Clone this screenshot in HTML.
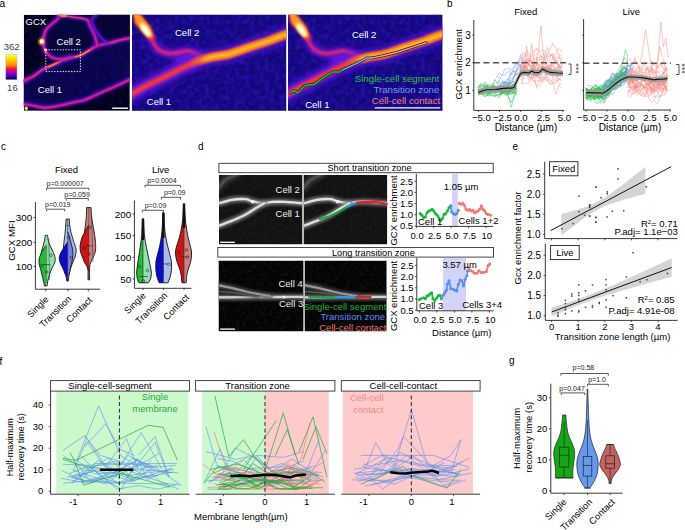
<!DOCTYPE html>
<html><head><meta charset="utf-8"><style>
html,body{margin:0;padding:0;background:#fff;}
svg{display:block;font-family:"Liberation Sans", sans-serif;}
</style></head><body>
<svg width="685" height="530" viewBox="0 0 685 530">
<defs>

<linearGradient id="cbar" x1="0" y1="0" x2="0" y2="1">
<stop offset="0" stop-color="#ffff30"/><stop offset="0.18" stop-color="#ffd800"/>
<stop offset="0.42" stop-color="#ff8a00"/><stop offset="0.56" stop-color="#e8183a"/>
<stop offset="0.70" stop-color="#b000b0"/><stop offset="0.83" stop-color="#4a00d8"/>
<stop offset="1" stop-color="#02002a"/></linearGradient>
<filter id="bl1" filterUnits="userSpaceOnUse" x="0" y="0" width="685" height="530"><feGaussianBlur stdDeviation="1.6"/></filter>
<filter id="bl2" filterUnits="userSpaceOnUse" x="0" y="0" width="685" height="530"><feGaussianBlur stdDeviation="0.8"/></filter>
<filter id="bl3" filterUnits="userSpaceOnUse" x="0" y="0" width="685" height="530"><feGaussianBlur stdDeviation="3"/></filter>
<filter id="bl4" filterUnits="userSpaceOnUse" x="0" y="0" width="685" height="530"><feGaussianBlur stdDeviation="0.45"/></filter>
<filter id="nzb" x="0" y="0" width="100%" height="100%" color-interpolation-filters="sRGB">
<feTurbulence type="fractalNoise" baseFrequency="0.2" numOctaves="2" seed="4"/>
<feColorMatrix type="matrix" values="0 0 0 0 0.2  0 0 0 0 0.07  0 0 0 0 0.72  1.8 0 0 0 -0.74"/>
</filter>
<filter id="nzg" x="0" y="0" width="100%" height="100%" color-interpolation-filters="sRGB">
<feTurbulence type="fractalNoise" baseFrequency="0.3" numOctaves="2" seed="9"/>
<feColorMatrix type="matrix" values="0 0 0 0 0.2  0 0 0 0 0.2  0 0 0 0 0.2  2.0 0 0 0 -0.9"/>
</filter>
<linearGradient id="fgr" gradientUnits="userSpaceOnUse" x1="188" y1="0" x2="208" y2="0"><stop offset="0" stop-color="#000"/><stop offset="1" stop-color="#fff"/></linearGradient>
<mask id="fadeR" maskUnits="userSpaceOnUse" x="0" y="0" width="685" height="530"><rect x="0" y="0" width="685" height="530" fill="url(#fgr)"/></mask>
<clipPath id="ca1"><rect x="23.8" y="14.8" width="106" height="96"/></clipPath>
<clipPath id="ca2"><rect x="132" y="14.8" width="154.2" height="96"/></clipPath>
<clipPath id="ca3"><rect x="288" y="14.8" width="154.4" height="96"/></clipPath>

<clipPath id="cd1"><rect x="219" y="175" width="83" height="69.4"/></clipPath>
<clipPath id="cd2"><rect x="304" y="175" width="83.3" height="69.4"/></clipPath>
<clipPath id="cd3"><rect x="218.5" y="260.6" width="85" height="70.8"/></clipPath>
<clipPath id="cd4"><rect x="305" y="260.6" width="81.7" height="70.8"/></clipPath>

</defs>
<text x="-0.50" y="7.00" font-size="10" text-anchor="start" fill="#000" >a</text>
<text x="447.00" y="7.00" font-size="10" text-anchor="start" fill="#000" >b</text>
<text x="1.00" y="150.30" font-size="10" text-anchor="start" fill="#000" >c</text>
<text x="198.00" y="150.30" font-size="10" text-anchor="start" fill="#000" >d</text>
<text x="512.50" y="150.30" font-size="10" text-anchor="start" fill="#000" >e</text>
<text x="-0.60" y="364.50" font-size="10" text-anchor="start" fill="#000" >f</text>
<text x="509.00" y="364.00" font-size="10" text-anchor="start" fill="#000" >g</text>
<path d="M478.3,90.6 L479.9,92.8 L481.6,91.7 L483.2,90.2 L484.9,88.4 L486.5,91.3 L488.2,92.9 L489.8,90.3 L491.5,89.3 L493.1,87.0 L494.8,86.8 L496.5,88.4 L498.1,89.5 L499.8,85.2 L501.4,87.8 L503.1,89.9 L504.7,91.5 L506.4,90.2 L508.0,89.4 L509.7,89.8 L511.3,89.5 L513.0,88.7 L514.6,87.6 L516.3,86.3" stroke="#2bb84a" stroke-width="0.55" fill="none" stroke-opacity="0.9" stroke-linejoin="round"/>
<path d="M478.2,93.1 L479.9,94.6 L481.6,92.9 L483.3,93.3 L485.0,91.8 L486.6,85.8 L488.3,88.4 L490.0,88.2 L491.7,91.6 L493.4,91.6 L495.0,89.9 L496.7,90.3 L498.4,89.7 L500.1,89.8 L501.8,91.7 L503.4,89.9 L505.1,91.3 L506.8,87.5 L508.5,89.5 L510.2,88.5 L511.8,89.1 L513.5,87.8 L515.2,89.6 L516.9,87.9" stroke="#2bb84a" stroke-width="0.55" fill="none" stroke-opacity="0.9" stroke-linejoin="round"/>
<path d="M477.6,88.0 L479.3,86.1 L481.0,85.6 L482.7,83.3 L484.4,85.5 L486.1,85.0 L487.8,84.8 L489.4,85.0 L491.1,85.2 L492.8,85.3 L494.5,86.6 L496.2,87.9 L497.9,87.5 L499.6,85.6 L501.3,83.1 L502.9,82.7 L504.6,82.3 L506.3,82.5 L508.0,82.7 L509.7,83.7 L511.4,83.1 L513.1,81.1 L514.7,83.6 L516.4,85.4" stroke="#2bb84a" stroke-width="0.55" fill="none" stroke-opacity="0.9" stroke-linejoin="round"/>
<path d="M477.9,90.8 L479.5,86.1 L481.2,84.8 L482.8,86.8 L484.5,86.8 L486.1,87.8 L487.8,90.0 L489.5,89.7 L491.1,88.7 L492.8,87.0 L494.4,86.7 L496.1,87.6 L497.7,85.9 L499.4,88.5 L501.0,87.2 L502.7,86.0 L504.4,87.6 L506.0,90.9 L507.7,91.1 L509.3,89.2 L511.0,87.7 L512.6,85.3 L514.3,88.2 L515.9,88.0" stroke="#2bb84a" stroke-width="0.55" fill="none" stroke-opacity="0.9" stroke-linejoin="round"/>
<path d="M478.8,86.3 L480.4,86.9 L482.1,90.3 L483.8,91.1 L485.4,90.5 L487.1,86.3 L488.8,87.3 L490.4,88.6 L492.1,86.8 L493.8,88.6 L495.4,86.2 L497.1,89.2 L498.8,90.3 L500.4,88.9 L502.1,86.9 L503.8,87.2 L505.4,87.9 L507.1,91.7 L508.8,91.7 L510.4,91.5 L512.1,91.3 L513.8,89.2 L515.4,89.7 L517.1,88.0" stroke="#2bb84a" stroke-width="0.55" fill="none" stroke-opacity="0.9" stroke-linejoin="round"/>
<path d="M478.3,89.7 L479.9,91.3 L481.6,91.7 L483.3,93.7 L485.0,89.7 L486.7,88.0 L488.3,89.7 L490.0,91.1 L491.7,93.0 L493.4,91.6 L495.1,90.7 L496.7,87.0 L498.4,88.3 L500.1,90.6 L501.8,94.5 L503.5,90.0 L505.2,89.8 L506.8,92.6 L508.5,91.0 L510.2,93.1 L511.9,85.6 L513.6,85.8 L515.2,86.8" stroke="#2bb84a" stroke-width="0.55" fill="none" stroke-opacity="0.9" stroke-linejoin="round"/>
<path d="M478.8,89.0 L480.4,92.0 L482.0,91.3 L483.7,87.4 L485.3,84.7 L487.0,88.1 L488.6,90.3 L490.3,87.3 L491.9,85.8 L493.6,88.1 L495.2,88.8 L496.8,89.0 L498.5,89.9 L500.1,89.5 L501.8,86.0 L503.4,85.2 L505.1,82.5 L506.7,84.6 L508.4,85.7 L510.0,87.7 L511.7,87.2 L513.3,88.9 L514.9,90.4 L516.6,87.1" stroke="#2bb84a" stroke-width="0.55" fill="none" stroke-opacity="0.9" stroke-linejoin="round"/>
<path d="M477.6,93.2 L479.2,92.8 L480.9,93.3 L482.6,94.8 L484.3,96.4 L486.0,96.8 L487.7,94.6 L489.4,93.1 L491.1,93.4 L492.7,90.3 L494.4,90.8 L496.1,90.4 L497.8,89.0 L499.5,91.7 L501.2,94.9 L502.9,92.0 L504.6,92.8 L506.3,89.9 L507.9,90.0 L509.6,88.9 L511.3,88.7 L513.0,93.3 L514.7,90.9 L516.4,92.0" stroke="#2bb84a" stroke-width="0.55" fill="none" stroke-opacity="0.9" stroke-linejoin="round"/>
<path d="M477.7,88.7 L479.4,92.0 L481.1,91.9 L482.7,94.7 L484.4,92.3 L486.1,89.9 L487.8,90.9 L489.4,89.7 L491.1,89.1 L492.8,87.4 L494.4,89.6 L496.1,90.7 L497.8,91.1 L499.5,87.0 L501.1,86.1 L502.8,87.6 L504.5,87.7 L506.1,87.9 L507.8,87.8 L509.5,88.4 L511.1,88.9 L512.8,90.6 L514.5,90.4 L516.2,86.5" stroke="#2bb84a" stroke-width="0.55" fill="none" stroke-opacity="0.9" stroke-linejoin="round"/>
<path d="M478.3,92.9 L480.0,94.2 L481.6,93.4 L483.3,92.9 L485.0,94.3 L486.7,95.0 L488.3,95.7 L490.0,96.1 L491.7,93.0 L493.4,96.8 L495.0,95.2 L496.7,94.9 L498.4,94.7 L500.1,93.4 L501.7,91.0 L503.4,91.5 L505.1,92.1 L506.8,93.1 L508.5,92.8 L510.1,90.8 L511.8,92.0 L513.5,93.8 L515.2,94.8" stroke="#2bb84a" stroke-width="0.55" fill="none" stroke-opacity="0.9" stroke-linejoin="round"/>
<path d="M478.2,92.1 L479.8,89.5 L481.5,91.8 L483.2,90.5 L484.9,89.7 L486.6,93.2 L488.2,94.9 L489.9,94.7 L491.6,91.5 L493.3,89.2 L495.0,92.2 L496.6,89.9 L498.3,91.1 L500.0,91.6 L501.7,92.1 L503.4,92.0 L505.0,94.3 L506.7,94.1 L508.4,94.4 L510.1,91.6 L511.7,87.4 L513.4,84.3 L515.1,87.8 L516.8,91.8" stroke="#2bb84a" stroke-width="0.55" fill="none" stroke-opacity="0.9" stroke-linejoin="round"/>
<path d="M478.0,92.7 L479.7,90.7 L481.3,90.4 L482.9,93.7 L484.5,93.6 L486.2,93.0 L487.8,92.2 L489.4,91.6 L491.0,92.0 L492.7,91.3 L494.3,92.2 L495.9,93.1 L497.5,89.5 L499.2,89.6 L500.8,89.5 L502.4,92.8 L504.0,92.0 L505.7,89.9 L507.3,92.4 L508.9,89.6 L510.5,90.6 L512.2,89.8 L513.8,90.2 L515.4,89.8 L517.0,87.9" stroke="#2bb84a" stroke-width="0.55" fill="none" stroke-opacity="0.9" stroke-linejoin="round"/>
<path d="M478.6,90.6 L480.2,93.7 L481.9,94.0 L483.5,92.0 L485.1,90.4 L486.8,94.6 L488.4,92.8 L490.0,89.6 L491.7,89.1 L493.3,91.2 L494.9,92.8 L496.6,93.1 L498.2,94.6 L499.9,93.8 L501.5,93.3 L503.1,92.9 L504.8,90.5 L506.4,91.6 L508.0,94.1 L509.7,91.2 L511.3,93.2 L512.9,93.1 L514.6,92.5 L516.2,92.5" stroke="#2bb84a" stroke-width="0.55" fill="none" stroke-opacity="0.9" stroke-linejoin="round"/>
<path d="M479.1,91.6 L480.8,89.4 L482.4,88.9 L484.1,88.5 L485.7,88.2 L487.4,92.7 L489.0,93.0 L490.7,91.5 L492.3,90.1 L494.0,88.0 L495.6,88.3 L497.3,89.6 L498.9,89.8 L500.6,90.2 L502.2,89.6 L503.9,88.6 L505.5,89.7 L507.2,91.0 L508.8,91.7 L510.5,88.8 L512.1,87.0 L513.8,86.5 L515.4,86.4 L517.1,86.4" stroke="#2bb84a" stroke-width="0.55" fill="none" stroke-opacity="0.9" stroke-linejoin="round"/>
<path d="M478.4,91.8 L480.0,90.2 L481.7,91.5 L483.3,91.4 L484.9,90.4 L486.6,88.3 L488.2,90.8 L489.9,92.2 L491.5,90.0 L493.1,92.0 L494.8,90.4 L496.4,91.3 L498.0,90.9 L499.7,93.5 L501.3,90.6 L502.9,91.1 L504.6,91.9 L506.2,87.4 L507.8,87.3 L509.5,82.6 L511.1,85.4 L512.8,88.0 L514.4,88.5 L516.0,86.2" stroke="#2bb84a" stroke-width="0.55" fill="none" stroke-opacity="0.9" stroke-linejoin="round"/>
<path d="M478.9,89.1 L480.6,90.2 L482.3,91.9 L484.0,89.2 L485.7,88.2 L487.3,88.6 L489.0,90.4 L490.7,93.1 L492.4,90.2 L494.1,89.7 L495.8,92.1 L497.5,90.5 L499.1,92.1 L500.8,90.4 L502.5,89.2 L504.2,88.2 L505.9,87.9 L507.6,87.8 L509.3,89.9 L510.9,89.6 L512.6,89.7 L514.3,89.2 L516.0,88.1" stroke="#2bb84a" stroke-width="0.55" fill="none" stroke-opacity="0.9" stroke-linejoin="round"/>
<path d="M478.9,95.2 L480.6,91.4 L482.3,91.7 L483.9,96.1 L485.6,94.8 L487.2,95.7 L488.9,93.5 L490.6,95.8 L492.2,95.4 L493.9,95.1 L495.6,94.9 L497.2,95.6 L498.9,98.0 L500.6,95.3 L502.2,93.0 L503.9,93.6 L505.6,95.5 L507.2,94.3 L508.9,93.1 L510.5,93.7 L512.2,93.6 L513.9,91.2 L515.5,94.2 L517.2,94.7" stroke="#2bb84a" stroke-width="0.55" fill="none" stroke-opacity="0.9" stroke-linejoin="round"/>
<path d="M478.6,87.9 L480.2,83.8 L481.8,85.0 L483.4,85.5 L485.1,81.8 L486.7,83.7 L488.3,87.4 L489.9,85.6 L491.6,86.9 L493.2,83.3 L494.8,86.2 L496.5,86.5 L498.1,88.3 L499.7,86.4 L501.3,87.2 L503.0,86.0 L504.6,85.9 L506.2,86.2 L507.8,83.7 L509.5,82.4 L511.1,83.2 L512.7,85.2 L514.3,86.4 L516.0,84.7" stroke="#2bb84a" stroke-width="0.55" fill="none" stroke-opacity="0.9" stroke-linejoin="round"/>
<path d="M478.6,93.7 L480.2,94.0 L481.9,92.8 L483.5,89.5 L485.1,90.1 L486.7,91.3 L488.3,93.7 L489.9,91.8 L491.6,91.2 L493.2,92.8 L494.8,93.4 L496.4,91.9 L498.0,89.4 L499.7,88.7 L501.3,89.0 L502.9,90.0 L504.5,89.4 L506.1,89.6 L507.7,86.0 L509.4,89.7 L511.0,90.3 L512.6,87.7 L514.2,89.0 L515.8,86.8" stroke="#2bb84a" stroke-width="0.55" fill="none" stroke-opacity="0.9" stroke-linejoin="round"/>
<path d="M478.9,92.0 L480.5,86.8 L482.2,86.7 L483.8,86.7 L485.5,86.1 L487.1,86.4 L488.8,85.7 L490.5,87.5 L492.1,88.3 L493.8,86.6 L495.4,88.0 L497.1,90.3 L498.7,89.5 L500.4,89.6 L502.0,87.7 L503.7,88.9 L505.3,90.1 L507.0,89.4 L508.7,85.9 L510.3,86.7 L512.0,86.8 L513.6,87.0 L515.3,86.6" stroke="#2bb84a" stroke-width="0.55" fill="none" stroke-opacity="0.9" stroke-linejoin="round"/>
<path d="M478.2,92.9 L479.9,94.0 L481.5,90.0 L483.2,92.2 L484.9,89.7 L486.6,90.1 L488.3,93.6 L490.0,92.7 L491.7,91.9 L493.4,92.8 L495.1,96.9 L496.7,95.6 L498.4,94.7 L500.1,95.7 L501.8,91.3 L503.5,92.5 L505.2,93.3 L506.9,93.5 L508.6,94.4 L510.2,94.8 L511.9,93.4 L513.6,92.4 L515.3,93.2 L517.0,92.9" stroke="#2bb84a" stroke-width="0.55" fill="none" stroke-opacity="0.9" stroke-linejoin="round"/>
<path d="M478.3,91.4 L479.9,91.7 L481.5,90.5 L483.2,92.3 L484.8,87.0 L486.4,88.5 L488.0,89.3 L489.7,90.7 L491.3,87.5 L492.9,86.2 L494.5,87.4 L496.2,90.7 L497.8,90.9 L499.4,89.0 L501.0,90.0 L502.7,91.5 L504.3,92.2 L505.9,91.9 L507.5,90.4 L509.2,90.6 L510.8,89.6 L512.4,84.5 L514.0,83.6 L515.7,87.7" stroke="#2bb84a" stroke-width="0.55" fill="none" stroke-opacity="0.9" stroke-linejoin="round"/>
<path d="M496.6,92.8 L498.2,92.0 L499.8,91.3 L501.5,89.7 L503.1,85.2 L504.7,82.6 L506.4,85.0 L508.0,84.4 L509.7,84.5 L511.3,80.6 L512.9,78.7 L514.6,75.5 L516.2,74.8 L517.9,78.0 L519.5,74.9 L521.1,72.8 L522.8,70.2" stroke="#6f9cf0" stroke-width="0.55" fill="none" stroke-opacity="0.9" stroke-linejoin="round"/>
<path d="M497.4,87.8 L499.1,85.5 L500.7,86.1 L502.4,88.0 L504.0,90.8 L505.7,88.4 L507.4,82.5 L509.0,80.4 L510.7,83.2 L512.3,82.0 L514.0,77.9 L515.7,71.8 L517.3,67.9 L519.0,66.5 L520.7,65.4 L522.3,67.0" stroke="#6f9cf0" stroke-width="0.55" fill="none" stroke-opacity="0.9" stroke-linejoin="round"/>
<path d="M497.3,91.6 L498.9,89.4 L500.6,84.9 L502.3,82.7 L504.0,81.5 L505.7,81.6 L507.4,84.2 L509.0,82.7 L510.7,79.8 L512.4,80.7 L514.1,76.1 L515.8,75.7 L517.4,73.6 L519.1,73.2 L520.8,74.5 L522.5,67.9" stroke="#6f9cf0" stroke-width="0.55" fill="none" stroke-opacity="0.9" stroke-linejoin="round"/>
<path d="M497.6,91.4 L499.3,90.6 L501.0,86.8 L502.7,81.4 L504.3,83.1 L506.0,82.1 L507.7,79.0 L509.4,79.8 L511.1,77.1 L512.7,78.0 L514.4,75.4 L516.1,73.4 L517.8,69.8 L519.4,68.7 L521.1,70.9 L522.8,68.2" stroke="#6f9cf0" stroke-width="0.55" fill="none" stroke-opacity="0.9" stroke-linejoin="round"/>
<path d="M496.4,77.8 L498.0,74.0 L499.6,73.0 L501.2,75.1 L502.8,74.3 L504.4,69.6 L506.0,69.5 L507.5,68.1 L509.1,67.8 L510.7,70.2 L512.3,69.0 L513.9,66.0 L515.5,63.7 L517.1,62.5 L518.7,65.5 L520.3,60.2 L521.9,56.9 L523.5,53.5" stroke="#6f9cf0" stroke-width="0.55" fill="none" stroke-opacity="0.9" stroke-linejoin="round"/>
<path d="M497.2,88.1 L498.9,91.5 L500.6,90.6 L502.2,90.6 L503.9,87.4 L505.6,82.8 L507.3,82.8 L508.9,84.5 L510.6,82.6 L512.3,81.6 L514.0,83.3 L515.7,78.9 L517.3,78.3 L519.0,74.9 L520.7,76.4 L522.4,71.9" stroke="#6f9cf0" stroke-width="0.55" fill="none" stroke-opacity="0.9" stroke-linejoin="round"/>
<path d="M497.5,75.8 L499.1,78.5 L500.8,77.3 L502.4,74.8 L504.1,75.5 L505.7,74.7 L507.3,72.0 L509.0,70.6 L510.6,75.6 L512.3,73.2 L513.9,69.2 L515.5,66.2 L517.2,62.0 L518.8,62.3 L520.5,55.1 L522.1,53.1 L523.7,52.4" stroke="#6f9cf0" stroke-width="0.55" fill="none" stroke-opacity="0.9" stroke-linejoin="round"/>
<path d="M497.4,82.4 L499.1,81.3 L500.7,85.2 L502.4,86.1 L504.0,82.9 L505.7,81.0 L507.3,78.9 L509.0,76.2 L510.7,74.9 L512.3,70.4 L514.0,71.5 L515.6,71.5 L517.3,69.6 L518.9,67.0 L520.6,64.5 L522.2,60.9" stroke="#6f9cf0" stroke-width="0.55" fill="none" stroke-opacity="0.9" stroke-linejoin="round"/>
<path d="M497.5,85.2 L499.1,80.0 L500.7,78.6 L502.2,80.0 L503.8,84.9 L505.4,84.6 L507.0,84.0 L508.6,81.6 L510.2,74.5 L511.8,72.3 L513.4,71.3 L514.9,72.9 L516.5,74.4 L518.1,73.0 L519.7,72.2 L521.3,63.7 L522.9,64.5" stroke="#6f9cf0" stroke-width="0.55" fill="none" stroke-opacity="0.9" stroke-linejoin="round"/>
<path d="M519.8,75.1 L521.5,75.8 L523.1,79.4 L524.8,77.4 L526.5,75.2 L528.2,76.0 L529.8,73.5 L531.5,71.2 L533.2,74.4 L534.9,80.4 L536.6,86.2 L538.2,84.2 L539.9,78.5 L541.6,74.6 L543.3,70.4 L545.0,65.6 L546.6,67.2 L548.3,65.4 L550.0,71.7 L551.7,70.1 L553.3,69.7 L555.0,70.9 L556.7,72.8 L558.4,76.4 L560.1,75.5 L561.7,71.4" stroke="#f4837a" stroke-width="0.5" fill="none" stroke-opacity="0.8" stroke-linejoin="round"/>
<path d="M521.2,74.8 L522.9,73.3 L524.6,73.8 L526.2,72.7 L527.9,74.5 L529.6,77.7 L531.2,77.7 L532.9,73.6 L534.6,68.8 L536.3,70.5 L537.9,68.6 L539.6,67.2 L541.3,67.2 L543.0,72.9 L544.6,71.9 L546.3,75.0 L548.0,71.0 L549.7,69.1 L551.3,68.0 L553.0,76.5 L554.7,73.9 L556.4,71.6 L558.0,75.6 L559.7,72.2 L561.4,72.1" stroke="#f4837a" stroke-width="0.5" fill="none" stroke-opacity="0.8" stroke-linejoin="round"/>
<path d="M520.7,62.4 L522.3,63.1 L524.0,63.6 L525.6,66.5 L527.3,68.8 L528.9,70.4 L530.5,72.7 L532.2,69.3 L533.8,70.0 L535.5,67.2 L537.1,70.9 L538.7,67.7 L540.4,68.0 L542.0,66.2 L543.7,67.0 L545.3,70.0 L546.9,66.1 L548.6,68.0 L550.2,68.6 L551.9,71.2 L553.5,70.1 L555.1,71.0 L556.8,69.7 L558.4,68.5 L560.1,70.6 L561.7,74.4" stroke="#f4837a" stroke-width="0.5" fill="none" stroke-opacity="0.8" stroke-linejoin="round"/>
<path d="M521.2,61.1 L522.8,61.1 L524.4,61.3 L526.1,61.1 L527.7,63.1 L529.3,63.2 L531.0,61.1 L532.6,63.7 L534.2,68.5 L535.9,68.5 L537.5,67.5 L539.1,72.8 L540.8,73.5 L542.4,70.4 L544.0,70.1 L545.7,69.1 L547.3,72.3 L548.9,68.5 L550.6,62.9 L552.2,64.2 L553.8,66.9 L555.5,70.2 L557.1,66.9 L558.7,66.5 L560.4,68.9 L562.0,64.8" stroke="#f4837a" stroke-width="0.5" fill="none" stroke-opacity="0.8" stroke-linejoin="round"/>
<path d="M520.6,54.7 L522.3,59.2 L524.0,56.4 L525.6,52.6 L527.3,50.8 L529.0,54.6 L530.6,57.6 L532.3,55.0 L534.0,52.9 L535.7,50.4 L537.3,48.6 L539.0,50.9 L540.7,53.8 L542.3,60.3 L544.0,57.7 L545.7,51.2 L547.4,54.1 L549.0,56.5 L550.7,55.1 L552.4,54.7 L554.0,59.6 L555.7,61.6 L557.4,64.3 L559.1,57.3 L560.7,59.7 L562.4,57.0" stroke="#f4837a" stroke-width="0.5" fill="none" stroke-opacity="0.8" stroke-linejoin="round"/>
<path d="M520.0,61.8 L521.6,63.6 L523.3,66.1 L524.9,66.9 L526.5,58.9 L528.2,65.2 L529.8,63.6 L531.5,67.7 L533.1,63.3 L534.8,59.9 L536.4,62.6 L538.0,57.0 L539.7,58.5 L541.3,56.1 L543.0,57.1 L544.6,60.4 L546.2,62.6 L547.9,63.6 L549.5,62.1 L551.2,62.5 L552.8,56.1 L554.4,58.6 L556.1,61.4 L557.7,64.3 L559.4,66.9 L561.0,70.9 L562.6,72.8" stroke="#f4837a" stroke-width="0.5" fill="none" stroke-opacity="0.8" stroke-linejoin="round"/>
<path d="M521.1,73.0 L522.8,72.0 L524.4,70.8 L526.1,73.8 L527.7,75.4 L529.4,78.1 L531.0,78.3 L532.7,80.5 L534.3,81.0 L536.0,80.9 L537.6,80.8 L539.3,81.0 L540.9,81.7 L542.6,77.0 L544.2,78.1 L545.9,81.0 L547.6,79.7 L549.2,82.5 L550.9,84.7 L552.5,83.0 L554.2,86.9 L555.8,94.6 L557.5,90.3 L559.1,84.7 L560.8,88.2" stroke="#f4837a" stroke-width="0.5" fill="none" stroke-opacity="0.8" stroke-linejoin="round"/>
<path d="M520.7,58.3 L522.4,58.6 L524.1,64.2 L525.7,60.1 L527.4,59.9 L529.1,58.4 L530.8,59.1 L532.5,65.0 L534.1,63.8 L535.8,66.5 L537.5,64.5 L539.2,65.6 L540.8,64.8 L542.5,63.9 L544.2,60.2 L545.9,57.3 L547.6,60.2 L549.2,59.6 L550.9,54.8 L552.6,53.7 L554.3,56.6 L555.9,57.0 L557.6,58.0 L559.3,55.0 L561.0,55.3 L562.6,54.6" stroke="#f4837a" stroke-width="0.5" fill="none" stroke-opacity="0.8" stroke-linejoin="round"/>
<path d="M520.9,65.2 L522.5,60.6 L524.2,58.6 L525.9,53.0 L527.6,59.3 L529.2,61.0 L530.9,55.5 L532.6,52.4 L534.2,50.3 L535.9,48.6 L537.6,49.8 L539.2,50.9 L540.9,51.6 L542.6,49.8 L544.2,51.3 L545.9,51.1 L547.6,47.5 L549.2,52.4 L550.9,55.1 L552.6,53.4 L554.2,54.5 L555.9,55.1 L557.6,48.8 L559.2,48.8 L560.9,51.3 L562.6,48.8" stroke="#f4837a" stroke-width="0.5" fill="none" stroke-opacity="0.8" stroke-linejoin="round"/>
<path d="M520.6,76.9 L522.2,69.2 L523.8,68.0 L525.4,69.7 L527.1,68.4 L528.7,71.2 L530.3,72.9 L531.9,72.1 L533.6,64.8 L535.2,72.6 L536.8,71.0 L538.4,66.9 L540.1,65.5 L541.7,60.8 L543.3,61.4 L544.9,62.8 L546.6,64.8 L548.2,68.5 L549.8,64.1 L551.4,68.9 L553.0,69.6 L554.7,71.4 L556.3,73.6 L557.9,79.6 L559.5,78.9 L561.2,76.9" stroke="#f4837a" stroke-width="0.5" fill="none" stroke-opacity="0.8" stroke-linejoin="round"/>
<path d="M521.0,64.5 L522.6,63.4 L524.3,67.2 L526.0,72.0 L527.7,74.4 L529.3,70.1 L531.0,66.9 L532.7,69.9 L534.4,69.4 L536.0,66.7 L537.7,63.2 L539.4,66.3 L541.1,67.5 L542.7,63.6 L544.4,57.5 L546.1,55.2 L547.8,61.3 L549.4,61.5 L551.1,63.8 L552.8,65.0 L554.5,67.7 L556.1,69.3 L557.8,69.3 L559.5,63.8 L561.2,62.7" stroke="#f4837a" stroke-width="0.5" fill="none" stroke-opacity="0.8" stroke-linejoin="round"/>
<path d="M521.0,72.6 L522.7,70.7 L524.4,65.8 L526.1,66.9 L527.7,68.7 L529.4,74.8 L531.1,73.7 L532.8,79.2 L534.4,73.9 L536.1,76.1 L537.8,75.9 L539.5,79.8 L541.1,80.4 L542.8,82.2 L544.5,77.4 L546.2,76.3 L547.8,79.6 L549.5,84.5 L551.2,82.9 L552.9,82.8 L554.6,84.6 L556.2,81.0 L557.9,80.4 L559.6,79.1 L561.3,80.1" stroke="#f4837a" stroke-width="0.5" fill="none" stroke-opacity="0.8" stroke-linejoin="round"/>
<path d="M520.5,68.8 L522.2,73.8 L523.8,72.3 L525.5,68.1 L527.2,67.4 L528.9,63.7 L530.5,65.4 L532.2,65.9 L533.9,70.2 L535.6,72.5 L537.2,77.0 L538.9,77.9 L540.6,75.2 L542.3,72.3 L543.9,68.0 L545.6,67.6 L547.3,70.7 L549.0,68.9 L550.6,69.2 L552.3,63.7 L554.0,58.7 L555.7,57.8 L557.3,63.2 L559.0,65.8 L560.7,65.7 L562.4,68.3" stroke="#f4837a" stroke-width="0.5" fill="none" stroke-opacity="0.8" stroke-linejoin="round"/>
<path d="M519.8,68.7 L521.5,71.2 L523.2,71.1 L524.8,66.7 L526.5,62.4 L528.1,60.8 L529.8,61.3 L531.5,60.8 L533.1,60.0 L534.8,57.9 L536.5,57.5 L538.1,64.3 L539.8,62.4 L541.4,62.5 L543.1,65.1 L544.8,64.3 L546.4,64.4 L548.1,65.4 L549.8,71.1 L551.4,70.3 L553.1,68.3 L554.7,68.6 L556.4,73.3 L558.1,71.1 L559.7,68.5 L561.4,68.0" stroke="#f4837a" stroke-width="0.5" fill="none" stroke-opacity="0.8" stroke-linejoin="round"/>
<path d="M520.4,84.0 L522.1,83.0 L523.7,73.0 L525.3,72.6 L527.0,74.0 L528.6,80.3 L530.2,80.3 L531.9,78.3 L533.5,81.0 L535.2,81.8 L536.8,88.5 L538.4,85.4 L540.1,86.4 L541.7,83.4 L543.3,79.0 L545.0,80.0 L546.6,77.4 L548.3,77.5 L549.9,78.9 L551.5,80.2 L553.2,83.0 L554.8,78.9 L556.5,76.8 L558.1,80.8 L559.7,78.4 L561.4,81.2" stroke="#f4837a" stroke-width="0.5" fill="none" stroke-opacity="0.8" stroke-linejoin="round"/>
<path d="M520.4,68.7 L522.1,67.1 L523.8,67.0 L525.4,65.0 L527.1,65.7 L528.8,65.7 L530.5,66.6 L532.2,64.9 L533.8,67.9 L535.5,66.1 L537.2,63.2 L538.9,65.6 L540.6,65.9 L542.2,69.1 L543.9,70.9 L545.6,70.8 L547.3,72.5 L549.0,75.4 L550.6,75.2 L552.3,74.4 L554.0,73.4 L555.7,71.4 L557.3,77.2 L559.0,72.4 L560.7,73.2 L562.4,75.7" stroke="#f4837a" stroke-width="0.5" fill="none" stroke-opacity="0.8" stroke-linejoin="round"/>
<path d="M521.3,79.0 L523.0,84.2 L524.7,83.1 L526.4,83.1 L528.0,84.0 L529.7,80.8 L531.4,75.6 L533.1,73.7 L534.7,77.5 L536.4,73.7 L538.1,76.2 L539.7,77.3 L541.4,79.8 L543.1,78.8 L544.8,77.6 L546.4,77.9 L548.1,79.2 L549.8,80.1 L551.5,81.5 L553.1,78.6 L554.8,80.6 L556.5,81.2 L558.2,81.8 L559.8,83.9 L561.5,84.1" stroke="#f4837a" stroke-width="0.5" fill="none" stroke-opacity="0.8" stroke-linejoin="round"/>
<path d="M520.0,65.3 L521.7,68.4 L523.3,66.8 L524.9,65.8 L526.6,68.0 L528.2,68.8 L529.9,66.2 L531.5,66.5 L533.2,66.1 L534.8,62.5 L536.5,63.1 L538.1,69.2 L539.8,71.2 L541.4,68.3 L543.1,68.7 L544.7,71.9 L546.4,77.1 L548.0,74.5 L549.6,68.9 L551.3,72.6 L552.9,78.2 L554.6,74.8 L556.2,75.2 L557.9,74.8 L559.5,74.5 L561.2,76.0" stroke="#f4837a" stroke-width="0.5" fill="none" stroke-opacity="0.8" stroke-linejoin="round"/>
<path d="M519.9,66.2 L521.5,66.7 L523.2,65.1 L524.9,68.3 L526.5,66.1 L528.2,64.1 L529.9,60.9 L531.5,62.1 L533.2,61.8 L534.9,64.5 L536.5,62.4 L538.2,61.1 L539.9,59.1 L541.5,61.8 L543.2,66.5 L544.9,66.8 L546.5,67.5 L548.2,69.6 L549.9,67.3 L551.5,64.5 L553.2,63.8 L554.9,61.2 L556.5,61.2 L558.2,65.3 L559.9,67.4 L561.5,68.3" stroke="#f4837a" stroke-width="0.5" fill="none" stroke-opacity="0.8" stroke-linejoin="round"/>
<path d="M519.8,70.6 L521.5,71.2 L523.1,67.0 L524.8,66.7 L526.5,64.7 L528.1,71.7 L529.8,76.7 L531.5,78.3 L533.1,74.1 L534.8,69.0 L536.5,71.4 L538.1,74.4 L539.8,76.9 L541.5,78.6 L543.1,75.7 L544.8,75.9 L546.5,69.6 L548.1,68.0 L549.8,70.8 L551.5,70.4 L553.1,71.2 L554.8,69.1 L556.5,67.0 L558.1,69.0 L559.8,67.0 L561.5,66.4" stroke="#f4837a" stroke-width="0.5" fill="none" stroke-opacity="0.8" stroke-linejoin="round"/>
<path d="M520.1,70.8 L521.7,66.5 L523.4,66.7 L525.0,68.6 L526.7,67.1 L528.3,71.5 L530.0,70.5 L531.6,73.9 L533.2,73.9 L534.9,77.9 L536.5,77.9 L538.2,73.2 L539.8,72.6 L541.5,75.2 L543.1,68.6 L544.8,70.2 L546.4,65.4 L548.1,67.3 L549.7,71.7 L551.3,65.5 L553.0,67.1 L554.6,65.0 L556.3,62.0 L557.9,67.0 L559.6,66.9 L561.2,68.7" stroke="#f4837a" stroke-width="0.5" fill="none" stroke-opacity="0.8" stroke-linejoin="round"/>
<path d="M521.0,59.5 L522.7,60.8 L524.3,59.4 L525.9,61.4 L527.6,61.7 L529.2,60.7 L530.8,60.5 L532.5,57.1 L534.1,55.3 L535.7,54.2 L537.4,53.6 L539.0,54.8 L540.6,59.6 L542.3,57.0 L543.9,52.9 L545.5,54.0 L547.2,56.3 L548.8,57.6 L550.4,54.9 L552.1,55.5 L553.7,59.6 L555.3,60.6 L557.0,63.1 L558.6,63.4 L560.2,65.7 L561.9,67.5" stroke="#f4837a" stroke-width="0.5" fill="none" stroke-opacity="0.8" stroke-linejoin="round"/>
<path d="M503.7,91.7 L507.9,95.8 L511.3,107.3 L513.8,98.5 L516.4,90.3" stroke="#2bb84a" stroke-width="0.55" fill="none" stroke-opacity="0.85" stroke-linejoin="round"/>
<path d="M507.1,93.0 L511.3,102.7 L514.7,94.4" stroke="#2bb84a" stroke-width="0.55" fill="none" stroke-opacity="0.85" stroke-linejoin="round"/>
<path d="M491.0,90.3 L495.2,79.3 L498.6,87.5" stroke="#2bb84a" stroke-width="0.55" fill="none" stroke-opacity="0.85" stroke-linejoin="round"/>
<path d="M534.1,68.3 L538.3,51.8 L540.9,25.7 L543.4,54.6 L546.8,65.5" stroke="#f4837a" stroke-width="0.55" fill="none" stroke-opacity="0.85" stroke-linejoin="round"/>
<path d="M524.0,71.0 L526.5,46.3 L529.1,65.5 L531.6,43.5 L534.1,62.8" stroke="#f4837a" stroke-width="0.55" fill="none" stroke-opacity="0.85" stroke-linejoin="round"/>
<path d="M546.0,57.3 L552.7,43.5 L557.8,51.8 L562.0,65.5" stroke="#f4837a" stroke-width="0.55" fill="none" stroke-opacity="0.85" stroke-linejoin="round"/>
<path d="M515.5,73.8 L518.1,61.4 L520.6,68.3" stroke="#6f9cf0" stroke-width="0.55" fill="none" stroke-opacity="0.85" stroke-linejoin="round"/>
<path d="M478.4,95.5 L482.6,93.8 L486.8,92.8 L491.0,92.8 L495.2,92.5 L499.5,91.9 L503.7,91.4 L507.9,91.1 L512.1,91.1 L513.8,90.5 L520.6,76.2 L524.8,75.4 L529.1,76.0 L531.6,74.0 L535.0,75.7 L539.2,75.4 L542.6,72.1 L546.0,74.0 L550.2,75.4 L554.4,75.7 L558.6,76.0 L562.9,76.2 L562.9,70.2 L558.6,70.0 L554.4,69.7 L550.2,69.4 L546.0,68.0 L542.6,66.1 L539.2,69.4 L535.0,69.7 L531.6,68.0 L529.1,70.0 L524.8,69.4 L520.6,70.2 L513.8,84.5 L512.1,85.1 L507.9,85.1 L503.7,85.4 L499.5,85.9 L495.2,86.5 L491.0,86.8 L486.8,86.8 L482.6,87.8 L478.4,89.5" stroke="none" stroke-width="0" fill="#9a9a9a" fill-opacity="0.9"/>
<path d="M478.4,92.5 L482.6,90.8 L486.8,89.8 L491.0,89.8 L495.2,89.5 L499.5,88.9 L503.7,88.4 L507.9,88.1 L512.1,88.1 L513.8,87.5 L520.6,73.2 L524.8,72.4 L529.1,73.0 L531.6,71.0 L535.0,72.7 L539.2,72.4 L542.6,69.1 L546.0,71.0 L550.2,72.4 L554.4,72.7 L558.6,73.0 L562.9,73.2" stroke="#111" stroke-width="1.1" fill="none" stroke-linejoin="round"/>
<line x1="473.80" y1="62.80" x2="566.00" y2="62.80" stroke="#555" stroke-width="1.5" stroke-dasharray="6,3.6"/>
<line x1="473.80" y1="20.00" x2="473.80" y2="110.40" stroke="#222" stroke-width="0.9" />
<line x1="473.80" y1="110.40" x2="564.00" y2="110.40" stroke="#222" stroke-width="0.9" />
<line x1="472.30" y1="90.30" x2="473.80" y2="90.30" stroke="#222" stroke-width="0.8" />
<line x1="472.30" y1="62.80" x2="473.80" y2="62.80" stroke="#222" stroke-width="0.8" />
<line x1="472.30" y1="35.20" x2="473.80" y2="35.20" stroke="#222" stroke-width="0.8" />
<line x1="478.35" y1="110.40" x2="478.35" y2="111.90" stroke="#222" stroke-width="0.8" />
<line x1="499.48" y1="110.40" x2="499.48" y2="111.90" stroke="#222" stroke-width="0.8" />
<line x1="520.60" y1="110.40" x2="520.60" y2="111.90" stroke="#222" stroke-width="0.8" />
<line x1="541.73" y1="110.40" x2="541.73" y2="111.90" stroke="#222" stroke-width="0.8" />
<line x1="562.85" y1="110.40" x2="562.85" y2="111.90" stroke="#222" stroke-width="0.8" />
<text x="525.80" y="15.00" font-size="9.5" text-anchor="middle" fill="#000" >Fixed</text>
<text x="481.40" y="121.00" font-size="9.6" text-anchor="middle" fill="#000" >−5.0</text>
<text x="502.50" y="121.00" font-size="9.6" text-anchor="middle" fill="#000" >−2.5</text>
<text x="521.00" y="121.00" font-size="9.6" text-anchor="middle" fill="#000" >0.0</text>
<text x="543.50" y="121.00" font-size="9.6" text-anchor="middle" fill="#000" >2.5</text>
<text x="564.50" y="121.00" font-size="9.6" text-anchor="middle" fill="#000" >5.0</text>
<text x="470.80" y="93.80" font-size="10" text-anchor="end" fill="#000" >1</text>
<text x="470.80" y="66.30" font-size="10" text-anchor="end" fill="#000" >2</text>
<text x="470.80" y="38.70" font-size="10" text-anchor="end" fill="#000" >3</text>
<path d="M568.5,64 H571 V74.5 H568.5" stroke="#222" stroke-width="0.8" fill="none" />
<text x="573.40" y="68.60" font-size="9" text-anchor="middle" fill="#444" transform="rotate(90 573.4 68.6)" >***</text>
<path d="M586.7,96.3 L588.4,98.1 L590.0,98.5 L591.7,98.6 L593.3,97.9 L594.9,96.5 L596.6,94.4 L598.2,94.8 L599.9,93.2 L601.5,93.6 L603.2,94.2 L604.8,94.0 L606.5,94.7 L608.1,95.8 L609.8,92.9 L611.4,90.8 L613.1,88.0 L614.7,85.7 L616.4,86.8 L618.0,85.9 L619.7,85.5 L621.3,80.6 L623.0,79.2 L624.6,77.3 L626.2,77.7 L627.9,78.0" stroke="#2bb84a" stroke-width="0.55" fill="none" stroke-opacity="0.85" stroke-linejoin="round"/>
<path d="M585.7,98.1 L587.3,99.2 L588.9,99.2 L590.5,98.9 L592.2,98.8 L593.8,97.1 L595.4,95.2 L597.0,95.1 L598.6,96.8 L600.2,95.9 L601.8,95.5 L603.5,93.7 L605.1,92.7 L606.7,95.2 L608.3,94.5 L609.9,92.8 L611.5,88.6 L613.2,87.6 L614.8,84.3 L616.4,83.0 L618.0,84.6 L619.6,82.5 L621.2,79.7 L622.8,77.8 L624.5,79.7 L626.1,76.6" stroke="#2bb84a" stroke-width="0.55" fill="none" stroke-opacity="0.85" stroke-linejoin="round"/>
<path d="M586.1,100.0 L587.7,95.1 L589.4,90.1 L591.1,89.9 L592.8,91.0 L594.4,88.8 L596.1,90.5 L597.8,94.1 L599.4,99.2 L601.1,95.6 L602.8,99.7 L604.4,101.8 L606.1,98.2 L607.8,94.0 L609.5,92.8 L611.1,87.7 L612.8,86.3 L614.5,84.2 L616.1,82.0 L617.8,82.0 L619.5,79.9 L621.1,73.9 L622.8,76.1 L624.5,74.7 L626.2,72.5 L627.8,72.7" stroke="#2bb84a" stroke-width="0.55" fill="none" stroke-opacity="0.85" stroke-linejoin="round"/>
<path d="M586.1,92.4 L587.7,91.5 L589.4,93.9 L591.1,96.4 L592.7,92.1 L594.4,91.4 L596.0,96.5 L597.7,96.4 L599.4,97.5 L601.0,97.6 L602.7,99.8 L604.3,97.2 L606.0,95.2 L607.7,92.9 L609.3,88.4 L611.0,86.7 L612.7,87.9 L614.3,89.1 L616.0,86.8 L617.6,81.6 L619.3,78.2 L621.0,78.7 L622.6,74.9 L624.3,73.5 L625.9,74.1 L627.6,71.8" stroke="#2bb84a" stroke-width="0.55" fill="none" stroke-opacity="0.85" stroke-linejoin="round"/>
<path d="M586.1,94.5 L587.7,97.7 L589.4,97.1 L591.0,97.2 L592.7,97.3 L594.3,99.8 L595.9,96.3 L597.6,94.2 L599.2,92.3 L600.8,93.4 L602.5,92.0 L604.1,91.9 L605.8,90.2 L607.4,91.2 L609.0,90.1 L610.7,90.0 L612.3,90.8 L613.9,89.5 L615.6,89.4 L617.2,88.8 L618.9,86.5 L620.5,84.9 L622.1,78.0 L623.8,74.0 L625.4,72.3 L627.0,71.3" stroke="#2bb84a" stroke-width="0.55" fill="none" stroke-opacity="0.85" stroke-linejoin="round"/>
<path d="M586.5,98.2 L588.1,98.1 L589.7,95.7 L591.4,97.5 L593.0,92.2 L594.6,94.9 L596.3,93.7 L597.9,97.9 L599.5,95.4 L601.2,98.2 L602.8,97.1 L604.4,95.3 L606.1,92.0 L607.7,89.9 L609.3,88.5 L611.0,88.2 L612.6,83.2 L614.2,84.4 L615.9,83.6 L617.5,83.6 L619.1,81.7 L620.8,82.2 L622.4,80.9 L624.0,77.7 L625.7,77.3 L627.3,74.4" stroke="#2bb84a" stroke-width="0.55" fill="none" stroke-opacity="0.85" stroke-linejoin="round"/>
<path d="M586.8,94.8 L588.4,96.5 L590.0,95.4 L591.7,94.3 L593.3,92.9 L594.9,92.4 L596.5,93.0 L598.1,97.5 L599.7,96.1 L601.4,97.2 L603.0,96.7 L604.6,93.4 L606.2,94.8 L607.8,91.0 L609.4,86.0 L611.1,86.1 L612.7,87.3 L614.3,84.1 L615.9,84.0 L617.5,81.6 L619.1,79.2 L620.8,82.7 L622.4,80.6 L624.0,82.4 L625.6,81.3 L627.2,77.5" stroke="#2bb84a" stroke-width="0.55" fill="none" stroke-opacity="0.85" stroke-linejoin="round"/>
<path d="M586.2,93.5 L587.8,93.0 L589.4,94.7 L591.0,96.2 L592.6,94.8 L594.2,96.5 L595.9,97.4 L597.5,94.9 L599.1,96.4 L600.7,97.5 L602.3,94.1 L603.9,93.4 L605.6,96.5 L607.2,94.9 L608.8,88.0 L610.4,81.5 L612.0,83.2 L613.6,81.7 L615.3,80.2 L616.9,79.5 L618.5,82.8 L620.1,78.6 L621.7,76.9 L623.4,76.4 L625.0,78.2 L626.6,76.8" stroke="#2bb84a" stroke-width="0.55" fill="none" stroke-opacity="0.85" stroke-linejoin="round"/>
<path d="M585.8,89.2 L587.5,88.6 L589.2,91.7 L590.9,92.5 L592.5,91.0 L594.2,92.0 L595.9,88.7 L597.6,90.6 L599.2,90.1 L600.9,89.2 L602.6,92.0 L604.3,87.7 L605.9,87.4 L607.6,87.5 L609.3,87.0 L611.0,88.1 L612.6,87.5 L614.3,80.9 L616.0,79.5 L617.7,78.4 L619.3,76.2 L621.0,73.6 L622.7,74.1 L624.3,72.7 L626.0,70.3" stroke="#2bb84a" stroke-width="0.55" fill="none" stroke-opacity="0.85" stroke-linejoin="round"/>
<path d="M586.8,93.7 L588.4,96.3 L590.1,95.3 L591.7,93.3 L593.3,93.8 L594.9,94.0 L596.6,95.7 L598.2,96.0 L599.8,95.9 L601.4,95.1 L603.1,92.1 L604.7,90.1 L606.3,87.5 L607.9,84.9 L609.6,86.0 L611.2,82.5 L612.8,82.4 L614.4,84.5 L616.1,83.7 L617.7,81.6 L619.3,82.7 L620.9,75.2 L622.6,74.7 L624.2,72.1 L625.8,74.0 L627.5,72.0" stroke="#2bb84a" stroke-width="0.55" fill="none" stroke-opacity="0.85" stroke-linejoin="round"/>
<path d="M586.8,89.0 L588.4,91.3 L590.0,89.3 L591.7,89.6 L593.3,91.0 L594.9,94.4 L596.6,92.5 L598.2,91.8 L599.8,85.8 L601.5,89.4 L603.1,85.9 L604.7,83.0 L606.4,82.4 L608.0,81.7 L609.6,80.3 L611.3,82.7 L612.9,77.9 L614.5,77.9 L616.2,78.1 L617.8,76.2 L619.4,79.9 L621.1,78.8 L622.7,77.2 L624.3,76.5 L625.9,71.2" stroke="#2bb84a" stroke-width="0.55" fill="none" stroke-opacity="0.85" stroke-linejoin="round"/>
<path d="M586.4,93.5 L588.0,93.1 L589.7,92.3 L591.3,93.1 L593.0,93.9 L594.7,93.4 L596.3,93.2 L598.0,91.8 L599.6,95.3 L601.3,96.6 L602.9,96.1 L604.6,92.4 L606.2,93.2 L607.9,88.1 L609.5,84.0 L611.2,85.3 L612.8,81.8 L614.5,85.5 L616.1,83.1 L617.8,84.2 L619.4,78.9 L621.1,75.6 L622.7,73.7 L624.4,74.1 L626.0,74.9" stroke="#2bb84a" stroke-width="0.55" fill="none" stroke-opacity="0.85" stroke-linejoin="round"/>
<path d="M586.5,94.0 L588.2,93.1 L589.8,98.1 L591.4,99.1 L593.1,98.5 L594.7,98.0 L596.4,99.9 L598.0,97.6 L599.7,98.5 L601.3,97.0 L602.9,99.4 L604.6,98.2 L606.2,93.2 L607.9,94.4 L609.5,91.2 L611.1,85.7 L612.8,83.2 L614.4,85.3 L616.1,78.9 L617.7,80.0 L619.4,77.2 L621.0,74.8 L622.6,75.4 L624.3,73.2 L625.9,78.1 L627.6,74.8" stroke="#2bb84a" stroke-width="0.55" fill="none" stroke-opacity="0.85" stroke-linejoin="round"/>
<path d="M585.6,97.4 L587.2,99.2 L588.9,97.5 L590.5,95.8 L592.2,96.8 L593.8,96.9 L595.4,102.5 L597.1,104.2 L598.7,101.3 L600.4,103.3 L602.0,99.9 L603.7,96.4 L605.3,97.6 L606.9,98.1 L608.6,95.9 L610.2,93.2 L611.9,89.8 L613.5,89.2 L615.2,87.8 L616.8,88.4 L618.5,85.6 L620.1,85.5 L621.7,81.3 L623.4,78.8 L625.0,81.4 L626.7,78.4" stroke="#2bb84a" stroke-width="0.55" fill="none" stroke-opacity="0.85" stroke-linejoin="round"/>
<path d="M585.8,93.8 L587.5,91.4 L589.1,93.2 L590.8,94.9 L592.5,93.5 L594.1,97.6 L595.8,97.6 L597.5,98.2 L599.1,98.1 L600.8,101.0 L602.5,103.0 L604.1,103.0 L605.8,96.0 L607.4,94.8 L609.1,91.5 L610.8,90.5 L612.4,89.5 L614.1,85.3 L615.8,89.3 L617.4,87.0 L619.1,86.1 L620.8,85.3 L622.4,85.6 L624.1,85.0 L625.8,83.4 L627.4,77.3" stroke="#2bb84a" stroke-width="0.55" fill="none" stroke-opacity="0.85" stroke-linejoin="round"/>
<path d="M585.7,91.1 L587.3,91.3 L589.0,91.8 L590.6,91.1 L592.2,93.3 L593.8,92.6 L595.4,89.3 L597.1,91.9 L598.7,93.9 L600.3,96.4 L601.9,94.8 L603.5,92.0 L605.2,91.4 L606.8,90.3 L608.4,86.1 L610.0,85.2 L611.6,82.8 L613.3,82.9 L614.9,79.1 L616.5,77.0 L618.1,77.3 L619.7,77.7 L621.4,71.2 L623.0,73.9 L624.6,74.7 L626.2,77.6" stroke="#2bb84a" stroke-width="0.55" fill="none" stroke-opacity="0.85" stroke-linejoin="round"/>
<path d="M586.4,89.5 L588.0,91.2 L589.7,92.9 L591.3,92.1 L593.0,90.6 L594.6,90.5 L596.2,91.2 L597.9,89.2 L599.5,88.9 L601.2,90.0 L602.8,88.7 L604.5,87.1 L606.1,84.3 L607.7,82.2 L609.4,80.6 L611.0,81.6 L612.7,77.9 L614.3,75.7 L616.0,76.9 L617.6,73.4 L619.3,73.1 L620.9,74.4 L622.5,72.8 L624.2,73.6 L625.8,68.8 L627.5,70.1" stroke="#2bb84a" stroke-width="0.55" fill="none" stroke-opacity="0.85" stroke-linejoin="round"/>
<path d="M585.6,97.1 L587.3,100.2 L588.9,99.0 L590.6,101.7 L592.2,98.4 L593.9,99.7 L595.6,98.7 L597.2,98.1 L598.9,100.5 L600.5,98.3 L602.2,94.2 L603.8,96.1 L605.5,95.6 L607.1,92.9 L608.8,89.0 L610.4,90.2 L612.1,88.3 L613.7,86.2 L615.4,83.0 L617.0,84.1 L618.7,77.8 L620.3,74.3 L622.0,78.2 L623.7,78.9 L625.3,76.4 L627.0,76.3" stroke="#2bb84a" stroke-width="0.55" fill="none" stroke-opacity="0.85" stroke-linejoin="round"/>
<path d="M586.2,90.3 L587.8,91.3 L589.4,90.4 L591.1,88.5 L592.7,87.2 L594.3,88.5 L595.9,85.4 L597.6,88.3 L599.2,87.5 L600.8,85.3 L602.4,87.1 L604.1,85.8 L605.7,86.8 L607.3,87.0 L608.9,85.1 L610.6,82.8 L612.2,81.1 L613.8,78.9 L615.4,77.6 L617.1,77.1 L618.7,77.3 L620.3,75.8 L621.9,74.0 L623.6,72.5 L625.2,73.1 L626.8,68.3" stroke="#2bb84a" stroke-width="0.55" fill="none" stroke-opacity="0.85" stroke-linejoin="round"/>
<path d="M585.7,96.1 L587.4,96.6 L589.0,95.2 L590.7,96.6 L592.3,96.2 L593.9,97.1 L595.6,95.5 L597.2,94.9 L598.9,94.0 L600.5,94.0 L602.2,94.2 L603.8,93.3 L605.5,91.0 L607.1,92.5 L608.8,93.2 L610.4,90.6 L612.1,88.3 L613.7,87.1 L615.4,82.5 L617.0,81.1 L618.7,78.1 L620.3,78.0 L622.0,80.2 L623.6,80.9 L625.3,76.1 L626.9,74.6" stroke="#2bb84a" stroke-width="0.55" fill="none" stroke-opacity="0.85" stroke-linejoin="round"/>
<path d="M585.2,87.4 L586.8,89.8 L588.5,92.4 L590.1,95.4 L591.7,91.8 L593.3,94.8 L595.0,94.4 L596.6,93.2 L598.2,91.5 L599.8,95.2 L601.5,94.3 L603.1,94.6 L604.7,89.2 L606.3,88.5 L608.0,88.4 L609.6,83.2 L611.2,82.5 L612.9,80.3 L614.5,79.3 L616.1,79.0 L617.7,76.6 L619.4,77.3 L621.0,78.5 L622.6,77.2 L624.2,73.4 L625.9,72.5 L627.5,68.6" stroke="#2bb84a" stroke-width="0.55" fill="none" stroke-opacity="0.85" stroke-linejoin="round"/>
<path d="M585.5,88.1 L587.2,89.1 L588.8,89.4 L590.5,89.5 L592.1,87.4 L593.8,85.2 L595.4,84.7 L597.1,86.1 L598.7,87.6 L600.4,87.8 L602.0,89.5 L603.7,88.7 L605.3,87.8 L607.0,86.1 L608.6,89.0 L610.3,85.6 L611.9,81.7 L613.6,82.1 L615.2,76.4 L616.9,75.4 L618.5,75.6 L620.2,71.4 L621.8,72.7 L623.5,66.0 L625.1,67.9 L626.8,65.3" stroke="#2bb84a" stroke-width="0.55" fill="none" stroke-opacity="0.85" stroke-linejoin="round"/>
<path d="M585.2,95.8 L586.8,94.9 L588.5,92.9 L590.1,97.8 L591.8,95.4 L593.4,97.2 L595.1,97.3 L596.7,96.4 L598.4,96.9 L600.0,94.8 L601.6,97.8 L603.3,95.2 L604.9,95.3 L606.6,93.5 L608.2,91.3 L609.9,91.9 L611.5,88.3 L613.2,82.2 L614.8,83.3 L616.4,83.8 L618.1,79.0 L619.7,75.2 L621.4,79.4 L623.0,78.2 L624.7,77.7 L626.3,75.0" stroke="#2bb84a" stroke-width="0.55" fill="none" stroke-opacity="0.85" stroke-linejoin="round"/>
<path d="M586.1,98.1 L587.7,97.6 L589.4,96.5 L591.0,93.8 L592.6,94.6 L594.3,95.5 L595.9,98.2 L597.5,97.6 L599.2,95.2 L600.8,95.4 L602.4,94.0 L604.0,95.4 L605.7,93.0 L607.3,93.0 L608.9,93.2 L610.6,92.7 L612.2,88.3 L613.8,86.2 L615.5,85.9 L617.1,85.3 L618.7,82.3 L620.3,82.3 L622.0,78.7 L623.6,77.6 L625.2,78.0 L626.9,76.9" stroke="#2bb84a" stroke-width="0.55" fill="none" stroke-opacity="0.85" stroke-linejoin="round"/>
<path d="M586.1,91.7 L587.8,92.6 L589.4,93.0 L591.0,91.3 L592.7,93.5 L594.3,97.1 L595.9,91.2 L597.6,90.6 L599.2,90.2 L600.8,88.0 L602.5,86.8 L604.1,84.3 L605.7,83.0 L607.4,82.0 L609.0,81.4 L610.6,81.6 L612.3,81.1 L613.9,86.9 L615.5,79.8 L617.2,78.3 L618.8,78.5 L620.4,73.9 L622.1,74.2 L623.7,71.7 L625.3,72.0 L627.0,72.1" stroke="#2bb84a" stroke-width="0.55" fill="none" stroke-opacity="0.85" stroke-linejoin="round"/>
<path d="M586.4,89.7 L588.1,91.3 L589.7,90.4 L591.3,88.7 L593.0,87.9 L594.6,88.5 L596.3,88.6 L597.9,87.0 L599.5,88.7 L601.2,90.7 L602.8,91.9 L604.4,84.5 L606.1,87.5 L607.7,86.8 L609.4,89.4 L611.0,86.9 L612.6,85.1 L614.3,83.3 L615.9,79.9 L617.5,76.0 L619.2,75.5 L620.8,76.5 L622.4,76.0 L624.1,74.1 L625.7,73.9 L627.4,71.9" stroke="#2bb84a" stroke-width="0.55" fill="none" stroke-opacity="0.85" stroke-linejoin="round"/>
<path d="M585.6,94.5 L587.2,91.7 L588.8,94.1 L590.4,96.7 L592.0,91.0 L593.7,89.7 L595.3,89.8 L596.9,88.5 L598.5,92.0 L600.1,94.4 L601.8,90.6 L603.4,90.6 L605.0,92.8 L606.6,90.7 L608.2,85.6 L609.9,87.0 L611.5,88.4 L613.1,90.0 L614.7,86.2 L616.3,83.3 L618.0,82.0 L619.6,80.5 L621.2,78.5 L622.8,77.4 L624.4,76.0 L626.1,71.6 L627.7,70.3" stroke="#2bb84a" stroke-width="0.55" fill="none" stroke-opacity="0.85" stroke-linejoin="round"/>
<path d="M585.8,96.1 L587.4,93.2 L589.1,96.2 L590.7,94.0 L592.4,95.0 L594.1,94.5 L595.7,95.6 L597.4,96.7 L599.0,97.6 L600.7,96.3 L602.3,93.3 L604.0,94.5 L605.6,93.5 L607.3,93.0 L608.9,91.9 L610.6,87.7 L612.3,86.8 L613.9,86.6 L615.6,82.7 L617.2,80.5 L618.9,78.6 L620.5,77.2 L622.2,77.3 L623.8,74.0 L625.5,74.2 L627.1,72.1" stroke="#2bb84a" stroke-width="0.55" fill="none" stroke-opacity="0.85" stroke-linejoin="round"/>
<path d="M585.6,93.9 L587.3,93.0 L588.9,92.4 L590.5,92.2 L592.2,96.1 L593.8,93.2 L595.4,94.1 L597.1,94.7 L598.7,90.7 L600.3,91.8 L602.0,90.2 L603.6,93.7 L605.2,90.1 L606.9,88.3 L608.5,86.5 L610.1,87.2 L611.8,84.5 L613.4,83.4 L615.0,79.2 L616.7,79.7 L618.3,81.5 L619.9,76.9 L621.6,77.6 L623.2,75.9 L624.8,72.3 L626.4,67.9" stroke="#2bb84a" stroke-width="0.55" fill="none" stroke-opacity="0.85" stroke-linejoin="round"/>
<path d="M585.3,90.0 L586.9,89.7 L588.6,92.0 L590.2,91.1 L591.8,88.8 L593.4,89.4 L595.1,90.3 L596.7,89.1 L598.3,91.5 L599.9,91.7 L601.6,87.0 L603.2,86.7 L604.8,85.3 L606.4,85.6 L608.1,86.4 L609.7,87.1 L611.3,84.7 L612.9,80.2 L614.6,79.6 L616.2,76.9 L617.8,76.9 L619.4,75.5 L621.1,73.6 L622.7,67.0 L624.3,67.8 L625.9,69.7" stroke="#2bb84a" stroke-width="0.55" fill="none" stroke-opacity="0.85" stroke-linejoin="round"/>
<path d="M586.6,84.2 L588.3,86.2 L589.9,85.3 L591.6,86.3 L593.3,87.6 L594.9,85.8 L596.6,85.0 L598.3,89.3 L599.9,86.6 L601.6,84.8 L603.3,84.5 L604.9,82.8 L606.6,81.3 L608.2,79.7 L609.9,79.5 L611.6,76.1 L613.2,73.0 L614.9,74.6 L616.6,73.3 L618.2,73.7 L619.9,72.6 L621.6,68.5 L623.2,67.3 L624.9,65.7 L626.6,65.2" stroke="#2bb84a" stroke-width="0.55" fill="none" stroke-opacity="0.85" stroke-linejoin="round"/>
<path d="M585.2,90.9 L586.9,90.0 L588.6,91.3 L590.3,92.9 L591.9,95.7 L593.6,92.7 L595.3,90.2 L596.9,87.4 L598.6,89.7 L600.3,89.9 L601.9,95.5 L603.6,93.1 L605.3,93.4 L606.9,93.0 L608.6,92.3 L610.3,91.3 L611.9,89.5 L613.6,85.7 L615.3,85.3 L616.9,83.8 L618.6,81.9 L620.3,76.0 L622.0,74.3 L623.6,75.3 L625.3,72.7 L627.0,68.8" stroke="#2bb84a" stroke-width="0.55" fill="none" stroke-opacity="0.85" stroke-linejoin="round"/>
<path d="M585.4,97.2 L587.1,96.7 L588.8,94.7 L590.4,92.5 L592.1,94.6 L593.7,97.8 L595.4,97.8 L597.1,96.9 L598.7,97.6 L600.4,96.3 L602.1,98.2 L603.7,95.3 L605.4,92.1 L607.1,87.3 L608.7,87.8 L610.4,85.4 L612.1,86.6 L613.7,86.7 L615.4,86.4 L617.1,84.3 L618.7,84.7 L620.4,85.3 L622.0,77.5 L623.7,77.0 L625.4,75.5 L627.0,73.7" stroke="#2bb84a" stroke-width="0.55" fill="none" stroke-opacity="0.85" stroke-linejoin="round"/>
<path d="M585.6,87.8 L587.3,91.0 L588.9,89.8 L590.6,91.7 L592.2,93.6 L593.9,90.9 L595.5,90.2 L597.2,88.9 L598.8,88.2 L600.5,92.8 L602.1,90.7 L603.8,86.1 L605.4,85.6 L607.1,83.3 L608.7,80.4 L610.4,77.4 L612.0,83.1 L613.7,81.9 L615.3,80.2 L617.0,78.8 L618.6,74.9 L620.3,76.4 L621.9,78.9 L623.6,74.7 L625.2,72.6 L626.9,68.3" stroke="#2bb84a" stroke-width="0.55" fill="none" stroke-opacity="0.85" stroke-linejoin="round"/>
<path d="M585.5,94.6 L587.2,96.3 L588.8,91.3 L590.5,92.3 L592.2,90.6 L593.8,90.6 L595.5,90.0 L597.2,89.1 L598.8,88.4 L600.5,88.6 L602.2,90.0 L603.8,88.8 L605.5,92.1 L607.1,91.6 L608.8,86.3 L610.5,84.1 L612.1,86.0 L613.8,86.3 L615.5,85.7 L617.1,83.3 L618.8,78.8 L620.5,77.3 L622.1,74.3 L623.8,75.7 L625.5,73.8 L627.1,71.5" stroke="#2bb84a" stroke-width="0.55" fill="none" stroke-opacity="0.85" stroke-linejoin="round"/>
<path d="M585.2,90.2 L586.8,90.7 L588.5,94.1 L590.1,95.2 L591.8,96.2 L593.4,92.3 L595.1,91.4 L596.7,92.2 L598.4,93.9 L600.0,94.9 L601.7,91.6 L603.3,92.3 L605.0,92.4 L606.6,92.2 L608.2,88.7 L609.9,90.8 L611.5,89.0 L613.2,85.2 L614.8,81.9 L616.5,79.8 L618.1,79.6 L619.8,76.8 L621.4,73.0 L623.1,74.8 L624.7,75.3 L626.3,74.2" stroke="#2bb84a" stroke-width="0.55" fill="none" stroke-opacity="0.85" stroke-linejoin="round"/>
<path d="M586.2,94.5 L587.9,95.9 L589.6,94.6 L591.3,94.9 L592.9,92.8 L594.6,95.2 L596.3,96.4 L598.0,94.9 L599.6,94.0 L601.3,94.5 L603.0,93.0 L604.7,92.4 L606.3,91.1 L608.0,91.4 L609.7,88.7 L611.4,84.8 L613.0,83.8 L614.7,82.5 L616.4,79.2 L618.1,79.2 L619.8,79.0 L621.4,77.0 L623.1,72.2 L624.8,72.6 L626.5,71.6" stroke="#2bb84a" stroke-width="0.55" fill="none" stroke-opacity="0.85" stroke-linejoin="round"/>
<path d="M585.7,97.9 L587.3,95.4 L589.0,93.2 L590.6,91.2 L592.3,91.9 L593.9,91.9 L595.6,93.8 L597.2,97.1 L598.9,95.5 L600.6,94.6 L602.2,93.6 L603.9,90.3 L605.5,85.2 L607.2,85.4 L608.8,82.6 L610.5,83.2 L612.1,82.7 L613.8,84.3 L615.5,82.3 L617.1,82.2 L618.8,80.0 L620.4,81.1 L622.1,76.5 L623.7,78.0 L625.4,74.7 L627.0,76.8" stroke="#2bb84a" stroke-width="0.55" fill="none" stroke-opacity="0.85" stroke-linejoin="round"/>
<path d="M585.4,93.2 L587.1,92.7 L588.7,92.5 L590.3,91.9 L591.9,89.4 L593.5,91.3 L595.1,93.2 L596.8,93.6 L598.4,91.0 L600.0,92.6 L601.6,95.5 L603.2,94.3 L604.8,89.3 L606.5,84.9 L608.1,86.0 L609.7,86.1 L611.3,82.9 L612.9,79.9 L614.5,79.4 L616.2,78.5 L617.8,75.9 L619.4,78.3 L621.0,73.5 L622.6,74.7 L624.2,76.5 L625.9,71.0 L627.5,69.4" stroke="#2bb84a" stroke-width="0.55" fill="none" stroke-opacity="0.85" stroke-linejoin="round"/>
<path d="M585.9,89.2 L587.6,89.2 L589.3,89.7 L590.9,89.9 L592.6,92.2 L594.2,87.5 L595.9,89.5 L597.5,92.1 L599.2,90.7 L600.8,90.9 L602.5,92.0 L604.2,84.0 L605.8,83.7 L607.5,87.1 L609.1,86.1 L610.8,84.7 L612.4,82.7 L614.1,79.6 L615.7,77.4 L617.4,72.9 L619.0,73.9 L620.7,73.7 L622.4,70.3 L624.0,67.5 L625.7,68.0 L627.3,68.2" stroke="#2bb84a" stroke-width="0.55" fill="none" stroke-opacity="0.85" stroke-linejoin="round"/>
<path d="M602.2,95.5 L603.9,94.7 L605.6,93.7 L607.2,93.0 L608.9,94.4 L610.5,91.6 L612.2,88.7 L613.9,86.4 L615.5,87.1 L617.2,86.3 L618.9,82.7 L620.5,79.9 L622.2,81.4 L623.8,83.0 L625.5,80.6 L627.2,81.7 L628.8,75.6 L630.5,74.9 L632.1,72.3" stroke="#6f9cf0" stroke-width="0.55" fill="none" stroke-opacity="0.9" stroke-linejoin="round"/>
<path d="M603.3,82.0 L604.9,81.8 L606.5,80.4 L608.1,80.5 L609.7,79.1 L611.3,76.9 L612.9,75.5 L614.6,74.1 L616.2,76.6 L617.8,74.9 L619.4,75.7 L621.0,72.9 L622.6,72.5 L624.3,73.8 L625.9,67.9 L627.5,66.9 L629.1,66.0 L630.7,64.3 L632.3,63.0" stroke="#6f9cf0" stroke-width="0.55" fill="none" stroke-opacity="0.9" stroke-linejoin="round"/>
<path d="M603.6,92.1 L605.2,94.0 L606.8,91.1 L608.4,88.3 L610.0,88.0 L611.6,87.7 L613.2,88.4 L614.8,84.7 L616.4,84.9 L618.0,83.1 L619.6,84.2 L621.2,82.7 L622.8,83.9 L624.4,82.7 L626.0,78.5 L627.7,78.7 L629.3,78.4 L630.9,77.2 L632.5,75.4" stroke="#6f9cf0" stroke-width="0.55" fill="none" stroke-opacity="0.9" stroke-linejoin="round"/>
<path d="M602.6,92.9 L604.2,91.5 L605.8,90.0 L607.4,88.3 L609.0,91.0 L610.7,85.2 L612.3,88.0 L613.9,83.4 L615.5,84.1 L617.1,86.7 L618.7,86.8 L620.3,87.6 L621.9,83.5 L623.6,81.2 L625.2,73.5 L626.8,72.6 L628.4,73.2 L630.0,69.3 L631.6,63.0" stroke="#6f9cf0" stroke-width="0.55" fill="none" stroke-opacity="0.9" stroke-linejoin="round"/>
<path d="M602.8,95.0 L604.4,89.5 L606.0,86.3 L607.6,83.6 L609.2,83.3 L610.8,80.4 L612.4,83.7 L614.0,79.7 L615.6,82.0 L617.2,82.2 L618.8,79.4 L620.4,79.9 L622.0,77.3 L623.6,75.0 L625.2,71.5 L626.8,70.9 L628.4,69.6 L630.0,69.1 L631.6,67.9" stroke="#6f9cf0" stroke-width="0.55" fill="none" stroke-opacity="0.9" stroke-linejoin="round"/>
<path d="M602.3,95.3 L603.9,99.8 L605.6,96.4 L607.2,97.5 L608.9,96.5 L610.5,92.3 L612.1,94.8 L613.8,92.7 L615.4,89.2 L617.1,86.7 L618.7,85.5 L620.4,86.0 L622.0,79.5 L623.7,80.9 L625.3,80.3 L627.0,76.6 L628.6,74.7 L630.3,71.8 L631.9,68.3" stroke="#6f9cf0" stroke-width="0.55" fill="none" stroke-opacity="0.9" stroke-linejoin="round"/>
<path d="M603.4,87.6 L605.0,87.8 L606.7,85.9 L608.3,86.0 L610.0,78.2 L611.7,73.0 L613.3,73.8 L615.0,77.1 L616.7,81.3 L618.3,82.0 L620.0,76.2 L621.6,76.5 L623.3,74.7 L625.0,73.3 L626.6,71.9 L628.3,70.4 L630.0,68.7 L631.6,63.3" stroke="#6f9cf0" stroke-width="0.55" fill="none" stroke-opacity="0.9" stroke-linejoin="round"/>
<path d="M602.0,86.9 L603.6,88.1 L605.3,84.6 L606.9,86.2 L608.5,82.8 L610.1,81.9 L611.8,80.3 L613.4,80.6 L615.0,74.3 L616.6,73.4 L618.3,75.1 L619.9,70.4 L621.5,72.3 L623.1,70.3 L624.8,68.1 L626.4,67.9 L628.0,66.0 L629.6,66.5 L631.3,64.6 L632.9,65.4" stroke="#6f9cf0" stroke-width="0.55" fill="none" stroke-opacity="0.9" stroke-linejoin="round"/>
<path d="M602.5,85.6 L604.1,86.4 L605.7,80.3 L607.3,80.4 L608.9,80.1 L610.5,79.8 L612.1,76.8 L613.7,77.4 L615.3,74.9 L616.9,74.6 L618.5,76.9 L620.1,75.0 L621.7,69.4 L623.3,70.8 L624.9,67.8 L626.4,69.4 L628.0,65.4 L629.6,66.8 L631.2,66.5" stroke="#6f9cf0" stroke-width="0.55" fill="none" stroke-opacity="0.9" stroke-linejoin="round"/>
<path d="M602.4,94.6 L604.0,95.0 L605.6,92.8 L607.2,91.4 L608.8,89.7 L610.4,89.4 L612.0,89.1 L613.6,87.5 L615.2,88.1 L616.8,86.3 L618.4,79.2 L620.0,79.9 L621.6,83.2 L623.1,81.4 L624.7,80.7 L626.3,80.8 L627.9,78.4 L629.5,77.0 L631.1,73.2 L632.7,68.9" stroke="#6f9cf0" stroke-width="0.55" fill="none" stroke-opacity="0.9" stroke-linejoin="round"/>
<path d="M603.0,87.1 L604.6,84.5 L606.3,84.4 L607.9,79.1 L609.6,82.2 L611.2,80.7 L612.9,78.9 L614.5,79.3 L616.2,77.6 L617.8,79.2 L619.5,78.9 L621.1,76.0 L622.8,75.6 L624.4,72.3 L626.1,69.4 L627.8,65.1 L629.4,63.3 L631.1,63.7 L632.7,64.0" stroke="#6f9cf0" stroke-width="0.55" fill="none" stroke-opacity="0.9" stroke-linejoin="round"/>
<path d="M602.5,92.7 L604.1,93.0 L605.7,91.1 L607.3,89.8 L608.9,87.2 L610.5,87.2 L612.1,86.4 L613.7,84.8 L615.3,83.7 L616.9,83.8 L618.5,81.6 L620.1,79.9 L621.7,78.3 L623.3,75.8 L624.9,76.5 L626.5,74.3 L628.1,71.1 L629.7,69.6 L631.3,68.6 L632.9,68.6" stroke="#6f9cf0" stroke-width="0.55" fill="none" stroke-opacity="0.9" stroke-linejoin="round"/>
<path d="M627.7,78.2 L629.4,76.3 L631.0,77.1 L632.6,77.2 L634.2,77.7 L635.8,81.0 L637.5,86.9 L639.1,84.1 L640.7,80.4 L642.3,79.1 L643.9,80.0 L645.6,78.6 L647.2,76.6 L648.8,74.4 L650.4,74.7 L652.0,73.4 L653.7,79.9 L655.3,77.7 L656.9,76.4 L658.5,80.4 L660.1,80.9 L661.8,79.7 L663.4,76.9 L665.0,75.7 L666.6,73.8 L668.2,75.4" stroke="#f4837a" stroke-width="0.5" fill="none" stroke-opacity="0.8" stroke-linejoin="round"/>
<path d="M628.6,75.3 L630.3,75.5 L631.9,75.1 L633.6,71.8 L635.3,78.9 L636.9,78.6 L638.6,75.7 L640.3,76.0 L641.9,71.8 L643.6,75.6 L645.3,75.9 L646.9,77.2 L648.6,77.9 L650.3,80.5 L651.9,79.7 L653.6,81.3 L655.3,82.7 L656.9,79.7 L658.6,78.8 L660.3,81.6 L661.9,80.4 L663.6,78.0 L665.3,75.2 L666.9,75.1" stroke="#f4837a" stroke-width="0.5" fill="none" stroke-opacity="0.8" stroke-linejoin="round"/>
<path d="M628.3,80.4 L630.0,86.8 L631.7,80.9 L633.4,78.6 L635.0,80.3 L636.7,80.9 L638.4,79.1 L640.0,74.7 L641.7,79.6 L643.4,76.8 L645.1,76.4 L646.7,78.6 L648.4,77.6 L650.1,80.5 L651.7,84.5 L653.4,88.6 L655.1,81.3 L656.7,82.4 L658.4,83.1 L660.1,83.0 L661.8,83.7 L663.4,85.9 L665.1,82.9 L666.8,81.8" stroke="#f4837a" stroke-width="0.5" fill="none" stroke-opacity="0.8" stroke-linejoin="round"/>
<path d="M627.8,83.0 L629.5,85.2 L631.1,86.7 L632.8,90.6 L634.5,86.2 L636.2,85.6 L637.9,89.3 L639.5,89.2 L641.2,89.1 L642.9,88.6 L644.6,86.0 L646.2,83.6 L647.9,83.5 L649.6,87.3 L651.3,90.0 L652.9,92.1 L654.6,93.3 L656.3,91.2 L658.0,92.3 L659.6,92.1 L661.3,89.5 L663.0,90.8 L664.7,85.2 L666.3,91.5 L668.0,89.3" stroke="#f4837a" stroke-width="0.5" fill="none" stroke-opacity="0.8" stroke-linejoin="round"/>
<path d="M628.2,76.3 L629.9,75.6 L631.5,78.1 L633.2,77.1 L634.8,78.6 L636.5,81.1 L638.1,76.6 L639.8,76.2 L641.4,78.1 L643.1,76.2 L644.8,74.1 L646.4,69.8 L648.1,70.0 L649.7,69.2 L651.4,73.1 L653.0,68.4 L654.7,71.3 L656.4,71.9 L658.0,72.1 L659.7,70.5 L661.3,71.4 L663.0,72.5 L664.6,72.9 L666.3,69.2" stroke="#f4837a" stroke-width="0.5" fill="none" stroke-opacity="0.8" stroke-linejoin="round"/>
<path d="M628.6,79.0 L630.2,82.5 L631.9,76.9 L633.6,82.4 L635.3,85.6 L637.0,86.9 L638.6,87.1 L640.3,90.6 L642.0,91.8 L643.7,87.5 L645.4,90.7 L647.0,86.1 L648.7,84.1 L650.4,85.7 L652.1,92.3 L653.8,92.1 L655.4,90.2 L657.1,90.3 L658.8,89.6 L660.5,87.8 L662.1,87.1 L663.8,81.3 L665.5,79.8 L667.2,76.9" stroke="#f4837a" stroke-width="0.5" fill="none" stroke-opacity="0.8" stroke-linejoin="round"/>
<path d="M627.9,85.2 L629.5,81.1 L631.2,79.2 L632.9,83.2 L634.6,78.7 L636.2,76.6 L637.9,76.3 L639.6,77.9 L641.3,74.2 L642.9,81.1 L644.6,81.4 L646.3,76.7 L647.9,72.4 L649.6,71.6 L651.3,67.7 L653.0,70.4 L654.6,73.9 L656.3,68.6 L658.0,66.4 L659.7,67.9 L661.3,66.7 L663.0,67.3 L664.7,68.9 L666.3,68.7" stroke="#f4837a" stroke-width="0.5" fill="none" stroke-opacity="0.8" stroke-linejoin="round"/>
<path d="M628.1,92.5 L629.7,91.4 L631.4,94.2 L633.1,93.9 L634.8,90.6 L636.4,90.5 L638.1,89.9 L639.8,87.6 L641.5,83.0 L643.1,85.4 L644.8,87.4 L646.5,85.0 L648.1,83.9 L649.8,87.7 L651.5,89.9 L653.2,90.8 L654.8,90.2 L656.5,89.6 L658.2,86.9 L659.9,82.5 L661.5,80.5 L663.2,83.5 L664.9,85.8 L666.6,88.6" stroke="#f4837a" stroke-width="0.5" fill="none" stroke-opacity="0.8" stroke-linejoin="round"/>
<path d="M628.5,60.3 L630.1,58.2 L631.8,63.4 L633.4,62.0 L635.1,57.5 L636.7,64.0 L638.4,65.8 L640.0,68.7 L641.7,67.1 L643.3,66.0 L645.0,62.1 L646.6,62.1 L648.3,63.3 L650.0,63.9 L651.6,61.1 L653.3,64.5 L654.9,65.4 L656.6,67.1 L658.2,67.8 L659.9,64.1 L661.5,65.9 L663.2,62.9 L664.8,65.4 L666.5,68.3 L668.1,71.6" stroke="#f4837a" stroke-width="0.5" fill="none" stroke-opacity="0.8" stroke-linejoin="round"/>
<path d="M627.6,89.3 L629.2,91.6 L630.9,88.1 L632.6,86.6 L634.2,89.1 L635.9,87.2 L637.5,84.5 L639.2,82.5 L640.9,83.0 L642.5,81.3 L644.2,80.3 L645.8,81.9 L647.5,88.1 L649.1,91.1 L650.8,87.0 L652.5,89.5 L654.1,89.8 L655.8,90.4 L657.4,92.1 L659.1,87.2 L660.8,89.3 L662.4,85.5 L664.1,86.2 L665.7,87.9 L667.4,88.2" stroke="#f4837a" stroke-width="0.5" fill="none" stroke-opacity="0.8" stroke-linejoin="round"/>
<path d="M627.2,85.7 L628.8,88.0 L630.5,86.0 L632.1,88.2 L633.8,89.4 L635.4,91.1 L637.0,86.4 L638.7,86.1 L640.3,87.2 L642.0,84.0 L643.6,85.7 L645.2,89.2 L646.9,88.3 L648.5,86.7 L650.2,84.2 L651.8,89.9 L653.4,91.4 L655.1,87.5 L656.7,86.1 L658.4,86.8 L660.0,91.7 L661.6,91.1 L663.3,92.5 L664.9,94.4 L666.6,92.5" stroke="#f4837a" stroke-width="0.5" fill="none" stroke-opacity="0.8" stroke-linejoin="round"/>
<path d="M627.5,83.0 L629.2,79.6 L630.8,77.1 L632.5,81.1 L634.1,85.0 L635.7,87.4 L637.4,90.6 L639.0,91.4 L640.6,89.4 L642.3,88.2 L643.9,86.3 L645.6,82.1 L647.2,83.5 L648.8,86.2 L650.5,88.7 L652.1,90.9 L653.8,88.4 L655.4,83.9 L657.0,83.1 L658.7,84.6 L660.3,84.2 L662.0,81.5 L663.6,83.4 L665.2,81.9 L666.9,82.4" stroke="#f4837a" stroke-width="0.5" fill="none" stroke-opacity="0.8" stroke-linejoin="round"/>
<path d="M627.2,92.1 L628.8,95.8 L630.5,97.7 L632.2,93.5 L633.8,93.1 L635.5,92.7 L637.1,91.5 L638.8,91.8 L640.5,91.3 L642.1,94.0 L643.8,90.6 L645.5,93.8 L647.1,91.7 L648.8,98.9 L650.4,100.4 L652.1,102.5 L653.8,99.5 L655.4,102.2 L657.1,104.3 L658.8,100.7 L660.4,95.6 L662.1,93.2 L663.7,87.7 L665.4,86.8 L667.1,91.4" stroke="#f4837a" stroke-width="0.5" fill="none" stroke-opacity="0.8" stroke-linejoin="round"/>
<path d="M628.2,75.6 L629.9,70.8 L631.5,68.2 L633.1,68.1 L634.7,67.3 L636.3,70.2 L637.9,67.0 L639.6,70.0 L641.2,69.3 L642.8,71.9 L644.4,73.2 L646.0,71.1 L647.6,67.1 L649.3,72.1 L650.9,71.0 L652.5,64.0 L654.1,64.4 L655.7,64.7 L657.4,63.3 L659.0,64.2 L660.6,63.9 L662.2,65.1 L663.8,69.9 L665.4,69.2 L667.1,70.2" stroke="#f4837a" stroke-width="0.5" fill="none" stroke-opacity="0.8" stroke-linejoin="round"/>
<path d="M627.7,87.6 L629.3,82.4 L630.9,83.8 L632.6,80.6 L634.2,84.4 L635.8,87.7 L637.4,87.0 L639.0,85.1 L640.6,85.3 L642.3,80.4 L643.9,82.3 L645.5,79.9 L647.1,81.9 L648.7,84.2 L650.4,81.9 L652.0,83.8 L653.6,88.9 L655.2,87.1 L656.8,83.8 L658.4,82.7 L660.1,84.6 L661.7,87.6 L663.3,89.3 L664.9,87.0 L666.5,81.5 L668.1,84.9" stroke="#f4837a" stroke-width="0.5" fill="none" stroke-opacity="0.8" stroke-linejoin="round"/>
<path d="M627.2,79.8 L628.8,78.3 L630.4,79.5 L632.1,81.5 L633.7,86.6 L635.4,84.3 L637.0,82.6 L638.6,81.4 L640.3,83.7 L641.9,80.8 L643.5,79.5 L645.2,80.9 L646.8,84.7 L648.4,83.4 L650.1,80.7 L651.7,86.5 L653.4,84.6 L655.0,85.3 L656.6,85.3 L658.3,84.2 L659.9,81.4 L661.5,81.3 L663.2,85.1 L664.8,83.4 L666.4,82.2" stroke="#f4837a" stroke-width="0.5" fill="none" stroke-opacity="0.8" stroke-linejoin="round"/>
<path d="M628.8,83.7 L630.4,84.3 L632.0,84.8 L633.6,86.8 L635.3,88.8 L636.9,90.6 L638.5,93.0 L640.1,93.7 L641.8,95.1 L643.4,95.2 L645.0,95.1 L646.6,91.3 L648.2,94.8 L649.9,96.6 L651.5,92.6 L653.1,89.2 L654.7,87.6 L656.4,87.9 L658.0,81.9 L659.6,83.3 L661.2,84.5 L662.8,82.8 L664.5,87.1 L666.1,88.8 L667.7,90.2" stroke="#f4837a" stroke-width="0.5" fill="none" stroke-opacity="0.8" stroke-linejoin="round"/>
<path d="M627.3,84.2 L628.9,85.2 L630.5,88.0 L632.2,87.9 L633.8,86.4 L635.4,89.5 L637.0,86.5 L638.7,90.1 L640.3,91.0 L641.9,90.0 L643.5,86.9 L645.1,86.8 L646.8,90.1 L648.4,92.9 L650.0,91.2 L651.6,89.5 L653.3,87.8 L654.9,91.6 L656.5,89.4 L658.1,86.9 L659.8,89.3 L661.4,91.1 L663.0,88.4 L664.6,90.5 L666.3,88.0 L667.9,83.6" stroke="#f4837a" stroke-width="0.5" fill="none" stroke-opacity="0.8" stroke-linejoin="round"/>
<path d="M627.4,77.9 L629.0,77.4 L630.7,79.3 L632.3,79.8 L634.0,78.2 L635.6,75.0 L637.2,74.3 L638.9,71.7 L640.5,71.3 L642.2,73.0 L643.8,72.6 L645.4,71.7 L647.1,78.0 L648.7,78.3 L650.4,83.6 L652.0,81.1 L653.6,77.9 L655.3,77.3 L656.9,75.9 L658.5,76.2 L660.2,75.7 L661.8,78.0 L663.5,71.8 L665.1,71.0 L666.7,69.6" stroke="#f4837a" stroke-width="0.5" fill="none" stroke-opacity="0.8" stroke-linejoin="round"/>
<path d="M627.4,80.6 L629.1,77.1 L630.8,79.8 L632.4,78.7 L634.1,77.9 L635.8,82.1 L637.4,78.9 L639.1,78.1 L640.8,80.0 L642.4,77.7 L644.1,81.0 L645.8,77.8 L647.5,77.8 L649.1,79.1 L650.8,76.2 L652.5,77.0 L654.1,79.2 L655.8,78.8 L657.5,78.9 L659.1,83.6 L660.8,84.2 L662.5,84.2 L664.2,79.5 L665.8,77.9 L667.5,80.9" stroke="#f4837a" stroke-width="0.5" fill="none" stroke-opacity="0.8" stroke-linejoin="round"/>
<path d="M627.3,73.0 L629.0,73.5 L630.6,77.4 L632.2,81.1 L633.8,81.6 L635.4,73.7 L637.0,73.4 L638.7,75.2 L640.3,73.0 L641.9,68.6 L643.5,69.9 L645.1,70.1 L646.8,67.0 L648.4,68.1 L650.0,70.0 L651.6,72.4 L653.2,70.8 L654.8,72.9 L656.5,73.2 L658.1,71.6 L659.7,74.8 L661.3,78.5 L662.9,77.1 L664.6,77.5 L666.2,78.5 L667.8,79.6" stroke="#f4837a" stroke-width="0.5" fill="none" stroke-opacity="0.8" stroke-linejoin="round"/>
<path d="M627.4,76.7 L629.1,77.6 L630.7,80.8 L632.3,80.5 L633.9,77.1 L635.6,70.9 L637.2,72.0 L638.8,73.4 L640.4,76.4 L642.1,74.2 L643.7,79.4 L645.3,81.2 L646.9,83.9 L648.5,84.7 L650.2,82.7 L651.8,82.6 L653.4,84.6 L655.0,83.5 L656.7,80.0 L658.3,80.7 L659.9,85.5 L661.5,84.7 L663.2,80.2 L664.8,80.8 L666.4,79.5" stroke="#f4837a" stroke-width="0.5" fill="none" stroke-opacity="0.8" stroke-linejoin="round"/>
<path d="M627.4,76.0 L629.0,81.7 L630.6,80.3 L632.2,81.6 L633.9,80.7 L635.5,80.7 L637.1,82.0 L638.7,82.3 L640.4,83.8 L642.0,87.2 L643.6,86.7 L645.2,90.0 L646.9,90.8 L648.5,86.3 L650.1,82.6 L651.7,82.9 L653.3,81.8 L655.0,81.0 L656.6,81.7 L658.2,85.3 L659.8,87.2 L661.5,82.5 L663.1,84.9 L664.7,86.8 L666.3,85.1" stroke="#f4837a" stroke-width="0.5" fill="none" stroke-opacity="0.8" stroke-linejoin="round"/>
<path d="M627.8,85.4 L629.4,79.3 L631.1,77.9 L632.7,82.3 L634.4,84.8 L636.1,93.9 L637.7,95.2 L639.4,93.2 L641.0,94.7 L642.7,96.8 L644.4,96.6 L646.0,94.0 L647.7,88.5 L649.3,88.3 L651.0,88.6 L652.7,89.4 L654.3,92.1 L656.0,89.2 L657.6,87.3 L659.3,89.0 L661.0,85.1 L662.6,83.4 L664.3,82.2 L665.9,85.9 L667.6,86.8" stroke="#f4837a" stroke-width="0.5" fill="none" stroke-opacity="0.8" stroke-linejoin="round"/>
<path d="M627.7,74.5 L629.3,74.7 L630.9,79.4 L632.5,83.1 L634.2,84.0 L635.8,83.4 L637.4,84.3 L639.0,83.7 L640.6,82.1 L642.2,79.2 L643.8,80.3 L645.5,81.5 L647.1,84.0 L648.7,82.1 L650.3,86.6 L651.9,93.1 L653.5,85.7 L655.2,80.8 L656.8,81.7 L658.4,85.5 L660.0,79.8 L661.6,77.2 L663.2,79.2 L664.9,82.5 L666.5,79.9" stroke="#f4837a" stroke-width="0.5" fill="none" stroke-opacity="0.8" stroke-linejoin="round"/>
<path d="M627.7,91.9 L629.3,91.3 L630.9,87.7 L632.6,90.0 L634.2,93.0 L635.9,91.6 L637.5,90.5 L639.1,94.1 L640.8,95.7 L642.4,93.5 L644.1,93.2 L645.7,96.6 L647.3,96.4 L649.0,94.1 L650.6,93.2 L652.3,92.3 L653.9,93.1 L655.5,97.7 L657.2,97.0 L658.8,96.2 L660.5,96.4 L662.1,93.9 L663.7,90.5 L665.4,88.7 L667.0,86.2" stroke="#f4837a" stroke-width="0.5" fill="none" stroke-opacity="0.8" stroke-linejoin="round"/>
<path d="M628.5,76.0 L630.2,78.2 L631.8,73.6 L633.5,70.0 L635.2,70.4 L636.8,72.3 L638.5,70.0 L640.2,70.6 L641.8,69.5 L643.5,67.6 L645.1,69.6 L646.8,69.7 L648.5,66.9 L650.1,66.1 L651.8,69.9 L653.5,75.1 L655.1,77.5 L656.8,74.7 L658.4,76.7 L660.1,77.7 L661.8,77.7 L663.4,73.4 L665.1,68.1 L666.7,69.3" stroke="#f4837a" stroke-width="0.5" fill="none" stroke-opacity="0.8" stroke-linejoin="round"/>
<path d="M627.5,82.7 L629.1,83.0 L630.8,77.6 L632.4,80.8 L634.0,76.2 L635.6,81.2 L637.3,86.9 L638.9,87.1 L640.5,86.7 L642.1,85.9 L643.7,85.0 L645.4,84.6 L647.0,84.2 L648.6,84.5 L650.2,81.7 L651.9,83.5 L653.5,85.5 L655.1,89.3 L656.7,86.4 L658.3,83.2 L660.0,81.3 L661.6,81.9 L663.2,82.6 L664.8,82.9 L666.4,86.8" stroke="#f4837a" stroke-width="0.5" fill="none" stroke-opacity="0.8" stroke-linejoin="round"/>
<path d="M627.4,78.2 L629.1,70.0 L630.7,69.2 L632.4,75.6 L634.1,74.2 L635.7,71.9 L637.4,73.3 L639.1,72.6 L640.7,76.5 L642.4,75.6 L644.1,75.9 L645.7,74.0 L647.4,72.2 L649.1,72.4 L650.7,80.8 L652.4,79.0 L654.1,78.6 L655.7,79.8 L657.4,79.0 L659.1,76.4 L660.7,75.9 L662.4,75.9 L664.1,71.9 L665.7,75.0 L667.4,76.0" stroke="#f4837a" stroke-width="0.5" fill="none" stroke-opacity="0.8" stroke-linejoin="round"/>
<path d="M627.3,67.4 L629.0,73.0 L630.6,72.3 L632.2,68.2 L633.8,71.7 L635.4,71.7 L637.0,76.5 L638.6,79.4 L640.3,77.2 L641.9,77.6 L643.5,80.3 L645.1,76.8 L646.7,78.8 L648.3,77.6 L649.9,78.8 L651.6,82.2 L653.2,81.7 L654.8,82.3 L656.4,78.7 L658.0,81.5 L659.6,81.2 L661.2,81.3 L662.9,77.9 L664.5,80.0 L666.1,78.8 L667.7,76.4" stroke="#f4837a" stroke-width="0.5" fill="none" stroke-opacity="0.8" stroke-linejoin="round"/>
<path d="M628.3,87.5 L630.0,87.1 L631.6,86.8 L633.3,86.5 L634.9,88.5 L636.6,84.8 L638.3,84.1 L639.9,84.9 L641.6,83.2 L643.2,86.3 L644.9,87.8 L646.6,86.0 L648.2,88.4 L649.9,91.2 L651.5,93.7 L653.2,96.9 L654.9,96.7 L656.5,95.7 L658.2,92.9 L659.9,97.0 L661.5,94.1 L663.2,96.1 L664.8,94.4 L666.5,89.4" stroke="#f4837a" stroke-width="0.5" fill="none" stroke-opacity="0.8" stroke-linejoin="round"/>
<path d="M628.8,83.9 L630.4,82.6 L632.0,76.9 L633.6,81.5 L635.3,87.1 L636.9,85.4 L638.5,78.4 L640.1,77.6 L641.7,74.0 L643.4,79.9 L645.0,78.1 L646.6,80.3 L648.2,81.8 L649.9,81.0 L651.5,82.6 L653.1,82.6 L654.7,86.0 L656.4,85.1 L658.0,89.6 L659.6,84.4 L661.2,79.6 L662.8,79.8 L664.5,84.8 L666.1,80.6 L667.7,81.5" stroke="#f4837a" stroke-width="0.5" fill="none" stroke-opacity="0.8" stroke-linejoin="round"/>
<path d="M628.7,91.6 L630.4,90.9 L632.1,91.4 L633.8,89.9 L635.4,86.2 L637.1,86.3 L638.8,85.5 L640.5,85.4 L642.1,84.1 L643.8,85.2 L645.5,88.0 L647.2,84.3 L648.8,79.9 L650.5,80.4 L652.2,82.9 L653.9,83.8 L655.5,82.8 L657.2,82.6 L658.9,85.4 L660.6,88.7 L662.2,89.0 L663.9,88.0 L665.6,88.5 L667.3,90.5" stroke="#f4837a" stroke-width="0.5" fill="none" stroke-opacity="0.8" stroke-linejoin="round"/>
<path d="M628.1,69.4 L629.8,75.2 L631.5,75.2 L633.1,70.9 L634.8,73.3 L636.5,77.1 L638.1,81.4 L639.8,76.6 L641.5,81.3 L643.1,78.9 L644.8,81.9 L646.5,79.4 L648.2,77.7 L649.8,74.9 L651.5,78.2 L653.2,78.1 L654.8,82.2 L656.5,80.6 L658.2,77.3 L659.8,78.7 L661.5,75.4 L663.2,73.8 L664.9,71.1 L666.5,67.5 L668.2,69.2" stroke="#f4837a" stroke-width="0.5" fill="none" stroke-opacity="0.8" stroke-linejoin="round"/>
<path d="M654.9,77.0 L658.2,55.0 L660.8,22.0 L663.3,46.7 L665.8,38.5 L668.3,57.7" stroke="#f4837a" stroke-width="0.55" fill="none" stroke-opacity="0.85" stroke-linejoin="round"/>
<path d="M638.1,74.2 L642.3,52.2 L645.6,30.2 L649.0,52.2 L653.2,74.2" stroke="#f4837a" stroke-width="0.55" fill="none" stroke-opacity="0.85" stroke-linejoin="round"/>
<path d="M655.7,79.7 L659.9,46.7 L664.1,63.2 L667.5,77.0" stroke="#f4837a" stroke-width="0.55" fill="none" stroke-opacity="0.85" stroke-linejoin="round"/>
<path d="M630.5,77.0 L634.7,60.5 L638.9,68.7 L644.8,63.2 L649.8,74.2" stroke="#f4837a" stroke-width="0.55" fill="none" stroke-opacity="0.85" stroke-linejoin="round"/>
<path d="M619.6,74.2 L623.0,60.5 L625.5,49.5 L627.2,55.0 L628.0,66.0" stroke="#2bb84a" stroke-width="0.55" fill="none" stroke-opacity="0.85" stroke-linejoin="round"/>
<path d="M615.4,77.0 L620.4,66.0 L624.6,57.7 L628.0,63.2" stroke="#2bb84a" stroke-width="0.55" fill="none" stroke-opacity="0.85" stroke-linejoin="round"/>
<path d="M586.0,95.1 L590.2,95.1 L594.4,95.4 L598.6,95.4 L602.8,95.7 L607.0,93.2 L611.2,89.9 L615.4,86.3 L619.6,83.3 L623.8,81.1 L628.0,79.5 L632.2,79.5 L636.4,79.7 L640.6,80.0 L644.8,80.6 L649.0,81.4 L653.2,82.2 L657.4,81.9 L661.6,81.7 L665.8,81.4 L667.5,80.8 L667.5,75.8 L665.8,76.4 L661.6,76.7 L657.4,76.9 L653.2,77.2 L649.0,76.4 L644.8,75.6 L640.6,75.0 L636.4,74.7 L632.2,74.5 L628.0,74.5 L623.8,76.1 L619.6,78.3 L615.4,81.3 L611.2,84.9 L607.0,88.2 L602.8,90.7 L598.6,90.4 L594.4,90.4 L590.2,90.1 L586.0,90.1" stroke="none" stroke-width="0" fill="#9a9a9a" fill-opacity="0.9"/>
<path d="M586.0,92.6 L590.2,92.6 L594.4,92.9 L598.6,92.9 L602.8,93.2 L607.0,90.7 L611.2,87.4 L615.4,83.8 L619.6,80.8 L623.8,78.6 L628.0,77.0 L632.2,77.0 L636.4,77.2 L640.6,77.5 L644.8,78.1 L649.0,78.9 L653.2,79.7 L657.4,79.4 L661.6,79.2 L665.8,78.9 L667.5,78.3" stroke="#111" stroke-width="1.1" fill="none" stroke-linejoin="round"/>
<line x1="583.60" y1="63.20" x2="671.00" y2="63.20" stroke="#555" stroke-width="1.5" stroke-dasharray="6,3.6"/>
<line x1="583.60" y1="19.00" x2="583.60" y2="110.00" stroke="#222" stroke-width="0.9" />
<line x1="583.60" y1="110.00" x2="671.00" y2="110.00" stroke="#222" stroke-width="0.9" />
<line x1="582.10" y1="90.30" x2="583.60" y2="90.30" stroke="#222" stroke-width="0.8" />
<line x1="582.10" y1="62.80" x2="583.60" y2="62.80" stroke="#222" stroke-width="0.8" />
<line x1="582.10" y1="35.20" x2="583.60" y2="35.20" stroke="#222" stroke-width="0.8" />
<line x1="586.00" y1="110.00" x2="586.00" y2="111.50" stroke="#222" stroke-width="0.8" />
<line x1="607.00" y1="110.00" x2="607.00" y2="111.50" stroke="#222" stroke-width="0.8" />
<line x1="628.00" y1="110.00" x2="628.00" y2="111.50" stroke="#222" stroke-width="0.8" />
<line x1="649.00" y1="110.00" x2="649.00" y2="111.50" stroke="#222" stroke-width="0.8" />
<line x1="670.00" y1="110.00" x2="670.00" y2="111.50" stroke="#222" stroke-width="0.8" />
<text x="631.30" y="15.00" font-size="9.5" text-anchor="middle" fill="#000" >Live</text>
<text x="586.60" y="121.00" font-size="9.6" text-anchor="middle" fill="#000" >−5.0</text>
<text x="607.50" y="121.00" font-size="9.6" text-anchor="middle" fill="#000" >−2.5</text>
<text x="628.00" y="121.00" font-size="9.6" text-anchor="middle" fill="#000" >0.0</text>
<text x="649.80" y="121.00" font-size="9.6" text-anchor="middle" fill="#000" >2.5</text>
<text x="670.50" y="121.00" font-size="9.6" text-anchor="middle" fill="#000" >5.0</text>
<path d="M676,64.5 H679 V74.5 H676" stroke="#222" stroke-width="0.8" fill="none" />
<text x="679.40" y="68.60" font-size="9" text-anchor="middle" fill="#444" transform="rotate(90 679.4 68.6)" >***</text>
<text x="526.00" y="131.00" font-size="10" text-anchor="middle" fill="#000" >Distance (µm)</text>
<text x="630.00" y="131.00" font-size="10" text-anchor="middle" fill="#000" >Distance (µm)</text>
<text x="461.90" y="64.30" font-size="9.5" text-anchor="middle" fill="#000" transform="rotate(-90 461.9 64.3)" >GCX enrichment</text>
<rect x="5.80" y="54.60" width="11.20" height="25.20" fill="url(#cbar)" stroke="#bbb" stroke-width="0.5" />
<text x="11.60" y="49.80" font-size="9.5" text-anchor="middle" fill="#3a3a3a" >362</text>
<text x="12.40" y="90.80" font-size="9.5" text-anchor="middle" fill="#3a3a3a" >16</text>
<g clip-path="url(#ca1)">
<rect x="23.80" y="14.80" width="106.00" height="96.00" fill="#02011a" stroke="none" stroke-width="0.8" />
<path d="M23.0,80.0 L32.8,76.5 L43.5,69.0 L54.3,64.7 L65.1,59.3 L80.1,55.5 L97.1,45.9 L110.7,42.8 L119.8,40.1 L131.0,38.0 L131.0,79.0 L115.2,86.3 L99.3,93.3 L84.0,100.2 L75.8,101.8 L65.1,104.5 L54.3,106.7 L43.5,107.7 L32.8,105.6 L23.0,104.0" stroke="none" stroke-width="0" fill="#08054a" />
<rect x="23.80" y="14.80" width="106.00" height="96.00" fill="#000" stroke="none" stroke-width="0.8" filter="url(#nzb)" opacity="0.35"/>
<path d="M60.9,15.6 L56.4,20.1 L51.0,24.7 L46.4,29.2 L44.2,34.6 L43.3,39.1 L43.7,46.4 L45.5,50.9 L49.1,55.4 L53.7,58.2 L62.7,59.1 L71.8,57.2 L84.0,51.8 L97.1,45.9 L95.8,39.1 L93.5,32.8 L89.9,25.6 L88.1,20.6 L74.5,17.4" stroke="none" stroke-width="0" fill="#07053e" />
<path d="M97.1,14.0 L91.7,20.1 L95.3,30.1 L99.9,36.4 L104.4,41.0 L108.0,43.2 L119.8,40.1 L131.0,38.0 L131.0,14.0" stroke="none" stroke-width="0" fill="#060438" />
<path d="M22.0,81.5 C23.8,80.7 29.2,78.6 32.8,76.5 C36.4,74.4 39.9,71.0 43.5,69.0 C47.1,67.0 50.7,66.3 54.3,64.7 C57.9,63.1 60.8,60.8 65.1,59.3 C69.4,57.8 74.8,57.7 80.1,55.5 C85.4,53.3 92.0,48.0 97.1,45.9 C102.2,43.8 106.9,43.8 110.7,42.8 C114.5,41.8 116.2,40.9 119.8,40.1 C123.3,39.3 130.0,38.2 132.0,37.8" fill="none" stroke="#4a0cd8" stroke-width="4.6" stroke-linecap="round" stroke-linejoin="round" stroke-opacity="0.9" filter="url(#bl1)"/>
<path d="M22.0,81.5 C23.8,80.7 29.2,78.6 32.8,76.5 C36.4,74.4 39.9,71.0 43.5,69.0 C47.1,67.0 50.7,66.3 54.3,64.7 C57.9,63.1 60.8,60.8 65.1,59.3 C69.4,57.8 74.8,57.7 80.1,55.5 C85.4,53.3 92.0,48.0 97.1,45.9 C102.2,43.8 106.9,43.8 110.7,42.8 C114.5,41.8 116.2,40.9 119.8,40.1 C123.3,39.3 130.0,38.2 132.0,37.8" fill="none" stroke="#c01ab0" stroke-width="2.4" stroke-linecap="round" stroke-linejoin="round" stroke-opacity="1.0" filter="url(#bl2)"/>
<path d="M22.0,81.5 C23.8,80.7 29.2,78.6 32.8,76.5 C36.4,74.4 39.9,71.0 43.5,69.0 C47.1,67.0 50.7,66.3 54.3,64.7 C57.9,63.1 60.8,60.8 65.1,59.3 C69.4,57.8 74.8,57.7 80.1,55.5 C85.4,53.3 92.0,48.0 97.1,45.9 C102.2,43.8 106.9,43.8 110.7,42.8 C114.5,41.8 116.2,40.9 119.8,40.1 C123.3,39.3 130.0,38.2 132.0,37.8" fill="none" stroke="#f83040" stroke-width="1.4" stroke-linecap="round" stroke-linejoin="round" stroke-opacity="0.95" filter="url(#bl4)"/>
<path d="M48.0,67.0 C50.0,66.1 56.3,63.0 60.0,61.5 C63.7,60.0 66.7,59.0 70.0,58.0 C73.3,57.0 76.8,56.8 80.1,55.5 C83.4,54.2 88.3,50.9 90.0,50.0" fill="none" stroke="#ff8a10" stroke-width="1.6" stroke-linecap="round" stroke-linejoin="round" stroke-opacity="0.95" filter="url(#bl4)"/>
<path d="M23.0,81.0 C23.8,80.7 27.2,79.3 28.0,79.0" fill="none" stroke="#c01a90" stroke-width="3" stroke-linecap="round" stroke-linejoin="round" stroke-opacity="0.9" filter="url(#bl2)"/>
<path d="M22.0,104.0 C23.8,104.3 29.2,105.0 32.8,105.6 C36.4,106.2 39.9,107.5 43.5,107.7 C47.1,107.9 50.7,107.2 54.3,106.7 C57.9,106.2 61.5,105.3 65.1,104.5 C68.7,103.7 72.6,102.5 75.8,101.8 C79.0,101.1 80.1,101.6 84.0,100.2 C87.9,98.8 94.1,95.6 99.3,93.3 C104.5,91.0 109.8,88.8 115.2,86.3 C120.7,83.8 129.2,79.7 132.0,78.4" fill="none" stroke="#4a0cd8" stroke-width="4.8" stroke-linecap="round" stroke-linejoin="round" stroke-opacity="0.85" filter="url(#bl1)"/>
<path d="M22.0,104.0 C23.8,104.3 29.2,105.0 32.8,105.6 C36.4,106.2 39.9,107.5 43.5,107.7 C47.1,107.9 50.7,107.2 54.3,106.7 C57.9,106.2 61.5,105.3 65.1,104.5 C68.7,103.7 72.6,102.5 75.8,101.8 C79.0,101.1 80.1,101.6 84.0,100.2 C87.9,98.8 94.1,95.6 99.3,93.3 C104.5,91.0 109.8,88.8 115.2,86.3 C120.7,83.8 129.2,79.7 132.0,78.4" fill="none" stroke="#c018b8" stroke-width="2.4" stroke-linecap="round" stroke-linejoin="round" stroke-opacity="1.0" filter="url(#bl2)"/>
<path d="M22.0,104.0 C23.8,104.3 29.2,105.0 32.8,105.6 C36.4,106.2 39.9,107.5 43.5,107.7 C47.1,107.9 50.7,107.2 54.3,106.7 C57.9,106.2 61.5,105.3 65.1,104.5 C68.7,103.7 72.6,102.5 75.8,101.8 C79.0,101.1 80.1,101.6 84.0,100.2 C87.9,98.8 94.1,95.6 99.3,93.3 C104.5,91.0 109.8,88.8 115.2,86.3 C120.7,83.8 129.2,79.7 132.0,78.4" fill="none" stroke="#f02858" stroke-width="1.3" stroke-linecap="round" stroke-linejoin="round" stroke-opacity="0.9" filter="url(#bl4)"/>
<path d="M60.9,15.2 C60.1,16.0 58.0,18.5 56.4,20.1 C54.8,21.7 52.7,23.2 51.0,24.7 C49.3,26.2 47.5,27.5 46.4,29.2 C45.3,30.9 44.7,33.0 44.2,34.6 C43.7,36.2 43.4,37.1 43.3,39.1 C43.2,41.1 43.3,44.4 43.7,46.4 C44.1,48.4 44.6,49.4 45.5,50.9 C46.4,52.4 47.7,54.2 49.1,55.4 C50.5,56.6 51.4,57.6 53.7,58.2 C56.0,58.8 59.7,59.3 62.7,59.1 C65.7,58.9 70.3,57.5 71.8,57.2" fill="none" stroke="#4a0cd8" stroke-width="4.8" stroke-linecap="round" stroke-linejoin="round" stroke-opacity="0.85" filter="url(#bl1)"/>
<path d="M60.9,15.2 C60.1,16.0 58.0,18.5 56.4,20.1 C54.8,21.7 52.7,23.2 51.0,24.7 C49.3,26.2 47.5,27.5 46.4,29.2 C45.3,30.9 44.7,33.0 44.2,34.6 C43.7,36.2 43.4,37.1 43.3,39.1 C43.2,41.1 43.3,44.4 43.7,46.4 C44.1,48.4 44.6,49.4 45.5,50.9 C46.4,52.4 47.7,54.2 49.1,55.4 C50.5,56.6 51.4,57.6 53.7,58.2 C56.0,58.8 59.7,59.3 62.7,59.1 C65.7,58.9 70.3,57.5 71.8,57.2" fill="none" stroke="#c018b8" stroke-width="2.4" stroke-linecap="round" stroke-linejoin="round" stroke-opacity="1.0" filter="url(#bl2)"/>
<path d="M60.9,15.2 C60.1,16.0 58.0,18.5 56.4,20.1 C54.8,21.7 52.7,23.2 51.0,24.7 C49.3,26.2 47.5,27.5 46.4,29.2 C45.3,30.9 44.7,33.0 44.2,34.6 C43.7,36.2 43.4,37.1 43.3,39.1 C43.2,41.1 43.3,44.4 43.7,46.4 C44.1,48.4 44.6,49.4 45.5,50.9 C46.4,52.4 47.7,54.2 49.1,55.4 C50.5,56.6 51.4,57.6 53.7,58.2 C56.0,58.8 59.7,59.3 62.7,59.1 C65.7,58.9 70.3,57.5 71.8,57.2" fill="none" stroke="#f02858" stroke-width="1.3" stroke-linecap="round" stroke-linejoin="round" stroke-opacity="0.9" filter="url(#bl4)"/>
<path d="M88.1,20.6 C88.4,21.4 89.0,23.6 89.9,25.6 C90.8,27.6 92.5,30.5 93.5,32.8 C94.5,35.0 95.2,36.9 95.8,39.1 C96.4,41.3 96.9,44.8 97.1,45.9" fill="none" stroke="#4a0cd8" stroke-width="4.8" stroke-linecap="round" stroke-linejoin="round" stroke-opacity="0.85" filter="url(#bl1)"/>
<path d="M88.1,20.6 C88.4,21.4 89.0,23.6 89.9,25.6 C90.8,27.6 92.5,30.5 93.5,32.8 C94.5,35.0 95.2,36.9 95.8,39.1 C96.4,41.3 96.9,44.8 97.1,45.9" fill="none" stroke="#c018b8" stroke-width="2.4" stroke-linecap="round" stroke-linejoin="round" stroke-opacity="1.0" filter="url(#bl2)"/>
<path d="M88.1,20.6 C88.4,21.4 89.0,23.6 89.9,25.6 C90.8,27.6 92.5,30.5 93.5,32.8 C94.5,35.0 95.2,36.9 95.8,39.1 C96.4,41.3 96.9,44.8 97.1,45.9" fill="none" stroke="#f02858" stroke-width="1.3" stroke-linecap="round" stroke-linejoin="round" stroke-opacity="0.9" filter="url(#bl4)"/>
<path d="M97.1,14.5 C96.2,15.4 92.0,17.5 91.7,20.1 C91.4,22.7 93.9,27.4 95.3,30.1 C96.7,32.8 98.4,34.6 99.9,36.4 C101.4,38.2 103.1,39.9 104.4,41.0 C105.8,42.1 107.4,42.8 108.0,43.2" fill="none" stroke="#4a0cd0" stroke-width="3.2" stroke-linecap="round" stroke-linejoin="round" stroke-opacity="0.8" filter="url(#bl1)"/>
<path d="M97.1,14.5 C96.2,15.4 92.0,17.5 91.7,20.1 C91.4,22.7 93.9,27.4 95.3,30.1 C96.7,32.8 98.4,34.6 99.9,36.4 C101.4,38.2 103.1,39.9 104.4,41.0 C105.8,42.1 107.4,42.8 108.0,43.2" fill="none" stroke="#8a14d0" stroke-width="1.6" stroke-linecap="round" stroke-linejoin="round" stroke-opacity="0.95" filter="url(#bl2)"/>
<path d="M58.0,15.5 C59.5,15.6 64.5,15.8 67.2,16.1 C70.0,16.4 71.7,16.9 74.5,17.4 C77.3,17.8 81.7,18.3 84.0,18.8 C86.3,19.3 87.4,20.3 88.1,20.6" fill="none" stroke="#5010e0" stroke-width="3.6" stroke-linecap="round" stroke-linejoin="round" stroke-opacity="0.9" filter="url(#bl1)"/>
<path d="M58.0,15.5 C59.5,15.6 64.5,15.8 67.2,16.1 C70.0,16.4 71.7,16.9 74.5,17.4 C77.3,17.8 81.7,18.3 84.0,18.8 C86.3,19.3 87.4,20.3 88.1,20.6" fill="none" stroke="#c01aa0" stroke-width="1.8" stroke-linecap="round" stroke-linejoin="round" stroke-opacity="1.0" filter="url(#bl2)"/>
<path d="M58.0,15.5 C59.5,15.6 64.5,15.8 67.2,16.1 C70.0,16.4 71.7,16.9 74.5,17.4 C77.3,17.8 81.7,18.3 84.0,18.8 C86.3,19.3 87.4,20.3 88.1,20.6" fill="none" stroke="#ff6a30" stroke-width="0.9" stroke-linecap="round" stroke-linejoin="round" stroke-opacity="0.9" filter="url(#bl4)"/>
<ellipse cx="41.6" cy="41.6" rx="3.2" ry="3.4" fill="#ff9020" filter="url(#bl2)"/>
<ellipse cx="41.8" cy="41.4" rx="2.1" ry="2.2" fill="#ffffe0" filter="url(#bl4)"/>
<ellipse cx="45.5" cy="50" rx="1.5" ry="1.7" fill="#ffd040" filter="url(#bl4)"/>
<ellipse cx="26.3" cy="108.3" rx="1.6" ry="1.9" fill="#ffd040" filter="url(#bl4)"/>
<ellipse cx="63.5" cy="15.8" rx="3.5" ry="1.4" fill="#ff8a20" filter="url(#bl4)"/>
</g>
<rect x="45.80" y="49.80" width="34.60" height="21.80" fill="none" stroke="#ffffff" stroke-width="0.9" stroke-dasharray="1.4,1.4"/>
<line x1="112.20" y1="108.20" x2="128.00" y2="108.20" stroke="#fff" stroke-width="1.4" />
<text x="25.60" y="24.90" font-size="9.5" text-anchor="start" fill="#fff" >GCX</text>
<text x="56.60" y="45.30" font-size="9.5" text-anchor="start" fill="#fff" >Cell 2</text>
<text x="37.80" y="93.30" font-size="9.5" text-anchor="start" fill="#fff" >Cell 1</text>
<g clip-path="url(#ca2)"><g transform="translate(0,0)">
<rect x="131.00" y="14.00" width="157.00" height="98.00" fill="#12087e" stroke="none" stroke-width="0.8" />
<rect x="131.00" y="14.00" width="157.00" height="98.00" fill="#000" stroke="none" stroke-width="0.8" filter="url(#nzb)"/>
<ellipse cx="188" cy="60" rx="15" ry="8" fill="#6a18d8" filter="url(#bl3)" opacity="0.95"/>
<path d="M150.0,36.0 C150.7,37.3 152.5,41.7 154.0,44.0 C155.5,46.3 156.7,48.4 159.0,50.0 C161.3,51.6 164.8,53.1 168.0,53.5 C171.2,53.9 174.7,52.9 178.0,52.5 C181.3,52.1 184.8,50.8 188.0,51.0 C191.2,51.2 194.2,52.8 197.0,54.0 C199.8,55.2 203.7,57.3 205.0,58.0" fill="none" stroke="#6a14e0" stroke-width="8" stroke-linecap="round" stroke-linejoin="round" stroke-opacity="0.85" filter="url(#bl3)"/>
<path d="M150.0,36.0 C150.7,37.3 152.5,41.7 154.0,44.0 C155.5,46.3 156.7,48.4 159.0,50.0 C161.3,51.6 164.8,53.1 168.0,53.5 C171.2,53.9 174.7,52.9 178.0,52.5 C181.3,52.1 184.8,50.8 188.0,51.0 C191.2,51.2 194.2,52.8 197.0,54.0 C199.8,55.2 203.7,57.3 205.0,58.0" fill="none" stroke="#b01cb8" stroke-width="4" stroke-linecap="round" stroke-linejoin="round" stroke-opacity="0.95" filter="url(#bl1)"/>
<path d="M150.0,36.0 C150.7,37.3 152.5,41.7 154.0,44.0 C155.5,46.3 156.7,48.4 159.0,50.0 C161.3,51.6 164.8,53.1 168.0,53.5 C171.2,53.9 174.7,52.9 178.0,52.5 C181.3,52.1 184.8,50.8 188.0,51.0 C191.2,51.2 194.2,52.8 197.0,54.0 C199.8,55.2 203.7,57.3 205.0,58.0" fill="none" stroke="#e82a48" stroke-width="2.0" stroke-linecap="round" stroke-linejoin="round" stroke-opacity="1.0" filter="url(#bl2)"/>
<ellipse cx="201" cy="58.5" rx="5" ry="3" fill="#ff6a20" filter="url(#bl1)"/>
<path d="M130.0,95.0 C132.3,93.7 139.3,89.6 144.0,87.1 C148.7,84.6 153.3,82.4 158.0,80.1 C162.7,77.8 167.3,75.4 172.0,73.1 C176.7,70.8 181.3,68.2 186.0,66.1 C190.7,63.9 195.3,61.8 200.0,60.2 C204.7,58.6 209.3,57.7 214.0,56.7 C218.7,55.7 223.3,55.6 228.0,54.4 C232.7,53.2 237.3,51.3 242.0,49.7 C246.7,48.1 251.3,46.5 256.0,45.0 C260.7,43.5 264.7,42.3 270.0,40.4 C275.3,38.5 285.0,34.7 288.0,33.6" fill="none" stroke="#5a14e0" stroke-width="15" stroke-linecap="round" stroke-linejoin="round" stroke-opacity="0.85" filter="url(#bl3)"/>
<path d="M130.0,95.0 C132.3,93.7 139.3,89.6 144.0,87.1 C148.7,84.6 153.3,82.4 158.0,80.1 C162.7,77.8 167.3,75.4 172.0,73.1 C176.7,70.8 181.3,68.2 186.0,66.1 C190.7,63.9 195.3,61.8 200.0,60.2 C204.7,58.6 209.3,57.7 214.0,56.7 C218.7,55.7 223.3,55.6 228.0,54.4 C232.7,53.2 237.3,51.3 242.0,49.7 C246.7,48.1 251.3,46.5 256.0,45.0 C260.7,43.5 264.7,42.3 270.0,40.4 C275.3,38.5 285.0,34.7 288.0,33.6" fill="none" stroke="#a818c8" stroke-width="8" stroke-linecap="round" stroke-linejoin="round" stroke-opacity="0.95" filter="url(#bl1)"/>
<path d="M130.0,95.0 C132.3,93.7 139.3,89.6 144.0,87.1 C148.7,84.6 153.3,82.4 158.0,80.1 C162.7,77.8 167.3,75.4 172.0,73.1 C176.7,70.8 181.3,68.2 186.0,66.1 C190.7,63.9 195.3,61.8 200.0,60.2 C204.7,58.6 209.3,57.7 214.0,56.7 C218.7,55.7 223.3,55.6 228.0,54.4 C232.7,53.2 237.3,51.3 242.0,49.7 C246.7,48.1 251.3,46.5 256.0,45.0 C260.7,43.5 264.7,42.3 270.0,40.4 C275.3,38.5 285.0,34.7 288.0,33.6" fill="none" stroke="#e83040" stroke-width="4.2" stroke-linecap="round" stroke-linejoin="round" stroke-opacity="1.0" filter="url(#bl2)"/>
<g mask="url(#fadeR)">
<path d="M182.0,67.5 C183.3,66.8 187.0,64.7 190.0,63.5 C193.0,62.3 196.0,61.3 200.0,60.2 C204.0,59.1 209.3,57.7 214.0,56.7 C218.7,55.7 223.3,55.6 228.0,54.4 C232.7,53.2 237.3,51.3 242.0,49.7 C246.7,48.1 251.3,46.5 256.0,45.0 C260.7,43.5 264.7,42.3 270.0,40.4 C275.3,38.5 285.0,34.7 288.0,33.6" fill="none" stroke="#ff6a18" stroke-width="8.4" stroke-linecap="round" stroke-linejoin="round" stroke-opacity="1.0" filter="url(#bl2)"/>
<path d="M182.0,67.5 C183.3,66.8 187.0,64.7 190.0,63.5 C193.0,62.3 196.0,61.3 200.0,60.2 C204.0,59.1 209.3,57.7 214.0,56.7 C218.7,55.7 223.3,55.6 228.0,54.4 C232.7,53.2 237.3,51.3 242.0,49.7 C246.7,48.1 251.3,46.5 256.0,45.0 C260.7,43.5 264.7,42.3 270.0,40.4 C275.3,38.5 285.0,34.7 288.0,33.6" fill="none" stroke="#ffb020" stroke-width="4.8" stroke-linecap="round" stroke-linejoin="round" stroke-opacity="0.9" filter="url(#bl2)"/>
<path d="M182.0,67.5 C183.3,66.8 187.0,64.7 190.0,63.5 C193.0,62.3 196.0,61.3 200.0,60.2 C204.0,59.1 209.3,57.7 214.0,56.7 C218.7,55.7 223.3,55.6 228.0,54.4 C232.7,53.2 237.3,51.3 242.0,49.7 C246.7,48.1 251.3,46.5 256.0,45.0 C260.7,43.5 264.7,42.3 270.0,40.4 C275.3,38.5 285.0,34.7 288.0,33.6" fill="none" stroke="#ffd860" stroke-width="1.3" stroke-linecap="round" stroke-linejoin="round" stroke-opacity="0.45" filter="url(#bl4)"/>
</g>
<path d="M130.0,95.0 C132.3,93.7 139.3,89.6 144.0,87.1 C148.7,84.6 153.3,82.4 158.0,80.1 C162.7,77.8 167.3,75.4 172.0,73.1 C176.7,70.8 181.3,68.2 186.0,66.1 C190.7,63.9 197.7,61.2 200.0,60.2" fill="none" stroke="#f04a28" stroke-width="1.8" stroke-linecap="round" stroke-linejoin="round" stroke-opacity="0.9" filter="url(#bl2)"/>
<path d="M132,12 L138,12 L151,27 L155,39 L150,40 L135,24 Z" fill="#ff3a30" filter="url(#bl1)"/>
<path d="M133,11 L137,11 L149,26 L153,36 L148,37 L136,23 Z" fill="#ff9a20" filter="url(#bl2)"/>
<ellipse cx="145.5" cy="30" rx="3.2" ry="8.6" transform="rotate(-36 145.5 30)" fill="#ffe860" filter="url(#bl2)"/>
<ellipse cx="145.5" cy="30" rx="2.2" ry="6.8" transform="rotate(-36 145.5 30)" fill="#ffffff" filter="url(#bl2)"/>
</g></g>
<g clip-path="url(#ca3)"><g transform="translate(156,0)">
<rect x="131.00" y="14.00" width="157.00" height="98.00" fill="#12087e" stroke="none" stroke-width="0.8" />
<rect x="131.00" y="14.00" width="157.00" height="98.00" fill="#000" stroke="none" stroke-width="0.8" filter="url(#nzb)"/>
<ellipse cx="188" cy="60" rx="15" ry="8" fill="#6a18d8" filter="url(#bl3)" opacity="0.95"/>
<path d="M150.0,36.0 C150.7,37.3 152.5,41.7 154.0,44.0 C155.5,46.3 156.7,48.4 159.0,50.0 C161.3,51.6 164.8,53.1 168.0,53.5 C171.2,53.9 174.7,52.9 178.0,52.5 C181.3,52.1 184.8,50.8 188.0,51.0 C191.2,51.2 194.2,52.8 197.0,54.0 C199.8,55.2 203.7,57.3 205.0,58.0" fill="none" stroke="#6a14e0" stroke-width="8" stroke-linecap="round" stroke-linejoin="round" stroke-opacity="0.85" filter="url(#bl3)"/>
<path d="M150.0,36.0 C150.7,37.3 152.5,41.7 154.0,44.0 C155.5,46.3 156.7,48.4 159.0,50.0 C161.3,51.6 164.8,53.1 168.0,53.5 C171.2,53.9 174.7,52.9 178.0,52.5 C181.3,52.1 184.8,50.8 188.0,51.0 C191.2,51.2 194.2,52.8 197.0,54.0 C199.8,55.2 203.7,57.3 205.0,58.0" fill="none" stroke="#b01cb8" stroke-width="4" stroke-linecap="round" stroke-linejoin="round" stroke-opacity="0.95" filter="url(#bl1)"/>
<path d="M150.0,36.0 C150.7,37.3 152.5,41.7 154.0,44.0 C155.5,46.3 156.7,48.4 159.0,50.0 C161.3,51.6 164.8,53.1 168.0,53.5 C171.2,53.9 174.7,52.9 178.0,52.5 C181.3,52.1 184.8,50.8 188.0,51.0 C191.2,51.2 194.2,52.8 197.0,54.0 C199.8,55.2 203.7,57.3 205.0,58.0" fill="none" stroke="#e82a48" stroke-width="2.0" stroke-linecap="round" stroke-linejoin="round" stroke-opacity="1.0" filter="url(#bl2)"/>
<ellipse cx="201" cy="58.5" rx="5" ry="3" fill="#ff6a20" filter="url(#bl1)"/>
<path d="M130.0,95.0 C132.3,93.7 139.3,89.6 144.0,87.1 C148.7,84.6 153.3,82.4 158.0,80.1 C162.7,77.8 167.3,75.4 172.0,73.1 C176.7,70.8 181.3,68.2 186.0,66.1 C190.7,63.9 195.3,61.8 200.0,60.2 C204.7,58.6 209.3,57.7 214.0,56.7 C218.7,55.7 223.3,55.6 228.0,54.4 C232.7,53.2 237.3,51.3 242.0,49.7 C246.7,48.1 251.3,46.5 256.0,45.0 C260.7,43.5 264.7,42.3 270.0,40.4 C275.3,38.5 285.0,34.7 288.0,33.6" fill="none" stroke="#5a14e0" stroke-width="15" stroke-linecap="round" stroke-linejoin="round" stroke-opacity="0.85" filter="url(#bl3)"/>
<path d="M130.0,95.0 C132.3,93.7 139.3,89.6 144.0,87.1 C148.7,84.6 153.3,82.4 158.0,80.1 C162.7,77.8 167.3,75.4 172.0,73.1 C176.7,70.8 181.3,68.2 186.0,66.1 C190.7,63.9 195.3,61.8 200.0,60.2 C204.7,58.6 209.3,57.7 214.0,56.7 C218.7,55.7 223.3,55.6 228.0,54.4 C232.7,53.2 237.3,51.3 242.0,49.7 C246.7,48.1 251.3,46.5 256.0,45.0 C260.7,43.5 264.7,42.3 270.0,40.4 C275.3,38.5 285.0,34.7 288.0,33.6" fill="none" stroke="#a818c8" stroke-width="8" stroke-linecap="round" stroke-linejoin="round" stroke-opacity="0.95" filter="url(#bl1)"/>
<path d="M130.0,95.0 C132.3,93.7 139.3,89.6 144.0,87.1 C148.7,84.6 153.3,82.4 158.0,80.1 C162.7,77.8 167.3,75.4 172.0,73.1 C176.7,70.8 181.3,68.2 186.0,66.1 C190.7,63.9 195.3,61.8 200.0,60.2 C204.7,58.6 209.3,57.7 214.0,56.7 C218.7,55.7 223.3,55.6 228.0,54.4 C232.7,53.2 237.3,51.3 242.0,49.7 C246.7,48.1 251.3,46.5 256.0,45.0 C260.7,43.5 264.7,42.3 270.0,40.4 C275.3,38.5 285.0,34.7 288.0,33.6" fill="none" stroke="#e83040" stroke-width="4.2" stroke-linecap="round" stroke-linejoin="round" stroke-opacity="1.0" filter="url(#bl2)"/>
<g mask="url(#fadeR)">
<path d="M182.0,67.5 C183.3,66.8 187.0,64.7 190.0,63.5 C193.0,62.3 196.0,61.3 200.0,60.2 C204.0,59.1 209.3,57.7 214.0,56.7 C218.7,55.7 223.3,55.6 228.0,54.4 C232.7,53.2 237.3,51.3 242.0,49.7 C246.7,48.1 251.3,46.5 256.0,45.0 C260.7,43.5 264.7,42.3 270.0,40.4 C275.3,38.5 285.0,34.7 288.0,33.6" fill="none" stroke="#ff6a18" stroke-width="8.4" stroke-linecap="round" stroke-linejoin="round" stroke-opacity="1.0" filter="url(#bl2)"/>
<path d="M182.0,67.5 C183.3,66.8 187.0,64.7 190.0,63.5 C193.0,62.3 196.0,61.3 200.0,60.2 C204.0,59.1 209.3,57.7 214.0,56.7 C218.7,55.7 223.3,55.6 228.0,54.4 C232.7,53.2 237.3,51.3 242.0,49.7 C246.7,48.1 251.3,46.5 256.0,45.0 C260.7,43.5 264.7,42.3 270.0,40.4 C275.3,38.5 285.0,34.7 288.0,33.6" fill="none" stroke="#ffb020" stroke-width="4.8" stroke-linecap="round" stroke-linejoin="round" stroke-opacity="0.9" filter="url(#bl2)"/>
<path d="M182.0,67.5 C183.3,66.8 187.0,64.7 190.0,63.5 C193.0,62.3 196.0,61.3 200.0,60.2 C204.0,59.1 209.3,57.7 214.0,56.7 C218.7,55.7 223.3,55.6 228.0,54.4 C232.7,53.2 237.3,51.3 242.0,49.7 C246.7,48.1 251.3,46.5 256.0,45.0 C260.7,43.5 264.7,42.3 270.0,40.4 C275.3,38.5 285.0,34.7 288.0,33.6" fill="none" stroke="#ffd860" stroke-width="1.3" stroke-linecap="round" stroke-linejoin="round" stroke-opacity="0.45" filter="url(#bl4)"/>
</g>
<path d="M130.0,95.0 C132.3,93.7 139.3,89.6 144.0,87.1 C148.7,84.6 153.3,82.4 158.0,80.1 C162.7,77.8 167.3,75.4 172.0,73.1 C176.7,70.8 181.3,68.2 186.0,66.1 C190.7,63.9 197.7,61.2 200.0,60.2" fill="none" stroke="#f04a28" stroke-width="1.8" stroke-linecap="round" stroke-linejoin="round" stroke-opacity="0.9" filter="url(#bl2)"/>
<path d="M132,12 L138,12 L151,27 L155,39 L150,40 L135,24 Z" fill="#ff3a30" filter="url(#bl1)"/>
<path d="M133,11 L137,11 L149,26 L153,36 L148,37 L136,23 Z" fill="#ff9a20" filter="url(#bl2)"/>
<ellipse cx="145.5" cy="30" rx="3.2" ry="8.6" transform="rotate(-36 145.5 30)" fill="#ffe860" filter="url(#bl2)"/>
<ellipse cx="145.5" cy="30" rx="2.2" ry="6.8" transform="rotate(-36 145.5 30)" fill="#ffffff" filter="url(#bl2)"/>
</g></g>
<text x="175.00" y="36.20" font-size="9.5" text-anchor="start" fill="#fff" >Cell 2</text>
<text x="146.80" y="105.30" font-size="9.5" text-anchor="start" fill="#fff" >Cell 1</text>
<text x="352.00" y="37.60" font-size="9.5" text-anchor="start" fill="#fff" >Cell 2</text>
<text x="305.20" y="107.60" font-size="9.5" text-anchor="start" fill="#fff" >Cell 1</text>
<path d="M290.7,92.9 L294.2,90.6 L297.7,92.9 L304.7,85.9 L309.4,84.7 L314.0,84.7 L323.4,77.7 L332.7,71.9 L339.7,71.9 L343.2,69.6" stroke="#222" stroke-width="2.9" fill="none" stroke-linejoin="round" stroke-linecap="round"/>
<path d="M343.2,69.6 L353.7,64.9 L363.1,60.2 L366.6,57.9 L372.4,57.9" stroke="#222" stroke-width="2.9" fill="none" stroke-linejoin="round" stroke-linecap="round"/>
<path d="M372.4,57.9 L384.1,55.5 L398.1,52.0 L412.1,47.4 L426.2,42.7" stroke="#222" stroke-width="2.9" fill="none" stroke-linejoin="round" stroke-linecap="round"/>
<path d="M290.7,92.9 L294.2,90.6 L297.7,92.9 L304.7,85.9 L309.4,84.7 L314.0,84.7 L323.4,77.7 L332.7,71.9 L339.7,71.9 L343.2,69.6" stroke="#22c03a" stroke-width="1.45" fill="none" stroke-linejoin="round" stroke-linecap="round"/>
<path d="M343.2,69.6 L353.7,64.9 L363.1,60.2 L366.6,57.9 L372.4,57.9" stroke="#80b0f8" stroke-width="1.45" fill="none" stroke-linejoin="round" stroke-linecap="round"/>
<path d="M372.4,57.9 L384.1,55.5 L398.1,52.0 L412.1,47.4 L426.2,42.7" stroke="#f89890" stroke-width="1.45" fill="none" stroke-linejoin="round" stroke-linecap="round"/>
<text x="439.30" y="81.80" font-size="9.7" text-anchor="end" fill="#2bc040" >Single-cell segment</text>
<text x="439.30" y="93.00" font-size="9.7" text-anchor="end" fill="#6f9cf0" >Transition zone</text>
<text x="440.20" y="104.20" font-size="9.7" text-anchor="end" fill="#f2857a" >Cell-cell contact</text>
<line x1="374.80" y1="107.80" x2="440.20" y2="107.80" stroke="#fff" stroke-width="1.2" />
<line x1="35.40" y1="202.00" x2="35.40" y2="289.20" stroke="#222" stroke-width="0.9" />
<line x1="35.40" y1="289.20" x2="100.00" y2="289.20" stroke="#222" stroke-width="0.9" />
<line x1="33.60" y1="217.50" x2="35.40" y2="217.50" stroke="#222" stroke-width="0.8" />
<text x="32.30" y="221.00" font-size="9.9" text-anchor="end" fill="#000" >300</text>
<line x1="33.60" y1="242.40" x2="35.40" y2="242.40" stroke="#222" stroke-width="0.8" />
<text x="32.30" y="245.90" font-size="9.9" text-anchor="end" fill="#000" >200</text>
<line x1="33.60" y1="266.60" x2="35.40" y2="266.60" stroke="#222" stroke-width="0.8" />
<text x="32.30" y="270.10" font-size="9.9" text-anchor="end" fill="#000" >100</text>
<line x1="45.80" y1="289.20" x2="45.80" y2="291.40" stroke="#222" stroke-width="0.8" />
<line x1="67.90" y1="289.20" x2="67.90" y2="291.40" stroke="#222" stroke-width="0.8" />
<line x1="88.30" y1="289.20" x2="88.30" y2="291.40" stroke="#222" stroke-width="0.8" />
<text x="14.80" y="240.60" font-size="9.7" text-anchor="middle" fill="#000" transform="rotate(-90 14.8 240.6)" >GCX MFI</text>
<text x="66.50" y="172.50" font-size="9.5" text-anchor="middle" fill="#000" >Fixed</text>
<text x="46.50" y="185.60" font-size="7" text-anchor="start" fill="#222" >p=0.000007</text>
<path d="M46.6,190.4 V188.2 H88.8 V190.4" stroke="#222" stroke-width="0.75" fill="none" />
<text x="64.30" y="196.60" font-size="7" text-anchor="start" fill="#222" >p=0.059</text>
<path d="M66.3,200.7 V198.5 H88.3 V200.7" stroke="#222" stroke-width="0.75" fill="none" />
<text x="45.00" y="206.50" font-size="7" text-anchor="start" fill="#222" >p=0.019</text>
<path d="M46.6,211.4 V209.2 H64.7 V211.4" stroke="#222" stroke-width="0.75" fill="none" />
<path d="M45.2,235.3 C45.1,236.1 44.9,238.4 44.6,240.0 C44.3,241.6 43.9,243.3 43.4,245.0 C42.9,246.7 42.3,248.3 41.9,250.0 C41.5,251.7 41.1,253.3 40.9,255.0 C40.6,256.7 40.4,258.3 40.4,260.0 C40.4,261.7 40.6,263.3 40.9,265.0 C41.1,266.7 41.6,268.3 41.9,270.0 C42.2,271.7 42.6,273.3 42.9,275.0 C43.2,276.7 43.5,278.2 43.9,280.0 C44.3,281.8 45.0,284.8 45.2,285.8 L47.2,285.8 C47.3,285.2 47.4,283.3 47.6,282.0 C47.8,280.7 48.2,279.5 48.6,278.0 C49.0,276.5 49.4,274.7 50.0,273.0 C50.6,271.3 51.3,269.5 52.0,268.0 C52.7,266.5 53.6,265.4 54.2,264.0 C54.7,262.6 55.3,261.0 55.3,259.5 C55.3,258.0 54.9,256.6 54.4,255.0 C53.9,253.4 53.0,251.7 52.2,250.0 C51.4,248.3 50.5,246.7 49.8,245.0 C49.1,243.3 48.6,241.6 48.2,240.0 C47.8,238.4 47.7,236.1 47.6,235.3 Z" fill="#92e0b0" stroke="#111" stroke-width="0.85" stroke-linejoin="round"/>
<path d="M46.0,246.0 L45.7,246.0 C45.2,246.7 43.9,248.5 43.0,250.0 C42.1,251.5 41.2,253.4 40.5,255.0 C39.8,256.6 39.2,257.8 39.0,259.5 C38.8,261.2 39.1,263.2 39.4,265.0 C39.7,266.8 40.4,268.3 40.8,270.0 C41.2,271.7 41.6,273.3 42.0,275.0 C42.4,276.7 42.8,278.2 43.2,280.0 C43.6,281.8 44.2,284.8 44.4,285.8 L46.0,285.8 Z" fill="#1fbf2f" fill-opacity="1.0" stroke="none"/>
<path d="M46.0,246.0 L45.7,246.0 C45.2,246.7 43.9,248.5 43.0,250.0 C42.1,251.5 41.2,253.4 40.5,255.0 C39.8,256.6 39.2,257.8 39.0,259.5 C38.8,261.2 39.1,263.2 39.4,265.0 C39.7,266.8 40.4,268.3 40.8,270.0 C41.2,271.7 41.6,273.3 42.0,275.0 C42.4,276.7 42.8,278.2 43.2,280.0 C43.6,281.8 44.2,284.8 44.4,285.8 L46.0,285.8" fill="none" stroke="#111" stroke-width="0.85" stroke-linejoin="round"/>
<line x1="46.60" y1="245.00" x2="46.60" y2="283.00" stroke="#222" stroke-width="0.5" />
<line x1="48.80" y1="238.00" x2="49.50" y2="280.00" stroke="#222" stroke-width="0.45" />
<line x1="42.50" y1="264.60" x2="50.50" y2="264.60" stroke="#222" stroke-width="0.6" />
<circle cx="41.8" cy="265.5" r="1.3" fill="none" stroke="#222" stroke-width="0.55"/>
<circle cx="50.8" cy="255.3" r="1.3" fill="none" stroke="#222" stroke-width="0.55"/>
<circle cx="46.8" cy="272.0" r="1.3" fill="none" stroke="#222" stroke-width="0.55"/>
<path d="M66.1,219.0 C66.0,220.0 65.9,222.8 65.7,225.0 C65.5,227.2 65.5,229.5 65.2,232.0 C65.0,234.5 64.5,237.0 64.2,240.0 C63.9,243.0 63.4,246.7 63.2,250.0 C63.0,253.3 63.0,257.0 63.2,260.0 C63.5,263.0 64.2,265.5 64.7,268.0 C65.2,270.5 66.2,273.7 66.5,274.8 L68.9,274.8 C69.2,273.7 70.0,270.1 70.7,268.0 C71.4,265.9 72.1,264.0 72.9,262.0 C73.7,260.0 74.8,258.0 75.3,256.0 C75.8,254.0 76.3,251.8 76.2,250.0 C76.1,248.2 75.4,246.7 74.9,245.0 C74.4,243.3 74.0,242.2 73.3,240.0 C72.6,237.8 71.5,234.5 70.9,232.0 C70.3,229.5 70.0,227.2 69.7,225.0 C69.4,222.8 69.4,220.0 69.3,219.0 Z" fill="#a8bcee" stroke="#111" stroke-width="0.85" stroke-linejoin="round"/>
<path d="M67.7,232.0 L68.0,232.0 C68.4,233.3 69.5,237.3 70.2,240.0 C70.9,242.7 71.8,245.5 72.3,248.0 C72.8,250.5 73.0,252.7 72.9,255.0 C72.8,257.3 72.3,259.8 71.9,262.0 C71.5,264.2 71.0,265.7 70.5,268.0 C70.0,270.3 69.3,273.8 68.9,276.0 C68.5,278.2 68.4,280.2 68.3,281.0 L67.7,281.0 Z" fill="#7a80dc" fill-opacity="1.0" stroke="none"/>
<path d="M67.7,232.0 L68.0,232.0 C68.4,233.3 69.5,237.3 70.2,240.0 C70.9,242.7 71.8,245.5 72.3,248.0 C72.8,250.5 73.0,252.7 72.9,255.0 C72.8,257.3 72.3,259.8 71.9,262.0 C71.5,264.2 71.0,265.7 70.5,268.0 C70.0,270.3 69.3,273.8 68.9,276.0 C68.5,278.2 68.4,280.2 68.3,281.0 L67.7,281.0" fill="none" stroke="#111" stroke-width="0.85" stroke-linejoin="round"/>
<path d="M67.7,242.5 L67.2,242.5 C66.6,243.4 64.8,246.2 63.7,248.0 C62.6,249.8 61.5,251.4 60.7,253.0 C60.0,254.6 59.3,256.1 59.2,257.8 C59.1,259.5 59.6,261.3 60.2,263.0 C60.8,264.7 62.0,266.3 62.7,268.0 C63.5,269.7 64.1,271.5 64.7,273.0 C65.3,274.5 65.9,275.7 66.2,277.0 C66.5,278.3 66.6,280.3 66.7,281.0 L67.7,281.0 Z" fill="#0a0ad0" fill-opacity="1.0" stroke="none"/>
<path d="M67.7,242.5 L67.2,242.5 C66.6,243.4 64.8,246.2 63.7,248.0 C62.6,249.8 61.5,251.4 60.7,253.0 C60.0,254.6 59.3,256.1 59.2,257.8 C59.1,259.5 59.6,261.3 60.2,263.0 C60.8,264.7 62.0,266.3 62.7,268.0 C63.5,269.7 64.1,271.5 64.7,273.0 C65.3,274.5 65.9,275.7 66.2,277.0 C66.5,278.3 66.6,280.3 66.7,281.0 L67.7,281.0" fill="none" stroke="#111" stroke-width="0.85" stroke-linejoin="round"/>
<line x1="67.70" y1="220.00" x2="67.70" y2="281.50" stroke="#222" stroke-width="0.5" />
<line x1="66.20" y1="225.50" x2="69.40" y2="225.50" stroke="#222" stroke-width="0.5" />
<circle cx="64.5" cy="260.0" r="1.3" fill="none" stroke="#222" stroke-width="0.55"/>
<circle cx="71.5" cy="257.5" r="1.3" fill="none" stroke="#222" stroke-width="0.55"/>
<circle cx="68.8" cy="237.5" r="1.3" fill="none" stroke="#222" stroke-width="0.55"/>
<path d="M86.5,207.6 C86.5,208.8 86.5,212.6 86.4,215.0 C86.3,217.4 86.1,219.5 85.8,222.0 C85.5,224.5 85.1,227.0 84.8,230.0 C84.5,233.0 84.0,236.7 83.8,240.0 C83.6,243.3 83.5,247.0 83.8,250.0 C84.0,253.0 84.7,255.6 85.3,258.0 C85.9,260.4 86.8,262.6 87.3,264.6 C87.8,266.6 87.9,267.5 88.0,270.0 C88.1,272.5 88.0,278.2 88.0,279.8 L89.6,279.8 C89.6,278.2 89.5,272.5 89.6,270.0 C89.7,267.5 89.6,266.3 90.0,264.6 C90.4,262.9 91.2,261.4 91.8,260.0 C92.4,258.6 93.2,257.7 93.8,256.0 C94.4,254.3 95.3,252.7 95.6,250.0 C95.8,247.3 95.6,243.3 95.3,240.0 C95.0,236.7 94.3,233.0 93.8,230.0 C93.3,227.0 92.8,224.5 92.4,222.0 C92.0,219.5 91.6,217.4 91.4,215.0 C91.2,212.6 91.1,208.8 91.1,207.6 Z" fill="#cf8080" stroke="#111" stroke-width="0.85" stroke-linejoin="round"/>
<path d="M88.8,225.5 L88.3,225.5 C87.7,226.6 85.9,229.9 84.8,232.0 C83.7,234.1 82.6,235.7 81.8,238.0 C81.0,240.3 80.3,243.6 80.1,245.9 C79.9,248.2 80.1,250.0 80.6,252.0 C81.0,254.0 82.1,256.2 82.8,258.0 C83.5,259.8 84.1,261.7 84.8,263.0 C85.5,264.3 86.3,264.8 86.8,266.0 C87.3,267.2 87.8,269.3 88.0,270.0 L88.8,270.0 Z" fill="#cc1414" fill-opacity="1.0" stroke="none"/>
<path d="M88.8,225.5 L88.3,225.5 C87.7,226.6 85.9,229.9 84.8,232.0 C83.7,234.1 82.6,235.7 81.8,238.0 C81.0,240.3 80.3,243.6 80.1,245.9 C79.9,248.2 80.1,250.0 80.6,252.0 C81.0,254.0 82.1,256.2 82.8,258.0 C83.5,259.8 84.1,261.7 84.8,263.0 C85.5,264.3 86.3,264.8 86.8,266.0 C87.3,267.2 87.8,269.3 88.0,270.0 L88.8,270.0" fill="none" stroke="#111" stroke-width="0.85" stroke-linejoin="round"/>
<line x1="88.80" y1="208.00" x2="88.80" y2="279.80" stroke="#222" stroke-width="0.5" />
<line x1="91.50" y1="215.00" x2="93.00" y2="262.00" stroke="#222" stroke-width="0.45" />
<line x1="85.00" y1="245.80" x2="92.50" y2="245.80" stroke="#222" stroke-width="0.6" />
<circle cx="84.4" cy="248.5" r="1.3" fill="none" stroke="#222" stroke-width="0.55"/>
<circle cx="89.8" cy="227.5" r="1.3" fill="none" stroke="#222" stroke-width="0.55"/>
<circle cx="89.2" cy="254.0" r="1.3" fill="none" stroke="#222" stroke-width="0.55"/>
<line x1="134.40" y1="200.50" x2="134.40" y2="288.30" stroke="#222" stroke-width="0.9" />
<line x1="134.40" y1="288.30" x2="191.50" y2="288.30" stroke="#222" stroke-width="0.9" />
<line x1="132.60" y1="214.00" x2="134.40" y2="214.00" stroke="#222" stroke-width="0.8" />
<text x="131.30" y="217.50" font-size="9.9" text-anchor="end" fill="#000" >200</text>
<line x1="132.60" y1="235.60" x2="134.40" y2="235.60" stroke="#222" stroke-width="0.8" />
<text x="131.30" y="239.10" font-size="9.9" text-anchor="end" fill="#000" >150</text>
<line x1="132.60" y1="257.30" x2="134.40" y2="257.30" stroke="#222" stroke-width="0.8" />
<text x="131.30" y="260.80" font-size="9.9" text-anchor="end" fill="#000" >100</text>
<line x1="132.60" y1="279.00" x2="134.40" y2="279.00" stroke="#222" stroke-width="0.8" />
<text x="131.30" y="282.50" font-size="9.9" text-anchor="end" fill="#000" >50</text>
<line x1="143.00" y1="288.30" x2="143.00" y2="290.00" stroke="#222" stroke-width="0.8" />
<line x1="163.40" y1="288.30" x2="163.40" y2="290.00" stroke="#222" stroke-width="0.8" />
<line x1="184.00" y1="288.30" x2="184.00" y2="290.00" stroke="#222" stroke-width="0.8" />
<text x="160.70" y="173.00" font-size="9.5" text-anchor="middle" fill="#000" >Live</text>
<text x="147.20" y="183.30" font-size="7" text-anchor="start" fill="#222" >p=0.0004</text>
<path d="M145.0,187.5 V185.3 H180.5 V187.5" stroke="#222" stroke-width="0.75" fill="none" />
<text x="163.90" y="195.00" font-size="7" text-anchor="start" fill="#222" >p=0.09</text>
<path d="M161.4,199.5 V197.3 H180.5 V199.5" stroke="#222" stroke-width="0.75" fill="none" />
<text x="144.70" y="208.00" font-size="7" text-anchor="start" fill="#222" >p=0.09</text>
<path d="M142.3,212.5 V210.3 H163.4 V212.5" stroke="#222" stroke-width="0.75" fill="none" />
<path d="M143.0,219.0 L143.5,219.0 C143.6,220.8 143.8,226.8 144.0,230.0 C144.2,233.2 144.5,235.5 144.8,238.0 C145.1,240.5 145.5,242.2 146.0,245.0 C146.5,247.8 147.3,251.7 148.0,255.0 C148.7,258.3 149.4,262.2 150.0,265.0 C150.6,267.8 151.1,270.0 151.3,272.0 C151.5,274.0 151.3,275.5 151.0,277.0 C150.7,278.5 150.0,280.0 149.5,281.0 C149.0,282.0 148.4,282.5 148.2,282.8 L143.0,282.8 Z" fill="#92e0b0" fill-opacity="1.0" stroke="none"/>
<path d="M143.0,219.0 L143.5,219.0 C143.6,220.8 143.8,226.8 144.0,230.0 C144.2,233.2 144.5,235.5 144.8,238.0 C145.1,240.5 145.5,242.2 146.0,245.0 C146.5,247.8 147.3,251.7 148.0,255.0 C148.7,258.3 149.4,262.2 150.0,265.0 C150.6,267.8 151.1,270.0 151.3,272.0 C151.5,274.0 151.3,275.5 151.0,277.0 C150.7,278.5 150.0,280.0 149.5,281.0 C149.0,282.0 148.4,282.5 148.2,282.8 L143.0,282.8" fill="none" stroke="#111" stroke-width="0.9" stroke-linejoin="round"/>
<path d="M143.0,219.0 L142.5,219.0 C142.4,220.8 142.2,226.8 142.0,230.0 C141.8,233.2 141.8,235.5 141.5,238.0 C141.2,240.5 140.9,242.2 140.5,245.0 C140.1,247.8 139.5,251.7 139.0,255.0 C138.5,258.3 137.9,262.2 137.5,265.0 C137.1,267.8 136.8,270.0 136.7,272.0 C136.6,274.0 136.8,275.5 137.0,277.0 C137.2,278.5 137.7,280.0 138.0,281.0 C138.3,282.0 138.8,282.5 139.0,282.8 L143.0,282.8 Z" fill="#1fbf2f" fill-opacity="1.0" stroke="none"/>
<path d="M143.0,219.0 L142.5,219.0 C142.4,220.8 142.2,226.8 142.0,230.0 C141.8,233.2 141.8,235.5 141.5,238.0 C141.2,240.5 140.9,242.2 140.5,245.0 C140.1,247.8 139.5,251.7 139.0,255.0 C138.5,258.3 137.9,262.2 137.5,265.0 C137.1,267.8 136.8,270.0 136.7,272.0 C136.6,274.0 136.8,275.5 137.0,277.0 C137.2,278.5 137.7,280.0 138.0,281.0 C138.3,282.0 138.8,282.5 139.0,282.8 L143.0,282.8" fill="none" stroke="#111" stroke-width="0.9" stroke-linejoin="round"/>
<line x1="143.00" y1="218.50" x2="143.00" y2="240.00" stroke="#111" stroke-width="2.4" />
<line x1="143.00" y1="240.00" x2="143.00" y2="282.80" stroke="#222" stroke-width="0.6" />
<line x1="139.50" y1="276.50" x2="148.00" y2="276.50" stroke="#222" stroke-width="0.6" />
<circle cx="139.5" cy="266.6" r="1.3" fill="none" stroke="#222" stroke-width="0.55"/>
<circle cx="147.5" cy="270.5" r="1.3" fill="none" stroke="#222" stroke-width="0.55"/>
<circle cx="143.5" cy="281.0" r="1.3" fill="none" stroke="#222" stroke-width="0.55"/>
<path d="M163.4,213.0 L163.9,213.0 C164.0,215.0 164.2,221.3 164.4,225.0 C164.7,228.7 164.9,231.7 165.4,235.0 C165.9,238.3 166.7,241.7 167.4,245.0 C168.2,248.3 169.2,252.2 169.9,255.0 C170.6,257.8 171.2,259.5 171.4,262.0 C171.7,264.5 171.6,267.7 171.4,270.0 C171.2,272.3 170.8,274.2 170.4,276.0 C170.0,277.8 169.3,279.4 168.9,280.5 C168.5,281.6 168.1,282.4 167.9,282.8 L163.4,282.8 Z" fill="#a8bcee" fill-opacity="1.0" stroke="none"/>
<path d="M163.4,213.0 L163.9,213.0 C164.0,215.0 164.2,221.3 164.4,225.0 C164.7,228.7 164.9,231.7 165.4,235.0 C165.9,238.3 166.7,241.7 167.4,245.0 C168.2,248.3 169.2,252.2 169.9,255.0 C170.6,257.8 171.2,259.5 171.4,262.0 C171.7,264.5 171.6,267.7 171.4,270.0 C171.2,272.3 170.8,274.2 170.4,276.0 C170.0,277.8 169.3,279.4 168.9,280.5 C168.5,281.6 168.1,282.4 167.9,282.8 L163.4,282.8" fill="none" stroke="#111" stroke-width="0.9" stroke-linejoin="round"/>
<path d="M163.4,213.0 L162.9,213.0 C162.8,215.0 162.6,221.3 162.4,225.0 C162.2,228.7 162.0,231.7 161.6,235.0 C161.2,238.3 160.6,241.7 159.9,245.0 C159.2,248.3 158.1,252.2 157.4,255.0 C156.7,257.8 156.2,259.5 155.9,262.0 C155.7,264.5 155.8,267.7 155.9,270.0 C156.1,272.3 156.4,274.2 156.8,276.0 C157.2,277.8 157.8,279.4 158.2,280.5 C158.6,281.6 159.0,282.4 159.2,282.8 L163.4,282.8 Z" fill="#0a0ad0" fill-opacity="1.0" stroke="none"/>
<path d="M163.4,213.0 L162.9,213.0 C162.8,215.0 162.6,221.3 162.4,225.0 C162.2,228.7 162.0,231.7 161.6,235.0 C161.2,238.3 160.6,241.7 159.9,245.0 C159.2,248.3 158.1,252.2 157.4,255.0 C156.7,257.8 156.2,259.5 155.9,262.0 C155.7,264.5 155.8,267.7 155.9,270.0 C156.1,272.3 156.4,274.2 156.8,276.0 C157.2,277.8 157.8,279.4 158.2,280.5 C158.6,281.6 159.0,282.4 159.2,282.8 L163.4,282.8" fill="none" stroke="#111" stroke-width="0.9" stroke-linejoin="round"/>
<line x1="163.40" y1="212.50" x2="163.40" y2="238.00" stroke="#111" stroke-width="2.4" />
<line x1="163.40" y1="238.00" x2="163.40" y2="282.80" stroke="#222" stroke-width="0.6" />
<line x1="160.00" y1="264.00" x2="168.00" y2="264.00" stroke="#222" stroke-width="0.6" />
<circle cx="158.5" cy="261.5" r="1.3" fill="none" stroke="#222" stroke-width="0.55"/>
<circle cx="168.8" cy="264.3" r="1.3" fill="none" stroke="#222" stroke-width="0.55"/>
<circle cx="162.5" cy="272.0" r="1.3" fill="none" stroke="#222" stroke-width="0.55"/>
<path d="M184.0,204.0 L184.5,204.0 C184.6,205.8 184.8,211.5 185.0,215.0 C185.2,218.5 185.6,221.7 186.0,225.0 C186.4,228.3 186.9,231.7 187.6,235.0 C188.3,238.3 189.3,242.2 190.0,245.0 C190.7,247.8 191.3,249.5 191.5,252.0 C191.7,254.5 191.4,257.5 191.0,260.0 C190.6,262.5 189.7,264.7 189.0,267.0 C188.3,269.3 187.4,271.8 187.0,274.0 C186.6,276.2 186.5,278.5 186.4,280.0 C186.3,281.5 186.2,282.3 186.2,282.8 L184.0,282.8 Z" fill="#cf8080" fill-opacity="1.0" stroke="none"/>
<path d="M184.0,204.0 L184.5,204.0 C184.6,205.8 184.8,211.5 185.0,215.0 C185.2,218.5 185.6,221.7 186.0,225.0 C186.4,228.3 186.9,231.7 187.6,235.0 C188.3,238.3 189.3,242.2 190.0,245.0 C190.7,247.8 191.3,249.5 191.5,252.0 C191.7,254.5 191.4,257.5 191.0,260.0 C190.6,262.5 189.7,264.7 189.0,267.0 C188.3,269.3 187.4,271.8 187.0,274.0 C186.6,276.2 186.5,278.5 186.4,280.0 C186.3,281.5 186.2,282.3 186.2,282.8 L184.0,282.8" fill="none" stroke="#111" stroke-width="0.9" stroke-linejoin="round"/>
<path d="M184.0,204.0 L183.5,204.0 C183.4,205.8 183.2,211.5 183.0,215.0 C182.8,218.5 182.5,221.7 182.0,225.0 C181.5,228.3 180.8,231.7 180.0,235.0 C179.2,238.3 177.8,242.2 177.0,245.0 C176.2,247.8 175.6,249.5 175.5,252.0 C175.4,254.5 175.9,257.5 176.5,260.0 C177.1,262.5 178.2,264.7 179.0,267.0 C179.8,269.3 180.6,271.8 181.0,274.0 C181.4,276.2 181.5,278.5 181.6,280.0 C181.7,281.5 181.8,282.3 181.8,282.8 L184.0,282.8 Z" fill="#cc1414" fill-opacity="1.0" stroke="none"/>
<path d="M184.0,204.0 L183.5,204.0 C183.4,205.8 183.2,211.5 183.0,215.0 C182.8,218.5 182.5,221.7 182.0,225.0 C181.5,228.3 180.8,231.7 180.0,235.0 C179.2,238.3 177.8,242.2 177.0,245.0 C176.2,247.8 175.6,249.5 175.5,252.0 C175.4,254.5 175.9,257.5 176.5,260.0 C177.1,262.5 178.2,264.7 179.0,267.0 C179.8,269.3 180.6,271.8 181.0,274.0 C181.4,276.2 181.5,278.5 181.6,280.0 C181.7,281.5 181.8,282.3 181.8,282.8 L184.0,282.8" fill="none" stroke="#111" stroke-width="0.9" stroke-linejoin="round"/>
<line x1="184.00" y1="203.50" x2="184.00" y2="228.00" stroke="#111" stroke-width="2.4" />
<line x1="184.00" y1="228.00" x2="184.00" y2="283.00" stroke="#222" stroke-width="0.6" />
<line x1="180.50" y1="256.80" x2="188.00" y2="256.80" stroke="#222" stroke-width="0.6" />
<circle cx="179.0" cy="252.5" r="1.3" fill="none" stroke="#222" stroke-width="0.55"/>
<circle cx="186.5" cy="250.0" r="1.3" fill="none" stroke="#222" stroke-width="0.55"/>
<circle cx="187.5" cy="257.0" r="1.3" fill="none" stroke="#222" stroke-width="0.55"/>
<text x="49.20" y="299.90" font-size="9.3" text-anchor="end" fill="#000" transform="rotate(-45 49.199999999999996 299.90000000000003)" >Single</text>
<text x="71.90" y="299.50" font-size="9.3" text-anchor="end" fill="#000" transform="rotate(-45 71.9 299.5)" >Transition</text>
<text x="92.70" y="300.70" font-size="9.3" text-anchor="end" fill="#000" transform="rotate(-45 92.69999999999999 300.7)" >Contact</text>
<text x="146.40" y="296.20" font-size="9.3" text-anchor="end" fill="#000" transform="rotate(-45 146.4 296.2)" >Single</text>
<text x="168.00" y="296.00" font-size="9.3" text-anchor="end" fill="#000" transform="rotate(-45 168.0 296.0)" >Transition</text>
<text x="189.60" y="298.00" font-size="9.3" text-anchor="end" fill="#000" transform="rotate(-45 189.6 298.0)" >Contact</text>
<rect x="218.90" y="163.30" width="274.30" height="9.40" fill="#fff" stroke="#333" stroke-width="0.9" />
<text x="327.40" y="171.30" font-size="9.2" text-anchor="start" fill="#000" >Short transition zone</text>
<rect x="217.80" y="247.50" width="275.70" height="9.60" fill="#fff" stroke="#333" stroke-width="0.9" />
<text x="332.00" y="255.60" font-size="9.2" text-anchor="start" fill="#000" >Long transition zone</text>
<rect x="302.00" y="175.00" width="2.00" height="69.40" fill="#b8b8b8" stroke="none" stroke-width="0.8" />
<rect x="303.50" y="260.60" width="1.50" height="70.80" fill="#b8b8b8" stroke="none" stroke-width="0.8" />
<g clip-path="url(#cd1)">
<rect x="219.00" y="175.00" width="83.00" height="69.40" fill="#121212" stroke="none" stroke-width="0.8" />
<rect x="219.00" y="175.00" width="83.00" height="69.40" fill="#000" stroke="none" stroke-width="0.8" filter="url(#nzg)" opacity="0.4"/>
<g transform="translate(0,0)">
<path d="M218.0,188.0 C218.7,187.2 220.6,184.9 222.0,183.5 C223.4,182.1 224.1,180.8 226.2,179.4 C228.2,178.1 232.3,176.5 234.3,175.4 C236.3,174.3 237.4,173.4 238.0,173.0" fill="none" stroke="#333" stroke-width="8.32" stroke-linecap="round" stroke-linejoin="round" stroke-opacity="0.9" filter="url(#bl1)"/>
<path d="M218.0,188.0 C218.7,187.2 220.6,184.9 222.0,183.5 C223.4,182.1 224.1,180.8 226.2,179.4 C228.2,178.1 232.3,176.5 234.3,175.4 C236.3,174.3 237.4,173.4 238.0,173.0" fill="none" stroke="#505050" stroke-width="3.2" stroke-linecap="round" stroke-linejoin="round" stroke-opacity="0.9" filter="url(#bl4)"/>
<path d="M218.0,203.4 C218.7,203.2 219.7,203.1 222.0,202.5 C224.3,201.9 227.7,200.4 231.6,199.8 C235.5,199.2 241.8,198.9 245.2,199.1 C248.6,199.3 249.1,200.5 252.0,201.2 C254.9,201.9 259.4,203.1 262.8,203.2 C266.2,203.3 268.5,202.1 272.3,201.9 C276.1,201.7 280.8,201.7 285.9,201.9 C291.0,202.2 300.1,203.2 303.0,203.4" fill="none" stroke="#7a7a7a" stroke-width="5.9799999999999995" stroke-linecap="round" stroke-linejoin="round" stroke-opacity="0.95" filter="url(#bl1)"/>
<path d="M218.0,203.4 C218.7,203.2 219.7,203.1 222.0,202.5 C224.3,201.9 227.7,200.4 231.6,199.8 C235.5,199.2 241.8,198.9 245.2,199.1 C248.6,199.3 249.1,200.5 252.0,201.2 C254.9,201.9 259.4,203.1 262.8,203.2 C266.2,203.3 268.5,202.1 272.3,201.9 C276.1,201.7 280.8,201.7 285.9,201.9 C291.0,202.2 300.1,203.2 303.0,203.4" fill="none" stroke="#e8e8e8" stroke-width="2.3" stroke-linecap="round" stroke-linejoin="round" stroke-opacity="0.95" filter="url(#bl4)"/>
<path d="M218.0,226.0 C220.3,225.2 227.1,222.8 231.6,220.9 C236.1,219.0 241.1,217.0 245.2,214.8 C249.3,212.7 252.8,209.9 256.0,208.0 C259.2,206.1 262.8,204.0 264.2,203.2" fill="none" stroke="#7a7a7a" stroke-width="5.9799999999999995" stroke-linecap="round" stroke-linejoin="round" stroke-opacity="0.95" filter="url(#bl1)"/>
<path d="M218.0,226.0 C220.3,225.2 227.1,222.8 231.6,220.9 C236.1,219.0 241.1,217.0 245.2,214.8 C249.3,212.7 252.8,209.9 256.0,208.0 C259.2,206.1 262.8,204.0 264.2,203.2" fill="none" stroke="#e4e4e4" stroke-width="2.3" stroke-linecap="round" stroke-linejoin="round" stroke-opacity="0.95" filter="url(#bl4)"/>
</g></g>
<g clip-path="url(#cd2)">
<rect x="304.00" y="175.00" width="83.30" height="69.40" fill="#121212" stroke="none" stroke-width="0.8" />
<rect x="304.00" y="175.00" width="83.30" height="69.40" fill="#000" stroke="none" stroke-width="0.8" filter="url(#nzg)" opacity="0.4"/>
<g transform="translate(85.1,0)">
<path d="M218.0,188.0 C218.7,187.2 220.6,184.9 222.0,183.5 C223.4,182.1 224.1,180.8 226.2,179.4 C228.2,178.1 232.3,176.5 234.3,175.4 C236.3,174.3 237.4,173.4 238.0,173.0" fill="none" stroke="#333" stroke-width="8.32" stroke-linecap="round" stroke-linejoin="round" stroke-opacity="0.9" filter="url(#bl1)"/>
<path d="M218.0,188.0 C218.7,187.2 220.6,184.9 222.0,183.5 C223.4,182.1 224.1,180.8 226.2,179.4 C228.2,178.1 232.3,176.5 234.3,175.4 C236.3,174.3 237.4,173.4 238.0,173.0" fill="none" stroke="#505050" stroke-width="3.2" stroke-linecap="round" stroke-linejoin="round" stroke-opacity="0.9" filter="url(#bl4)"/>
<path d="M218.0,203.4 C218.7,203.2 219.7,203.1 222.0,202.5 C224.3,201.9 227.7,200.4 231.6,199.8 C235.5,199.2 241.8,198.9 245.2,199.1 C248.6,199.3 249.1,200.5 252.0,201.2 C254.9,201.9 259.4,203.1 262.8,203.2 C266.2,203.3 268.5,202.1 272.3,201.9 C276.1,201.7 280.8,201.7 285.9,201.9 C291.0,202.2 300.1,203.2 303.0,203.4" fill="none" stroke="#7a7a7a" stroke-width="5.9799999999999995" stroke-linecap="round" stroke-linejoin="round" stroke-opacity="0.95" filter="url(#bl1)"/>
<path d="M218.0,203.4 C218.7,203.2 219.7,203.1 222.0,202.5 C224.3,201.9 227.7,200.4 231.6,199.8 C235.5,199.2 241.8,198.9 245.2,199.1 C248.6,199.3 249.1,200.5 252.0,201.2 C254.9,201.9 259.4,203.1 262.8,203.2 C266.2,203.3 268.5,202.1 272.3,201.9 C276.1,201.7 280.8,201.7 285.9,201.9 C291.0,202.2 300.1,203.2 303.0,203.4" fill="none" stroke="#e8e8e8" stroke-width="2.3" stroke-linecap="round" stroke-linejoin="round" stroke-opacity="0.95" filter="url(#bl4)"/>
<path d="M218.0,226.0 C220.3,225.2 227.1,222.8 231.6,220.9 C236.1,219.0 241.1,217.0 245.2,214.8 C249.3,212.7 252.8,209.9 256.0,208.0 C259.2,206.1 262.8,204.0 264.2,203.2" fill="none" stroke="#7a7a7a" stroke-width="5.9799999999999995" stroke-linecap="round" stroke-linejoin="round" stroke-opacity="0.95" filter="url(#bl1)"/>
<path d="M218.0,226.0 C220.3,225.2 227.1,222.8 231.6,220.9 C236.1,219.0 241.1,217.0 245.2,214.8 C249.3,212.7 252.8,209.9 256.0,208.0 C259.2,206.1 262.8,204.0 264.2,203.2" fill="none" stroke="#e4e4e4" stroke-width="2.3" stroke-linecap="round" stroke-linejoin="round" stroke-opacity="0.95" filter="url(#bl4)"/>
</g></g>
<circle cx="252.5" cy="201.8" r="1.7" fill="#f4f4f4" filter="url(#bl4)"/>
<circle cx="337.6" cy="201.8" r="1.7" fill="#f4f4f4" filter="url(#bl4)"/>
<g clip-path="url(#cd3)">
<rect x="218.50" y="260.60" width="85.00" height="70.80" fill="#040404" stroke="none" stroke-width="0.8" />
<rect x="218.50" y="260.60" width="85.00" height="70.80" fill="#000" stroke="none" stroke-width="0.8" filter="url(#nzg)" opacity="0.4"/>
<g transform="translate(0,0)">
<path d="M218.0,297.3 C221.7,297.3 233.0,297.2 240.0,297.2 C247.0,297.2 253.3,297.1 260.0,297.1 C266.7,297.1 272.7,297.0 280.0,297.0 C287.3,297.0 300.0,296.9 304.0,296.9" fill="none" stroke="#6a6a6a" stroke-width="5.9799999999999995" stroke-linecap="round" stroke-linejoin="round" stroke-opacity="0.95" filter="url(#bl1)"/>
<path d="M218.0,297.3 C221.7,297.3 233.0,297.2 240.0,297.2 C247.0,297.2 253.3,297.1 260.0,297.1 C266.7,297.1 272.7,297.0 280.0,297.0 C287.3,297.0 300.0,296.9 304.0,296.9" fill="none" stroke="#d8d8d8" stroke-width="2.3" stroke-linecap="round" stroke-linejoin="round" stroke-opacity="0.95" filter="url(#bl4)"/>
<path d="M218.0,291.5 C220.3,291.7 227.3,292.0 232.0,292.5 C236.7,293.0 241.7,293.8 246.0,294.5 C250.3,295.2 256.0,296.2 258.0,296.5" fill="none" stroke="#2a2a2a" stroke-width="3.3800000000000003" stroke-linecap="round" stroke-linejoin="round" stroke-opacity="0.8" filter="url(#bl1)"/>
<path d="M218.0,291.5 C220.3,291.7 227.3,292.0 232.0,292.5 C236.7,293.0 241.7,293.8 246.0,294.5 C250.3,295.2 256.0,296.2 258.0,296.5" fill="none" stroke="#6a6a6a" stroke-width="1.3" stroke-linecap="round" stroke-linejoin="round" stroke-opacity="0.8" filter="url(#bl4)"/>
<path d="M218.0,285.2 C220.4,285.7 227.5,287.0 232.3,288.1 C237.1,289.2 241.9,290.6 246.7,291.7 C251.5,292.8 257.1,293.8 261.0,294.5 C264.9,295.2 268.5,295.8 270.0,296.0" fill="none" stroke="#4a4a4a" stroke-width="5.720000000000001" stroke-linecap="round" stroke-linejoin="round" stroke-opacity="0.9" filter="url(#bl1)"/>
<path d="M218.0,285.2 C220.4,285.7 227.5,287.0 232.3,288.1 C237.1,289.2 241.9,290.6 246.7,291.7 C251.5,292.8 257.1,293.8 261.0,294.5 C264.9,295.2 268.5,295.8 270.0,296.0" fill="none" stroke="#a0a0a0" stroke-width="2.2" stroke-linecap="round" stroke-linejoin="round" stroke-opacity="0.9" filter="url(#bl4)"/>
</g></g>
<g clip-path="url(#cd4)">
<rect x="305.00" y="260.60" width="81.70" height="70.80" fill="#040404" stroke="none" stroke-width="0.8" />
<rect x="305.00" y="260.60" width="81.70" height="70.80" fill="#000" stroke="none" stroke-width="0.8" filter="url(#nzg)" opacity="0.4"/>
<g transform="translate(86.5,0)">
<path d="M218.0,297.3 C221.7,297.3 233.0,297.2 240.0,297.2 C247.0,297.2 253.3,297.1 260.0,297.1 C266.7,297.1 272.7,297.0 280.0,297.0 C287.3,297.0 300.0,296.9 304.0,296.9" fill="none" stroke="#6a6a6a" stroke-width="5.9799999999999995" stroke-linecap="round" stroke-linejoin="round" stroke-opacity="0.95" filter="url(#bl1)"/>
<path d="M218.0,297.3 C221.7,297.3 233.0,297.2 240.0,297.2 C247.0,297.2 253.3,297.1 260.0,297.1 C266.7,297.1 272.7,297.0 280.0,297.0 C287.3,297.0 300.0,296.9 304.0,296.9" fill="none" stroke="#d8d8d8" stroke-width="2.3" stroke-linecap="round" stroke-linejoin="round" stroke-opacity="0.95" filter="url(#bl4)"/>
<path d="M218.0,291.5 C220.3,291.7 227.3,292.0 232.0,292.5 C236.7,293.0 241.7,293.8 246.0,294.5 C250.3,295.2 256.0,296.2 258.0,296.5" fill="none" stroke="#2a2a2a" stroke-width="3.3800000000000003" stroke-linecap="round" stroke-linejoin="round" stroke-opacity="0.8" filter="url(#bl1)"/>
<path d="M218.0,291.5 C220.3,291.7 227.3,292.0 232.0,292.5 C236.7,293.0 241.7,293.8 246.0,294.5 C250.3,295.2 256.0,296.2 258.0,296.5" fill="none" stroke="#6a6a6a" stroke-width="1.3" stroke-linecap="round" stroke-linejoin="round" stroke-opacity="0.8" filter="url(#bl4)"/>
<path d="M218.0,285.2 C220.4,285.7 227.5,287.0 232.3,288.1 C237.1,289.2 241.9,290.6 246.7,291.7 C251.5,292.8 257.1,293.8 261.0,294.5 C264.9,295.2 268.5,295.8 270.0,296.0" fill="none" stroke="#4a4a4a" stroke-width="5.720000000000001" stroke-linecap="round" stroke-linejoin="round" stroke-opacity="0.9" filter="url(#bl1)"/>
<path d="M218.0,285.2 C220.4,285.7 227.5,287.0 232.3,288.1 C237.1,289.2 241.9,290.6 246.7,291.7 C251.5,292.8 257.1,293.8 261.0,294.5 C264.9,295.2 268.5,295.8 270.0,296.0" fill="none" stroke="#a0a0a0" stroke-width="2.2" stroke-linecap="round" stroke-linejoin="round" stroke-opacity="0.9" filter="url(#bl4)"/>
</g></g>
<circle cx="283.8" cy="297.1" r="1.4" fill="#fff" filter="url(#bl4)"/>
<path d="M319.8,219.2 L330.0,216.0 L340.2,210.9 L347.9,206.3" stroke="#18a838" stroke-width="2.2" fill="none" stroke-linecap="round"/>
<path d="M347.9,206.3 L352.0,204.2 L355.5,203.2" stroke="#2a9ae0" stroke-width="2.2" fill="none" stroke-linecap="round"/>
<path d="M356.8,202.7 L362.0,202.1 L368.3,201.9 L378.5,202.4 L386.5,203.9" stroke="#e81c28" stroke-width="2.2" fill="none" stroke-linecap="round"/>
<line x1="308.30" y1="297.10" x2="335.10" y2="297.10" stroke="#18a838" stroke-width="2.2" />
<line x1="335.10" y1="297.10" x2="355.50" y2="297.10" stroke="#2a9ae0" stroke-width="2.2" />
<line x1="355.50" y1="297.10" x2="371.40" y2="297.10" stroke="#e81c28" stroke-width="2.2" />
<line x1="220.10" y1="242.30" x2="234.90" y2="242.30" stroke="#fff" stroke-width="1.3" />
<line x1="220.10" y1="329.10" x2="234.90" y2="329.10" stroke="#fff" stroke-width="1.3" />
<text x="275.60" y="193.00" font-size="9.5" text-anchor="start" fill="#f0f0f0" >Cell 2</text>
<text x="275.60" y="217.30" font-size="9.5" text-anchor="start" fill="#f0f0f0" >Cell 1</text>
<text x="278.40" y="287.00" font-size="9.5" text-anchor="start" fill="#f0f0f0" >Cell 4</text>
<text x="278.90" y="307.40" font-size="9.5" text-anchor="start" fill="#f0f0f0" >Cell 3</text>
<text x="386.30" y="309.80" font-size="9.5" text-anchor="end" fill="#22b040" >Single-cell segment</text>
<text x="385.00" y="320.20" font-size="9.5" text-anchor="end" fill="#5a8cf0" >Transition zone</text>
<text x="386.30" y="330.50" font-size="9.5" text-anchor="end" fill="#f07868" >Cell-cell contact</text>
<rect x="452.10" y="173.70" width="5.80" height="52.70" fill="#d2d3f8" stroke="none" stroke-width="0.8" />
<line x1="416.30" y1="173.70" x2="416.30" y2="226.40" stroke="#222" stroke-width="0.9" />
<line x1="416.30" y1="226.40" x2="493.20" y2="226.40" stroke="#222" stroke-width="0.9" />
<line x1="414.50" y1="226.00" x2="416.30" y2="226.00" stroke="#222" stroke-width="0.8" />
<text x="413.10" y="229.40" font-size="9.5" text-anchor="end" fill="#000" >0.5</text>
<line x1="414.50" y1="214.80" x2="416.30" y2="214.80" stroke="#222" stroke-width="0.8" />
<text x="413.10" y="218.20" font-size="9.5" text-anchor="end" fill="#000" >1.0</text>
<line x1="414.50" y1="203.60" x2="416.30" y2="203.60" stroke="#222" stroke-width="0.8" />
<text x="413.10" y="207.00" font-size="9.5" text-anchor="end" fill="#000" >1.5</text>
<line x1="414.50" y1="192.40" x2="416.30" y2="192.40" stroke="#222" stroke-width="0.8" />
<text x="413.10" y="195.80" font-size="9.5" text-anchor="end" fill="#000" >2.0</text>
<line x1="414.50" y1="181.20" x2="416.30" y2="181.20" stroke="#222" stroke-width="0.8" />
<text x="413.10" y="184.60" font-size="9.5" text-anchor="end" fill="#000" >2.5</text>
<line x1="416.40" y1="226.40" x2="416.40" y2="228.20" stroke="#222" stroke-width="0.8" />
<text x="417.20" y="238.60" font-size="9.5" text-anchor="middle" fill="#000" >0.0</text>
<line x1="433.80" y1="226.40" x2="433.80" y2="228.20" stroke="#222" stroke-width="0.8" />
<text x="434.60" y="238.60" font-size="9.5" text-anchor="middle" fill="#000" >2.5</text>
<line x1="451.20" y1="226.40" x2="451.20" y2="228.20" stroke="#222" stroke-width="0.8" />
<text x="452.00" y="238.60" font-size="9.5" text-anchor="middle" fill="#000" >5.0</text>
<line x1="468.60" y1="226.40" x2="468.60" y2="228.20" stroke="#222" stroke-width="0.8" />
<text x="469.40" y="238.60" font-size="9.5" text-anchor="middle" fill="#000" >7.5</text>
<line x1="486.00" y1="226.40" x2="486.00" y2="228.20" stroke="#222" stroke-width="0.8" />
<text x="486.80" y="238.60" font-size="9.5" text-anchor="middle" fill="#000" >10</text>
<path d="M420.2,213.6 L421.9,215.3 L423.6,217.8 L425.3,217.0 L427.0,212.7 L428.7,211.0 L430.4,210.2 L432.1,209.3 L433.8,211.0 L435.5,213.6 L437.2,215.3 L438.9,217.8 L440.6,220.4 L442.3,218.7 L444.0,214.4 L445.7,213.6 L447.4,211.0 L449.1,207.6 L450.8,205.9" stroke="#1db83a" stroke-width="1.7" fill="none" stroke-linejoin="round"/>
<circle cx="420.2" cy="213.6" r="1.55" fill="#1db83a"/>
<circle cx="421.9" cy="215.3" r="1.55" fill="#1db83a"/>
<circle cx="423.6" cy="217.8" r="1.55" fill="#1db83a"/>
<circle cx="425.3" cy="217.0" r="1.55" fill="#1db83a"/>
<circle cx="427.0" cy="212.7" r="1.55" fill="#1db83a"/>
<circle cx="428.7" cy="211.0" r="1.55" fill="#1db83a"/>
<circle cx="430.4" cy="210.2" r="1.55" fill="#1db83a"/>
<circle cx="432.1" cy="209.3" r="1.55" fill="#1db83a"/>
<circle cx="433.8" cy="211.0" r="1.55" fill="#1db83a"/>
<circle cx="435.5" cy="213.6" r="1.55" fill="#1db83a"/>
<circle cx="437.2" cy="215.3" r="1.55" fill="#1db83a"/>
<circle cx="438.9" cy="217.8" r="1.55" fill="#1db83a"/>
<circle cx="440.6" cy="220.4" r="1.55" fill="#1db83a"/>
<circle cx="442.3" cy="218.7" r="1.55" fill="#1db83a"/>
<circle cx="444.0" cy="214.4" r="1.55" fill="#1db83a"/>
<circle cx="445.7" cy="213.6" r="1.55" fill="#1db83a"/>
<circle cx="447.4" cy="211.0" r="1.55" fill="#1db83a"/>
<circle cx="449.1" cy="207.6" r="1.55" fill="#1db83a"/>
<circle cx="450.8" cy="205.9" r="1.55" fill="#1db83a"/>
<path d="M450.8,205.9 L451.6,211.9 L453.3,213.6 L455.0,214.4 L456.7,213.6 L458.4,210.2" stroke="#5a8ff0" stroke-width="1.7" fill="none" stroke-linejoin="round"/>
<circle cx="450.8" cy="205.9" r="1.55" fill="#5a8ff0"/>
<circle cx="451.6" cy="211.9" r="1.55" fill="#5a8ff0"/>
<circle cx="453.3" cy="213.6" r="1.55" fill="#5a8ff0"/>
<circle cx="455.0" cy="214.4" r="1.55" fill="#5a8ff0"/>
<circle cx="456.7" cy="213.6" r="1.55" fill="#5a8ff0"/>
<circle cx="458.4" cy="210.2" r="1.55" fill="#5a8ff0"/>
<path d="M459.2,203.4 L460.9,204.2 L462.6,203.4 L464.3,205.1 L466.0,209.3 L467.7,210.2 L469.4,209.3 L471.1,211.0 L472.8,210.2 L474.5,212.7 L476.2,211.9 L477.9,211.0 L479.6,209.3 L481.3,205.9 L483.0,209.3 L484.7,211.0 L486.4,213.6 L488.1,214.4 L490.7,215.3" stroke="#f07a70" stroke-width="1.7" fill="none" stroke-linejoin="round"/>
<circle cx="459.2" cy="203.4" r="1.55" fill="#f07a70"/>
<circle cx="460.9" cy="204.2" r="1.55" fill="#f07a70"/>
<circle cx="462.6" cy="203.4" r="1.55" fill="#f07a70"/>
<circle cx="464.3" cy="205.1" r="1.55" fill="#f07a70"/>
<circle cx="466.0" cy="209.3" r="1.55" fill="#f07a70"/>
<circle cx="467.7" cy="210.2" r="1.55" fill="#f07a70"/>
<circle cx="469.4" cy="209.3" r="1.55" fill="#f07a70"/>
<circle cx="471.1" cy="211.0" r="1.55" fill="#f07a70"/>
<circle cx="472.8" cy="210.2" r="1.55" fill="#f07a70"/>
<circle cx="474.5" cy="212.7" r="1.55" fill="#f07a70"/>
<circle cx="476.2" cy="211.9" r="1.55" fill="#f07a70"/>
<circle cx="477.9" cy="211.0" r="1.55" fill="#f07a70"/>
<circle cx="479.6" cy="209.3" r="1.55" fill="#f07a70"/>
<circle cx="481.3" cy="205.9" r="1.55" fill="#f07a70"/>
<circle cx="483.0" cy="209.3" r="1.55" fill="#f07a70"/>
<circle cx="484.7" cy="211.0" r="1.55" fill="#f07a70"/>
<circle cx="486.4" cy="213.6" r="1.55" fill="#f07a70"/>
<circle cx="488.1" cy="214.4" r="1.55" fill="#f07a70"/>
<circle cx="490.7" cy="215.3" r="1.55" fill="#f07a70"/>
<text x="418.00" y="224.60" font-size="9.5" text-anchor="start" fill="#000" >Cell 1</text>
<text x="458.60" y="224.20" font-size="9.5" text-anchor="start" fill="#000" >Cells 1+2</text>
<text x="443.80" y="190.20" font-size="9.5" text-anchor="start" fill="#000" >1.05 µm</text>
<rect x="443.10" y="258.00" width="22.90" height="52.80" fill="#d2d3f8" stroke="none" stroke-width="0.8" />
<line x1="416.80" y1="258.00" x2="416.80" y2="310.80" stroke="#222" stroke-width="0.9" />
<line x1="416.80" y1="310.80" x2="493.50" y2="310.80" stroke="#222" stroke-width="0.9" />
<line x1="415.00" y1="310.20" x2="416.80" y2="310.20" stroke="#222" stroke-width="0.8" />
<text x="413.60" y="313.60" font-size="9.5" text-anchor="end" fill="#000" >0.5</text>
<line x1="415.00" y1="299.00" x2="416.80" y2="299.00" stroke="#222" stroke-width="0.8" />
<text x="413.60" y="302.40" font-size="9.5" text-anchor="end" fill="#000" >1.0</text>
<line x1="415.00" y1="287.80" x2="416.80" y2="287.80" stroke="#222" stroke-width="0.8" />
<text x="413.60" y="291.20" font-size="9.5" text-anchor="end" fill="#000" >1.5</text>
<line x1="415.00" y1="276.60" x2="416.80" y2="276.60" stroke="#222" stroke-width="0.8" />
<text x="413.60" y="280.00" font-size="9.5" text-anchor="end" fill="#000" >2.0</text>
<line x1="415.00" y1="265.40" x2="416.80" y2="265.40" stroke="#222" stroke-width="0.8" />
<text x="413.60" y="268.80" font-size="9.5" text-anchor="end" fill="#000" >2.5</text>
<line x1="419.40" y1="310.80" x2="419.40" y2="312.60" stroke="#222" stroke-width="0.8" />
<text x="420.20" y="323.30" font-size="9.5" text-anchor="middle" fill="#000" >0.0</text>
<line x1="436.90" y1="310.80" x2="436.90" y2="312.60" stroke="#222" stroke-width="0.8" />
<text x="437.70" y="323.30" font-size="9.5" text-anchor="middle" fill="#000" >2.5</text>
<line x1="454.40" y1="310.80" x2="454.40" y2="312.60" stroke="#222" stroke-width="0.8" />
<text x="455.20" y="323.30" font-size="9.5" text-anchor="middle" fill="#000" >5.0</text>
<line x1="471.90" y1="310.80" x2="471.90" y2="312.60" stroke="#222" stroke-width="0.8" />
<text x="472.70" y="323.30" font-size="9.5" text-anchor="middle" fill="#000" >7.5</text>
<line x1="489.40" y1="310.80" x2="489.40" y2="312.60" stroke="#222" stroke-width="0.8" />
<text x="490.20" y="323.30" font-size="9.5" text-anchor="middle" fill="#000" >10</text>
<path d="M419.3,299.5 L421.0,298.7 L423.6,297.8 L425.3,298.7 L427.0,296.1 L428.7,295.3 L430.4,293.6 L431.7,292.7 L432.9,298.7 L434.6,300.4 L436.3,298.7 L438.0,296.1 L439.7,295.3 L441.4,298.7" stroke="#1db83a" stroke-width="1.7" fill="none" stroke-linejoin="round"/>
<circle cx="419.3" cy="299.5" r="1.55" fill="#1db83a"/>
<circle cx="421.0" cy="298.7" r="1.55" fill="#1db83a"/>
<circle cx="423.6" cy="297.8" r="1.55" fill="#1db83a"/>
<circle cx="425.3" cy="298.7" r="1.55" fill="#1db83a"/>
<circle cx="427.0" cy="296.1" r="1.55" fill="#1db83a"/>
<circle cx="428.7" cy="295.3" r="1.55" fill="#1db83a"/>
<circle cx="430.4" cy="293.6" r="1.55" fill="#1db83a"/>
<circle cx="431.7" cy="292.7" r="1.55" fill="#1db83a"/>
<circle cx="432.9" cy="298.7" r="1.55" fill="#1db83a"/>
<circle cx="434.6" cy="300.4" r="1.55" fill="#1db83a"/>
<circle cx="436.3" cy="298.7" r="1.55" fill="#1db83a"/>
<circle cx="438.0" cy="296.1" r="1.55" fill="#1db83a"/>
<circle cx="439.7" cy="295.3" r="1.55" fill="#1db83a"/>
<circle cx="441.4" cy="298.7" r="1.55" fill="#1db83a"/>
<path d="M441.4,298.7 L443.1,295.3 L444.8,292.7 L446.5,290.2 L447.4,284.2 L449.1,280.8 L450.8,288.5 L453.3,289.3 L455.0,290.2 L456.7,291.0 L458.4,284.2 L460.1,280.0 L461.8,280.8 L463.5,285.9 L465.2,279.2 L466.9,275.8 L467.7,270.7" stroke="#5a8ff0" stroke-width="1.7" fill="none" stroke-linejoin="round"/>
<circle cx="441.4" cy="298.7" r="1.55" fill="#5a8ff0"/>
<circle cx="443.1" cy="295.3" r="1.55" fill="#5a8ff0"/>
<circle cx="444.8" cy="292.7" r="1.55" fill="#5a8ff0"/>
<circle cx="446.5" cy="290.2" r="1.55" fill="#5a8ff0"/>
<circle cx="447.4" cy="284.2" r="1.55" fill="#5a8ff0"/>
<circle cx="449.1" cy="280.8" r="1.55" fill="#5a8ff0"/>
<circle cx="450.8" cy="288.5" r="1.55" fill="#5a8ff0"/>
<circle cx="453.3" cy="289.3" r="1.55" fill="#5a8ff0"/>
<circle cx="455.0" cy="290.2" r="1.55" fill="#5a8ff0"/>
<circle cx="456.7" cy="291.0" r="1.55" fill="#5a8ff0"/>
<circle cx="458.4" cy="284.2" r="1.55" fill="#5a8ff0"/>
<circle cx="460.1" cy="280.0" r="1.55" fill="#5a8ff0"/>
<circle cx="461.8" cy="280.8" r="1.55" fill="#5a8ff0"/>
<circle cx="463.5" cy="285.9" r="1.55" fill="#5a8ff0"/>
<circle cx="465.2" cy="279.2" r="1.55" fill="#5a8ff0"/>
<circle cx="466.9" cy="275.8" r="1.55" fill="#5a8ff0"/>
<circle cx="467.7" cy="270.7" r="1.55" fill="#5a8ff0"/>
<path d="M468.6,268.1 L470.3,270.7 L472.8,271.5 L474.5,273.2 L477.1,273.2 L478.8,270.7 L481.3,272.4 L483.9,272.4 L486.4,271.5 L488.1,265.6 L489.8,263.9" stroke="#f07a70" stroke-width="1.7" fill="none" stroke-linejoin="round"/>
<circle cx="468.6" cy="268.1" r="1.55" fill="#f07a70"/>
<circle cx="470.3" cy="270.7" r="1.55" fill="#f07a70"/>
<circle cx="472.8" cy="271.5" r="1.55" fill="#f07a70"/>
<circle cx="474.5" cy="273.2" r="1.55" fill="#f07a70"/>
<circle cx="477.1" cy="273.2" r="1.55" fill="#f07a70"/>
<circle cx="478.8" cy="270.7" r="1.55" fill="#f07a70"/>
<circle cx="481.3" cy="272.4" r="1.55" fill="#f07a70"/>
<circle cx="483.9" cy="272.4" r="1.55" fill="#f07a70"/>
<circle cx="486.4" cy="271.5" r="1.55" fill="#f07a70"/>
<circle cx="488.1" cy="265.6" r="1.55" fill="#f07a70"/>
<circle cx="489.8" cy="263.9" r="1.55" fill="#f07a70"/>
<text x="419.00" y="308.90" font-size="9.5" text-anchor="start" fill="#000" >Cell 3</text>
<text x="462.20" y="307.80" font-size="9.5" text-anchor="start" fill="#000" >Cells 3+4</text>
<text x="442.40" y="268.20" font-size="9.5" text-anchor="start" fill="#000" >3.57 µm</text>
<text x="397.20" y="210.40" font-size="9.5" text-anchor="middle" fill="#000" transform="rotate(-90 397.2 210.4)" >GCX enrichment</text>
<text x="397.20" y="296.00" font-size="9.5" text-anchor="middle" fill="#000" transform="rotate(-90 397.2 296)" >GCX enrichment</text>
<text x="461.70" y="336.00" font-size="9.5" text-anchor="middle" fill="#000" >Distance (µm)</text>
<path d="M561.3,214.2 L563.4,213.6 L565.5,213.0 L567.6,212.4 L569.7,211.8 L571.8,211.2 L573.9,210.6 L576.0,210.0 L578.1,209.3 L580.2,208.6 L582.3,207.9 L584.4,207.2 L586.5,206.5 L588.6,205.7 L590.7,204.8 L592.8,203.9 L594.9,203.0 L597.0,201.9 L599.1,200.8 L601.2,199.6 L603.3,198.4 L605.5,197.0 L607.6,195.6 L609.7,194.2 L611.8,192.7 L613.9,191.2 L616.0,189.6 L618.1,188.1 L620.2,186.5 L622.3,184.9 L624.4,183.3 L626.5,181.7 L628.6,180.0 L630.7,178.4 L632.8,176.8 L634.9,175.1 L637.0,173.5 L639.1,171.8 L641.2,170.2 L643.3,168.5 L645.4,166.9 L645.4,193.7 L643.3,194.3 L641.2,194.9 L639.1,195.4 L637.0,196.0 L634.9,196.6 L632.8,197.2 L630.7,197.8 L628.6,198.4 L626.5,199.0 L624.4,199.6 L622.3,200.2 L620.2,200.9 L618.1,201.5 L616.0,202.2 L613.9,202.9 L611.8,203.6 L609.7,204.3 L607.6,205.1 L605.5,206.0 L603.3,206.9 L601.2,207.8 L599.1,208.9 L597.0,210.0 L594.9,211.2 L592.8,212.4 L590.7,213.8 L588.6,215.1 L586.5,216.6 L584.4,218.1 L582.3,219.6 L580.2,221.1 L578.1,222.7 L576.0,224.3 L573.9,225.9 L571.8,227.5 L569.7,229.1 L567.6,230.7 L565.5,232.3 L563.4,234.0 L561.3,235.6" stroke="none" stroke-width="0" fill="#d4d4d4" />
<rect x="561.14" y="227.93" width="1.50" height="1.50" fill="#444" stroke="none" stroke-width="0.8" />
<rect x="572.46" y="222.83" width="1.50" height="1.50" fill="#444" stroke="none" stroke-width="0.8" />
<rect x="578.12" y="195.48" width="1.50" height="1.50" fill="#444" stroke="none" stroke-width="0.8" />
<rect x="578.12" y="210.95" width="1.50" height="1.50" fill="#444" stroke="none" stroke-width="0.8" />
<rect x="583.78" y="214.34" width="1.50" height="1.50" fill="#444" stroke="none" stroke-width="0.8" />
<rect x="588.87" y="204.34" width="1.50" height="1.50" fill="#444" stroke="none" stroke-width="0.8" />
<rect x="588.87" y="206.80" width="1.50" height="1.50" fill="#444" stroke="none" stroke-width="0.8" />
<rect x="588.87" y="215.29" width="1.50" height="1.50" fill="#444" stroke="none" stroke-width="0.8" />
<rect x="595.10" y="186.42" width="1.50" height="1.50" fill="#444" stroke="none" stroke-width="0.8" />
<rect x="595.10" y="216.61" width="1.50" height="1.50" fill="#444" stroke="none" stroke-width="0.8" />
<rect x="595.10" y="221.33" width="1.50" height="1.50" fill="#444" stroke="none" stroke-width="0.8" />
<rect x="617.27" y="168.12" width="1.50" height="1.50" fill="#444" stroke="none" stroke-width="0.8" />
<rect x="617.27" y="178.12" width="1.50" height="1.50" fill="#444" stroke="none" stroke-width="0.8" />
<rect x="595.00" y="186.42" width="1.50" height="1.50" fill="#444" stroke="none" stroke-width="0.8" />
<rect x="606.51" y="191.14" width="1.50" height="1.50" fill="#444" stroke="none" stroke-width="0.8" />
<rect x="606.51" y="193.02" width="1.50" height="1.50" fill="#444" stroke="none" stroke-width="0.8" />
<rect x="600.29" y="196.99" width="1.50" height="1.50" fill="#444" stroke="none" stroke-width="0.8" />
<rect x="645.57" y="186.04" width="1.50" height="1.50" fill="#444" stroke="none" stroke-width="0.8" />
<rect x="588.97" y="203.97" width="1.50" height="1.50" fill="#444" stroke="none" stroke-width="0.8" />
<rect x="588.97" y="205.85" width="1.50" height="1.50" fill="#444" stroke="none" stroke-width="0.8" />
<rect x="588.97" y="215.29" width="1.50" height="1.50" fill="#444" stroke="none" stroke-width="0.8" />
<rect x="611.61" y="210.57" width="1.50" height="1.50" fill="#444" stroke="none" stroke-width="0.8" />
<rect x="622.93" y="210.00" width="1.50" height="1.50" fill="#444" stroke="none" stroke-width="0.8" />
<rect x="595.00" y="216.61" width="1.50" height="1.50" fill="#444" stroke="none" stroke-width="0.8" />
<rect x="606.33" y="216.23" width="1.50" height="1.50" fill="#444" stroke="none" stroke-width="0.8" />
<rect x="595.00" y="221.33" width="1.50" height="1.50" fill="#444" stroke="none" stroke-width="0.8" />
<line x1="550.60" y1="230.60" x2="671.20" y2="166.60" stroke="#111" stroke-width="1.0" />
<line x1="544.70" y1="161.70" x2="544.70" y2="238.60" stroke="#222" stroke-width="0.9" />
<line x1="544.70" y1="238.60" x2="677.50" y2="238.60" stroke="#222" stroke-width="0.9" />
<line x1="542.90" y1="234.30" x2="544.70" y2="234.30" stroke="#222" stroke-width="0.8" />
<text x="540.60" y="237.90" font-size="10" text-anchor="end" fill="#000" >1.0</text>
<line x1="542.90" y1="214.20" x2="544.70" y2="214.20" stroke="#222" stroke-width="0.8" />
<text x="540.60" y="217.80" font-size="10" text-anchor="end" fill="#000" >1.5</text>
<line x1="542.90" y1="194.10" x2="544.70" y2="194.10" stroke="#222" stroke-width="0.8" />
<text x="540.60" y="197.70" font-size="10" text-anchor="end" fill="#000" >2.0</text>
<line x1="542.90" y1="174.00" x2="544.70" y2="174.00" stroke="#222" stroke-width="0.8" />
<text x="540.60" y="177.60" font-size="10" text-anchor="end" fill="#000" >2.5</text>
<line x1="551.60" y1="238.60" x2="551.60" y2="240.40" stroke="#222" stroke-width="0.8" />
<line x1="578.20" y1="238.60" x2="578.20" y2="240.40" stroke="#222" stroke-width="0.8" />
<line x1="604.80" y1="238.60" x2="604.80" y2="240.40" stroke="#222" stroke-width="0.8" />
<line x1="631.40" y1="238.60" x2="631.40" y2="240.40" stroke="#222" stroke-width="0.8" />
<line x1="658.00" y1="238.60" x2="658.00" y2="240.40" stroke="#222" stroke-width="0.8" />
<rect x="549.60" y="161.70" width="28.30" height="14.10" fill="#fff" stroke="#222" stroke-width="0.9" />
<text x="563.75" y="172.20" font-size="9.5" text-anchor="middle" fill="#000" >Fixed</text>
<text x="677.8" y="227.2" font-size="9.5" text-anchor="end">R<tspan font-size="6" dy="-3.5">2</tspan><tspan dy="3.5">= 0.71</tspan></text>
<text x="677.80" y="235.20" font-size="9.5" text-anchor="end" fill="#000" >P.adj= 1.1e−03</text>
<path d="M551.6,307.5 L554.6,306.6 L557.6,305.7 L560.6,304.8 L563.6,303.9 L566.6,302.9 L569.6,302.0 L572.6,301.0 L575.6,300.0 L578.6,298.9 L581.6,297.9 L584.6,296.8 L587.6,295.6 L590.6,294.5 L593.6,293.3 L596.6,292.1 L599.6,290.9 L602.6,289.6 L605.6,288.3 L608.6,287.0 L611.7,285.7 L614.7,284.4 L617.7,283.1 L620.7,281.8 L623.7,280.4 L626.7,279.1 L629.7,277.7 L632.7,276.3 L635.7,275.0 L638.7,273.6 L641.7,272.2 L644.7,270.8 L647.7,269.5 L650.7,268.1 L653.7,266.7 L656.7,265.3 L659.7,263.9 L662.7,262.5 L665.7,261.1 L668.7,259.7 L671.7,258.3 L671.7,276.7 L668.7,277.5 L665.7,278.3 L662.7,279.2 L659.7,280.0 L656.7,280.8 L653.7,281.7 L650.7,282.5 L647.7,283.3 L644.7,284.2 L641.7,285.0 L638.7,285.9 L635.7,286.7 L632.7,287.6 L629.7,288.5 L626.7,289.3 L623.7,290.2 L620.7,291.1 L617.7,292.0 L614.7,292.9 L611.7,293.8 L608.6,294.7 L605.6,295.6 L602.6,296.6 L599.6,297.5 L596.6,298.5 L593.6,299.5 L590.6,300.6 L587.6,301.7 L584.6,302.8 L581.6,303.9 L578.6,305.1 L575.6,306.2 L572.6,307.5 L569.6,308.7 L566.6,310.0 L563.6,311.2 L560.6,312.5 L557.6,313.8 L554.6,315.2 L551.6,316.5" stroke="none" stroke-width="0" fill="#d4d4d4" />
<rect x="557.24" y="312.28" width="1.50" height="1.50" fill="#444" stroke="none" stroke-width="0.8" />
<rect x="557.24" y="314.40" width="1.50" height="1.50" fill="#444" stroke="none" stroke-width="0.8" />
<rect x="557.24" y="315.46" width="1.50" height="1.50" fill="#444" stroke="none" stroke-width="0.8" />
<rect x="564.65" y="299.58" width="1.50" height="1.50" fill="#444" stroke="none" stroke-width="0.8" />
<rect x="564.65" y="302.76" width="1.50" height="1.50" fill="#444" stroke="none" stroke-width="0.8" />
<rect x="564.65" y="306.99" width="1.50" height="1.50" fill="#444" stroke="none" stroke-width="0.8" />
<rect x="564.65" y="309.11" width="1.50" height="1.50" fill="#444" stroke="none" stroke-width="0.8" />
<rect x="564.65" y="312.92" width="1.50" height="1.50" fill="#444" stroke="none" stroke-width="0.8" />
<rect x="571.00" y="293.23" width="1.50" height="1.50" fill="#444" stroke="none" stroke-width="0.8" />
<rect x="571.00" y="295.35" width="1.50" height="1.50" fill="#444" stroke="none" stroke-width="0.8" />
<rect x="571.00" y="310.16" width="1.50" height="1.50" fill="#444" stroke="none" stroke-width="0.8" />
<rect x="577.99" y="284.13" width="1.50" height="1.50" fill="#444" stroke="none" stroke-width="0.8" />
<rect x="577.99" y="292.17" width="1.50" height="1.50" fill="#444" stroke="none" stroke-width="0.8" />
<rect x="577.99" y="294.71" width="1.50" height="1.50" fill="#444" stroke="none" stroke-width="0.8" />
<rect x="577.99" y="298.52" width="1.50" height="1.50" fill="#444" stroke="none" stroke-width="0.8" />
<rect x="577.99" y="300.64" width="1.50" height="1.50" fill="#444" stroke="none" stroke-width="0.8" />
<rect x="577.99" y="310.16" width="1.50" height="1.50" fill="#444" stroke="none" stroke-width="0.8" />
<rect x="577.99" y="311.22" width="1.50" height="1.50" fill="#444" stroke="none" stroke-width="0.8" />
<rect x="584.76" y="290.05" width="1.50" height="1.50" fill="#444" stroke="none" stroke-width="0.8" />
<rect x="584.76" y="306.57" width="1.50" height="1.50" fill="#444" stroke="none" stroke-width="0.8" />
<rect x="591.75" y="284.34" width="1.50" height="1.50" fill="#444" stroke="none" stroke-width="0.8" />
<rect x="591.75" y="304.87" width="1.50" height="1.50" fill="#444" stroke="none" stroke-width="0.8" />
<rect x="591.75" y="306.57" width="1.50" height="1.50" fill="#444" stroke="none" stroke-width="0.8" />
<rect x="598.52" y="301.70" width="1.50" height="1.50" fill="#444" stroke="none" stroke-width="0.8" />
<rect x="598.52" y="302.76" width="1.50" height="1.50" fill="#444" stroke="none" stroke-width="0.8" />
<rect x="605.30" y="278.84" width="1.50" height="1.50" fill="#444" stroke="none" stroke-width="0.8" />
<rect x="605.30" y="284.13" width="1.50" height="1.50" fill="#444" stroke="none" stroke-width="0.8" />
<rect x="605.30" y="289.00" width="1.50" height="1.50" fill="#444" stroke="none" stroke-width="0.8" />
<rect x="605.30" y="299.16" width="1.50" height="1.50" fill="#444" stroke="none" stroke-width="0.8" />
<rect x="612.28" y="294.92" width="1.50" height="1.50" fill="#444" stroke="none" stroke-width="0.8" />
<rect x="625.62" y="276.29" width="1.50" height="1.50" fill="#444" stroke="none" stroke-width="0.8" />
<rect x="625.62" y="297.04" width="1.50" height="1.50" fill="#444" stroke="none" stroke-width="0.8" />
<rect x="632.39" y="251.95" width="1.50" height="1.50" fill="#444" stroke="none" stroke-width="0.8" />
<rect x="639.38" y="280.95" width="1.50" height="1.50" fill="#444" stroke="none" stroke-width="0.8" />
<rect x="646.15" y="279.05" width="1.50" height="1.50" fill="#444" stroke="none" stroke-width="0.8" />
<rect x="666.68" y="272.70" width="1.50" height="1.50" fill="#444" stroke="none" stroke-width="0.8" />
<rect x="605.30" y="306.57" width="1.50" height="1.50" fill="#444" stroke="none" stroke-width="0.8" />
<line x1="551.60" y1="312.00" x2="671.70" y2="267.50" stroke="#111" stroke-width="1.0" />
<line x1="545.30" y1="243.60" x2="545.30" y2="320.40" stroke="#222" stroke-width="0.9" />
<line x1="545.30" y1="320.40" x2="677.60" y2="320.40" stroke="#222" stroke-width="0.9" />
<line x1="543.50" y1="315.80" x2="545.30" y2="315.80" stroke="#222" stroke-width="0.8" />
<text x="541.20" y="319.40" font-size="10" text-anchor="end" fill="#000" >1.0</text>
<line x1="543.50" y1="295.60" x2="545.30" y2="295.60" stroke="#222" stroke-width="0.8" />
<text x="541.20" y="299.20" font-size="10" text-anchor="end" fill="#000" >1.5</text>
<line x1="543.50" y1="275.40" x2="545.30" y2="275.40" stroke="#222" stroke-width="0.8" />
<text x="541.20" y="279.00" font-size="10" text-anchor="end" fill="#000" >2.0</text>
<line x1="543.50" y1="255.20" x2="545.30" y2="255.20" stroke="#222" stroke-width="0.8" />
<text x="541.20" y="258.80" font-size="10" text-anchor="end" fill="#000" >2.5</text>
<line x1="551.60" y1="320.40" x2="551.60" y2="322.20" stroke="#222" stroke-width="0.8" />
<text x="551.60" y="330.40" font-size="9.5" text-anchor="middle" fill="#000" >0</text>
<line x1="578.20" y1="320.40" x2="578.20" y2="322.20" stroke="#222" stroke-width="0.8" />
<text x="578.20" y="330.40" font-size="9.5" text-anchor="middle" fill="#000" >1</text>
<line x1="604.80" y1="320.40" x2="604.80" y2="322.20" stroke="#222" stroke-width="0.8" />
<text x="604.80" y="330.40" font-size="9.5" text-anchor="middle" fill="#000" >2</text>
<line x1="631.40" y1="320.40" x2="631.40" y2="322.20" stroke="#222" stroke-width="0.8" />
<text x="631.40" y="330.40" font-size="9.5" text-anchor="middle" fill="#000" >3</text>
<line x1="658.00" y1="320.40" x2="658.00" y2="322.20" stroke="#222" stroke-width="0.8" />
<text x="658.00" y="330.40" font-size="9.5" text-anchor="middle" fill="#000" >4</text>
<rect x="550.60" y="245.50" width="28.60" height="14.10" fill="#fff" stroke="#222" stroke-width="0.9" />
<text x="564.90" y="256.00" font-size="9.5" text-anchor="middle" fill="#000" >Live</text>
<text x="674.6" y="303.2" font-size="9.5" text-anchor="end">R<tspan font-size="6" dy="-3.5">2</tspan><tspan dy="3.5">= 0.85</tspan></text>
<text x="674.60" y="314.30" font-size="9.5" text-anchor="end" fill="#000" >P.adj= 4.91e-08</text>
<text x="521.00" y="238.00" font-size="9.5" text-anchor="middle" fill="#000" transform="rotate(-90 521 238)" >Gcx enrichment factor</text>
<text x="612.60" y="339.50" font-size="9.5" text-anchor="middle" fill="#000" >Transition zone length (µm)</text>
<rect x="56.20" y="391.10" width="132.20" height="102.60" fill="#ccf9cc" stroke="none" stroke-width="0.8" />
<path d="M71.5,482.6 L108.0,457.9 L135.5,479.9 L172.1,468.1" stroke="#5b8ff0" stroke-width="0.6" fill="none" stroke-linejoin="round"/>
<path d="M81.5,482.0 L98.5,477.3 L119.7,482.9 L134.5,478.7 L151.5,469.2" stroke="#5b8ff0" stroke-width="0.6" fill="none" stroke-linejoin="round"/>
<path d="M61.6,470.5 L82.3,480.0 L97.8,460.3 L117.0,471.0 L137.3,460.5 L152.8,466.5" stroke="#5b8ff0" stroke-width="0.6" fill="none" stroke-linejoin="round"/>
<path d="M73.4,470.4 L86.4,441.3 L105.0,467.0 L117.3,470.8 L136.8,459.8 L153.6,470.4 L171.2,472.6" stroke="#5b8ff0" stroke-width="0.6" fill="none" stroke-linejoin="round"/>
<path d="M61.0,478.4 L89.1,483.3 L110.2,471.5 L129.7,478.3 L157.8,475.3" stroke="#5b8ff0" stroke-width="0.6" fill="none" stroke-linejoin="round"/>
<path d="M81.7,470.9 L99.1,469.9 L119.1,484.0 L141.1,463.7 L160.7,471.7 L178.5,472.9" stroke="#5b8ff0" stroke-width="0.6" fill="none" stroke-linejoin="round"/>
<path d="M71.5,478.0 L95.2,470.6 L117.1,489.1 L138.2,485.6 L157.8,489.1 L179.2,484.2" stroke="#5b8ff0" stroke-width="0.6" fill="none" stroke-linejoin="round"/>
<path d="M72.2,483.4 L94.5,463.5 L123.1,463.7 L148.9,477.9 L168.3,484.1" stroke="#5b8ff0" stroke-width="0.6" fill="none" stroke-linejoin="round"/>
<path d="M74.8,473.5 L103.3,483.5 L131.5,481.4 L151.7,459.5" stroke="#5b8ff0" stroke-width="0.6" fill="none" stroke-linejoin="round"/>
<path d="M72.4,469.9 L92.6,476.8 L106.5,481.7 L128.2,455.3 L140.2,461.8 L160.4,482.0 L178.6,489.1" stroke="#5b8ff0" stroke-width="0.6" fill="none" stroke-linejoin="round"/>
<path d="M72.4,477.6 L93.4,482.3 L108.9,474.7 L132.9,481.0 L153.0,474.1" stroke="#5b8ff0" stroke-width="0.6" fill="none" stroke-linejoin="round"/>
<path d="M68.8,476.1 L84.9,481.3 L112.3,476.9 L131.0,469.5 L155.6,470.7" stroke="#5b8ff0" stroke-width="0.6" fill="none" stroke-linejoin="round"/>
<path d="M77.7,464.9 L88.8,480.3 L108.5,482.1 L121.7,489.1 L137.5,458.4 L147.6,479.5 L168.8,469.9" stroke="#5b8ff0" stroke-width="0.6" fill="none" stroke-linejoin="round"/>
<path d="M75.6,459.2 L94.7,473.9 L117.6,472.4 L139.5,464.8 L159.0,453.4" stroke="#5b8ff0" stroke-width="0.6" fill="none" stroke-linejoin="round"/>
<path d="M69.3,473.5 L88.2,465.9 L109.5,482.2 L132.2,458.2 L156.2,467.8 L181.6,485.6" stroke="#5b8ff0" stroke-width="0.6" fill="none" stroke-linejoin="round"/>
<path d="M81.2,456.0 L101.1,476.9 L124.5,468.3 L145.5,477.7 L173.5,471.8" stroke="#5b8ff0" stroke-width="0.6" fill="none" stroke-linejoin="round"/>
<path d="M76.8,460.4 L98.6,405.9 L120.4,455.4 L138.3,467.3" stroke="#5b8ff0" stroke-width="0.6" fill="none" stroke-linejoin="round"/>
<path d="M84.7,446.5 L105.6,423.7 L120.4,449.5 L134.3,455.4" stroke="#5b8ff0" stroke-width="0.6" fill="none" stroke-linejoin="round"/>
<path d="M62.9,450.5 L84.7,435.6 L106.5,467.3 L120.4,473.3" stroke="#5b8ff0" stroke-width="0.6" fill="none" stroke-linejoin="round"/>
<path d="M84.7,435.6 L100.6,455.4 L120.4,461.4" stroke="#5b8ff0" stroke-width="0.6" fill="none" stroke-linejoin="round"/>
<path d="M106.5,465.3 L126.4,438.6 L138.3,469.3 L158.1,465.3" stroke="#5b8ff0" stroke-width="0.6" fill="none" stroke-linejoin="round"/>
<path d="M120.4,465.3 L141.2,432.6 L162.1,469.3" stroke="#5b8ff0" stroke-width="0.6" fill="none" stroke-linejoin="round"/>
<path d="M138.3,455.4 L155.1,436.6 L169.0,477.2" stroke="#5b8ff0" stroke-width="0.6" fill="none" stroke-linejoin="round"/>
<path d="M130.3,473.3 L155.1,442.5 L169.0,477.2" stroke="#5b8ff0" stroke-width="0.6" fill="none" stroke-linejoin="round"/>
<path d="M62.9,464.3 L94.7,465.3 L134.3,463.8 L176.9,463.4" stroke="#5b8ff0" stroke-width="0.6" fill="none" stroke-linejoin="round"/>
<path d="M62.9,483.2 L84.7,481.2 L120.4,483.2 L176.9,484.2" stroke="#5b8ff0" stroke-width="0.6" fill="none" stroke-linejoin="round"/>
<path d="M66.9,477.2 L94.7,471.3 L130.3,475.2 L174.0,469.3" stroke="#5b8ff0" stroke-width="0.6" fill="none" stroke-linejoin="round"/>
<path d="M62.9,455.4 L82.8,469.3 L114.5,461.4 L154.1,467.3 L175.9,465.3" stroke="#5b8ff0" stroke-width="0.6" fill="none" stroke-linejoin="round"/>
<path d="M62.9,458.4 L75.8,460.4 L148.2,425.3 L163.0,427.3 L177.5,460.4" stroke="#1eaa3a" stroke-width="0.7" fill="none" stroke-linejoin="round"/>
<path d="M69.9,452.5 L73.8,459.4 L83.7,485.2 L120.4,473.3 L134.3,477.2 L170.0,487.1" stroke="#1eaa3a" stroke-width="0.7" fill="none" stroke-linejoin="round"/>
<path d="M62.9,459.4 L84.7,466.3 L120.4,471.3 L134.3,481.2" stroke="#1eaa3a" stroke-width="0.7" fill="none" stroke-linejoin="round"/>
<line x1="119.40" y1="395.50" x2="119.40" y2="494.00" stroke="#222" stroke-width="1.0" stroke-dasharray="4,2.6"/>
<line x1="99.90" y1="469.70" x2="133.30" y2="469.70" stroke="#000" stroke-width="2.6" />
<rect x="50.60" y="380.60" width="138.90" height="10.50" fill="#fff" stroke="#333" stroke-width="0.9" />
<text x="68.30" y="389.20" font-size="9.5" text-anchor="start" fill="#000" >Single-cell-segment</text>
<line x1="50.60" y1="494.20" x2="189.50" y2="494.20" stroke="#222" stroke-width="0.9" />
<line x1="50.60" y1="391.00" x2="50.60" y2="494.20" stroke="#222" stroke-width="0.9" />
<line x1="48.80" y1="491.30" x2="50.60" y2="491.30" stroke="#222" stroke-width="0.8" />
<text x="43.30" y="494.20" font-size="9.5" text-anchor="end" fill="#000" >0</text>
<line x1="48.80" y1="469.75" x2="50.60" y2="469.75" stroke="#222" stroke-width="0.8" />
<text x="43.30" y="472.65" font-size="9.5" text-anchor="end" fill="#000" >10</text>
<line x1="48.80" y1="448.20" x2="50.60" y2="448.20" stroke="#222" stroke-width="0.8" />
<text x="43.30" y="451.10" font-size="9.5" text-anchor="end" fill="#000" >20</text>
<line x1="48.80" y1="426.65" x2="50.60" y2="426.65" stroke="#222" stroke-width="0.8" />
<text x="43.30" y="429.55" font-size="9.5" text-anchor="end" fill="#000" >30</text>
<line x1="48.80" y1="405.10" x2="50.60" y2="405.10" stroke="#222" stroke-width="0.8" />
<text x="43.30" y="408.00" font-size="9.5" text-anchor="end" fill="#000" >40</text>
<text x="155.00" y="399.90" font-size="9.5" text-anchor="middle" fill="#1eaa3a" >Single</text>
<text x="155.00" y="411.70" font-size="9.5" text-anchor="middle" fill="#1eaa3a" >membrane</text>
<line x1="78.10" y1="494.20" x2="78.10" y2="496.20" stroke="#222" stroke-width="0.8" />
<line x1="119.40" y1="494.20" x2="119.40" y2="496.20" stroke="#222" stroke-width="0.8" />
<line x1="160.70" y1="494.20" x2="160.70" y2="496.20" stroke="#222" stroke-width="0.8" />
<text x="73.40" y="505.20" font-size="9.5" text-anchor="middle" fill="#000" >-1</text>
<text x="119.40" y="505.20" font-size="9.5" text-anchor="middle" fill="#000" >0</text>
<text x="160.70" y="505.20" font-size="9.5" text-anchor="middle" fill="#000" >1</text>
<text x="13.50" y="447.20" font-size="9.0" text-anchor="middle" fill="#000" transform="rotate(-90 13.5 447.2)" >Half-maximum</text>
<text x="23.90" y="446.70" font-size="9.0" text-anchor="middle" fill="#000" transform="rotate(-90 23.9 446.7)" >recovery time (s)</text>
<rect x="202.10" y="391.10" width="62.90" height="102.60" fill="#ccf9cc" stroke="none" stroke-width="0.8" />
<rect x="265.00" y="391.10" width="63.70" height="102.60" fill="#ffcaca" stroke="none" stroke-width="0.8" />
<path d="M207.3,480.6 L229.8,479.6 L252.4,455.4 L272.0,471.5 L292.2,459.1 L310.2,470.9" stroke="#5b8ff0" stroke-width="0.6" fill="none" stroke-linejoin="round"/>
<path d="M208.4,483.0 L228.7,468.4 L244.9,475.3 L263.3,480.7 L280.2,469.7 L293.0,474.4 L309.7,480.7" stroke="#5b8ff0" stroke-width="0.6" fill="none" stroke-linejoin="round"/>
<path d="M227.9,479.7 L250.4,481.0 L275.1,483.4 L295.2,483.4 L320.7,480.2" stroke="#5b8ff0" stroke-width="0.6" fill="none" stroke-linejoin="round"/>
<path d="M217.0,474.4 L250.7,471.7 L279.3,475.2 L314.5,465.8" stroke="#5b8ff0" stroke-width="0.6" fill="none" stroke-linejoin="round"/>
<path d="M213.2,473.3 L243.5,459.7 L272.2,486.0 L294.4,466.1 L323.2,477.1" stroke="#5b8ff0" stroke-width="0.6" fill="none" stroke-linejoin="round"/>
<path d="M226.3,470.7 L238.6,481.9 L257.6,456.1 L267.8,468.7 L281.9,463.4 L300.9,471.7 L311.4,467.7" stroke="#5b8ff0" stroke-width="0.6" fill="none" stroke-linejoin="round"/>
<path d="M204.4,482.3 L220.0,448.8 L237.1,489.1 L253.7,478.9 L265.4,476.4 L283.6,474.5 L294.9,489.1" stroke="#5b8ff0" stroke-width="0.6" fill="none" stroke-linejoin="round"/>
<path d="M207.6,489.1 L226.6,489.1 L240.3,483.5 L253.9,478.9 L267.6,481.8 L282.7,474.9 L295.9,483.7" stroke="#5b8ff0" stroke-width="0.6" fill="none" stroke-linejoin="round"/>
<path d="M221.2,475.4 L235.2,448.0 L258.4,459.5 L276.7,473.6 L299.3,482.5 L316.8,471.3" stroke="#5b8ff0" stroke-width="0.6" fill="none" stroke-linejoin="round"/>
<path d="M210.0,482.2 L228.5,472.4 L246.9,476.5 L262.2,481.8 L274.9,481.4 L292.0,473.0" stroke="#5b8ff0" stroke-width="0.6" fill="none" stroke-linejoin="round"/>
<path d="M227.0,477.2 L256.7,474.4 L288.5,471.4 L319.2,474.0" stroke="#5b8ff0" stroke-width="0.6" fill="none" stroke-linejoin="round"/>
<path d="M217.3,458.6 L232.6,461.2 L247.9,468.5 L268.1,467.6 L288.7,466.6 L304.3,460.8" stroke="#5b8ff0" stroke-width="0.6" fill="none" stroke-linejoin="round"/>
<path d="M213.7,478.1 L238.9,476.3 L257.1,486.7 L276.0,485.4 L296.6,470.0 L318.3,479.4" stroke="#5b8ff0" stroke-width="0.6" fill="none" stroke-linejoin="round"/>
<path d="M218.4,489.1 L241.1,472.7 L265.0,486.6 L287.7,465.9 L311.5,481.0" stroke="#ee7466" stroke-width="0.6" fill="none" stroke-linejoin="round"/>
<path d="M222.6,489.1 L241.4,489.1 L264.9,489.1 L283.5,489.1 L308.4,486.1" stroke="#ee7466" stroke-width="0.6" fill="none" stroke-linejoin="round"/>
<path d="M220.0,469.3 L246.7,470.6 L270.7,484.3 L296.6,471.4" stroke="#ee7466" stroke-width="0.6" fill="none" stroke-linejoin="round"/>
<path d="M213.3,483.6 L238.1,488.2 L255.9,489.1 L278.9,480.9 L298.1,483.8 L320.8,483.8" stroke="#ee7466" stroke-width="0.6" fill="none" stroke-linejoin="round"/>
<path d="M218.0,473.8 L243.5,476.4 L266.8,475.1 L288.3,468.2 L318.9,481.2" stroke="#ee7466" stroke-width="0.6" fill="none" stroke-linejoin="round"/>
<path d="M221.7,489.1 L240.7,480.5 L254.5,483.0 L265.0,482.3 L281.6,482.3 L300.5,488.1" stroke="#ee7466" stroke-width="0.6" fill="none" stroke-linejoin="round"/>
<path d="M223.1,478.2 L244.1,483.3 L258.1,486.3 L279.0,474.6 L295.9,489.1 L314.6,484.0" stroke="#ee7466" stroke-width="0.6" fill="none" stroke-linejoin="round"/>
<path d="M218.0,489.1 L233.5,485.3 L246.6,484.0 L265.7,473.5 L278.1,473.6 L295.8,485.4 L305.6,472.7" stroke="#ee7466" stroke-width="0.6" fill="none" stroke-linejoin="round"/>
<path d="M214.0,476.1 L231.0,480.8 L251.8,472.2 L271.4,483.0 L284.4,479.4 L303.6,489.1 L323.6,478.8" stroke="#ee7466" stroke-width="0.6" fill="none" stroke-linejoin="round"/>
<path d="M223.6,481.9 L242.4,472.9 L263.2,479.5 L277.8,482.2 L296.6,479.0 L310.4,485.5" stroke="#ee7466" stroke-width="0.6" fill="none" stroke-linejoin="round"/>
<path d="M213.3,473.8 L226.5,466.7 L246.6,469.4 L260.0,470.2 L277.5,477.0 L288.0,463.3 L305.2,483.5" stroke="#ee7466" stroke-width="0.6" fill="none" stroke-linejoin="round"/>
<path d="M207.7,487.5 L237.4,485.8 L265.1,488.1 L293.2,471.4 L322.4,472.5" stroke="#ee7466" stroke-width="0.6" fill="none" stroke-linejoin="round"/>
<path d="M210.9,477.1 L229.9,475.3 L251.0,477.8 L266.6,480.0 L284.5,479.8 L298.8,474.3 L316.7,482.6" stroke="#ee7466" stroke-width="0.6" fill="none" stroke-linejoin="round"/>
<path d="M223.3,467.0 L244.4,470.8 L265.8,478.6 L285.9,471.7 L305.2,473.8 L322.6,462.5" stroke="#ee7466" stroke-width="0.6" fill="none" stroke-linejoin="round"/>
<path d="M219.0,482.4 L249.1,454.5 L278.3,476.2 L307.5,476.0" stroke="#ee7466" stroke-width="0.6" fill="none" stroke-linejoin="round"/>
<path d="M218.9,473.8 L237.5,476.8 L253.4,479.2 L267.7,479.6 L289.5,489.1 L303.6,488.0 L323.1,487.7" stroke="#1eaa3a" stroke-width="0.7" fill="none" stroke-linejoin="round"/>
<path d="M220.2,482.3 L235.5,488.6 L248.6,488.8 L263.3,483.2 L281.2,489.1 L298.8,489.1 L312.9,486.0" stroke="#1eaa3a" stroke-width="0.7" fill="none" stroke-linejoin="round"/>
<path d="M222.4,482.1 L238.0,475.1 L258.9,485.7 L270.1,471.8 L291.9,467.6 L309.6,472.0 L325.1,482.1" stroke="#1eaa3a" stroke-width="0.7" fill="none" stroke-linejoin="round"/>
<path d="M218.3,487.5 L241.2,483.2 L258.6,489.1 L273.1,480.3 L294.7,486.4 L310.0,477.1" stroke="#1eaa3a" stroke-width="0.7" fill="none" stroke-linejoin="round"/>
<path d="M219.4,484.3 L241.9,484.4 L260.7,480.1 L278.3,480.7 L304.1,480.1" stroke="#1eaa3a" stroke-width="0.7" fill="none" stroke-linejoin="round"/>
<path d="M223.0,487.3 L240.5,480.0 L257.6,473.5 L274.3,488.5 L297.7,489.1 L311.1,479.0" stroke="#1eaa3a" stroke-width="0.7" fill="none" stroke-linejoin="round"/>
<path d="M216.7,485.1 L237.1,481.4 L252.8,463.5 L277.0,478.4 L293.6,487.1 L312.7,488.6" stroke="#1eaa3a" stroke-width="0.7" fill="none" stroke-linejoin="round"/>
<path d="M210.6,469.4 L237.7,464.0 L264.1,474.2 L294.5,472.4 L319.0,475.9" stroke="#1eaa3a" stroke-width="0.7" fill="none" stroke-linejoin="round"/>
<path d="M217.7,489.1 L229.3,489.1 L249.1,480.8 L263.2,480.2 L278.9,482.7 L289.4,472.7 L304.8,477.9" stroke="#1eaa3a" stroke-width="0.7" fill="none" stroke-linejoin="round"/>
<path d="M223.2,475.6 L241.7,478.2 L255.5,485.9 L265.5,481.9 L281.4,483.2 L296.2,489.1" stroke="#1eaa3a" stroke-width="0.7" fill="none" stroke-linejoin="round"/>
<path d="M214.9,395.9 L228.7,456.4 L243.6,439.6 L253.5,455.4 L265.4,469.3" stroke="#1eaa3a" stroke-width="0.7" fill="none" stroke-linejoin="round"/>
<path d="M243.6,469.3 L276.3,420.7" stroke="#1eaa3a" stroke-width="0.7" fill="none" stroke-linejoin="round"/>
<path d="M265.4,469.3 L283.3,412.8 L295.2,455.4" stroke="#1eaa3a" stroke-width="0.7" fill="none" stroke-linejoin="round"/>
<path d="M275.3,455.4 L287.2,429.7 L299.1,465.3" stroke="#1eaa3a" stroke-width="0.7" fill="none" stroke-linejoin="round"/>
<path d="M299.1,451.5 L313.0,416.8 L326.9,477.2" stroke="#1eaa3a" stroke-width="0.7" fill="none" stroke-linejoin="round"/>
<path d="M303.1,459.4 L316.0,426.7 L326.9,453.4" stroke="#1eaa3a" stroke-width="0.7" fill="none" stroke-linejoin="round"/>
<path d="M204.0,483.2 L217.8,466.3 L239.7,473.3 L257.5,487.1" stroke="#1eaa3a" stroke-width="0.7" fill="none" stroke-linejoin="round"/>
<path d="M213.9,431.6 L225.8,467.3 L239.7,469.3" stroke="#ee7466" stroke-width="0.6" fill="none" stroke-linejoin="round"/>
<path d="M285.2,473.3 L301.1,459.4 L310.0,422.7" stroke="#ee7466" stroke-width="0.6" fill="none" stroke-linejoin="round"/>
<path d="M203.0,464.3 L217.8,475.2 L231.7,473.3" stroke="#ee7466" stroke-width="0.6" fill="none" stroke-linejoin="round"/>
<path d="M205.9,426.7 L216.9,465.3 L229.7,469.3" stroke="#5b8ff0" stroke-width="0.6" fill="none" stroke-linejoin="round"/>
<path d="M319.0,439.6 L307.1,469.3" stroke="#5b8ff0" stroke-width="0.6" fill="none" stroke-linejoin="round"/>
<path d="M325.9,449.5 L311.0,473.3" stroke="#5b8ff0" stroke-width="0.6" fill="none" stroke-linejoin="round"/>
<path d="M205.9,451.5 L235.7,459.4 L257.5,455.4 L283.3,457.4 L303.1,451.5" stroke="#5b8ff0" stroke-width="0.6" fill="none" stroke-linejoin="round"/>
<line x1="265.00" y1="395.50" x2="265.00" y2="494.00" stroke="#222" stroke-width="1.0" stroke-dasharray="4,2.6"/>
<path d="M230.4,476.0 L240.0,475.5 L250.0,476.2 L265.0,474.8 L275.0,475.0 L285.0,476.5 L290.0,477.5 L296.0,475.5 L306.0,474.5" stroke="#000" stroke-width="2.6" fill="none" />
<rect x="195.60" y="380.60" width="139.30" height="10.50" fill="#fff" stroke="#333" stroke-width="0.9" />
<text x="225.30" y="389.20" font-size="9.5" text-anchor="start" fill="#000" >Transition zone</text>
<line x1="195.60" y1="494.20" x2="334.90" y2="494.20" stroke="#222" stroke-width="0.9" />
<line x1="223.40" y1="494.20" x2="223.40" y2="496.20" stroke="#222" stroke-width="0.8" />
<line x1="265.00" y1="494.20" x2="265.00" y2="496.20" stroke="#222" stroke-width="0.8" />
<line x1="306.60" y1="494.20" x2="306.60" y2="496.20" stroke="#222" stroke-width="0.8" />
<text x="219.00" y="505.20" font-size="9.5" text-anchor="middle" fill="#000" >-1</text>
<text x="265.00" y="505.20" font-size="9.5" text-anchor="middle" fill="#000" >0</text>
<text x="306.60" y="505.20" font-size="9.5" text-anchor="middle" fill="#000" >1</text>
<text x="240.80" y="519.50" font-size="9.5" text-anchor="middle" fill="#000" >Membrane length(µm)</text>
<rect x="342.70" y="391.10" width="130.30" height="102.60" fill="#ffcaca" stroke="none" stroke-width="0.8" />
<path d="M355.3,473.9 L383.0,474.3 L406.9,455.6 L436.2,479.7 L460.5,480.3" stroke="#5b8ff0" stroke-width="0.6" fill="none" stroke-linejoin="round"/>
<path d="M351.1,479.9 L391.6,480.4 L423.9,473.1 L458.5,476.7" stroke="#5b8ff0" stroke-width="0.6" fill="none" stroke-linejoin="round"/>
<path d="M370.1,475.3 L400.3,452.6 L428.9,464.2 L457.8,474.5" stroke="#5b8ff0" stroke-width="0.6" fill="none" stroke-linejoin="round"/>
<path d="M370.7,484.9 L406.3,475.1 L438.5,479.6 L471.5,473.0" stroke="#5b8ff0" stroke-width="0.6" fill="none" stroke-linejoin="round"/>
<path d="M363.4,463.9 L388.0,471.9 L411.8,470.2 L430.9,473.2 L455.3,469.5" stroke="#5b8ff0" stroke-width="0.6" fill="none" stroke-linejoin="round"/>
<path d="M355.9,473.6 L388.5,457.7 L422.9,464.8 L452.8,465.7" stroke="#5b8ff0" stroke-width="0.6" fill="none" stroke-linejoin="round"/>
<path d="M373.7,465.3 L397.7,460.7 L419.4,465.6 L449.3,467.7" stroke="#5b8ff0" stroke-width="0.6" fill="none" stroke-linejoin="round"/>
<path d="M360.7,476.9 L395.1,484.0 L425.0,469.9 L461.1,473.9" stroke="#5b8ff0" stroke-width="0.6" fill="none" stroke-linejoin="round"/>
<path d="M357.7,481.8 L387.9,471.4 L409.6,468.5 L440.3,472.0 L469.8,458.0" stroke="#5b8ff0" stroke-width="0.6" fill="none" stroke-linejoin="round"/>
<path d="M364.8,472.7 L382.6,489.1 L400.5,476.0 L420.0,479.3 L441.8,486.3 L459.0,480.4" stroke="#5b8ff0" stroke-width="0.6" fill="none" stroke-linejoin="round"/>
<path d="M372.0,473.4 L386.8,455.2 L404.1,472.8 L424.8,472.7 L444.3,462.7" stroke="#5b8ff0" stroke-width="0.6" fill="none" stroke-linejoin="round"/>
<path d="M355.5,477.6 L372.2,481.3 L391.5,470.0 L413.9,456.2 L430.5,471.4 L445.4,487.2 L465.6,479.9" stroke="#5b8ff0" stroke-width="0.6" fill="none" stroke-linejoin="round"/>
<path d="M364.6,486.0 L391.0,481.2 L417.1,474.9 L443.1,475.4 L469.4,468.9" stroke="#5b8ff0" stroke-width="0.6" fill="none" stroke-linejoin="round"/>
<path d="M363.5,467.5 L389.8,471.3 L426.9,472.9 L457.3,465.9" stroke="#5b8ff0" stroke-width="0.6" fill="none" stroke-linejoin="round"/>
<path d="M362.1,466.6 L383.6,454.4 L398.9,471.2 L413.8,476.7 L431.1,480.4 L449.6,482.2" stroke="#5b8ff0" stroke-width="0.6" fill="none" stroke-linejoin="round"/>
<path d="M356.7,475.8 L383.9,473.1 L413.5,468.9 L436.6,476.8 L462.4,461.9" stroke="#5b8ff0" stroke-width="0.6" fill="none" stroke-linejoin="round"/>
<path d="M353.9,473.3 L393.5,469.3 L411.4,409.8 L427.2,465.3 L459.0,475.2" stroke="#5b8ff0" stroke-width="0.6" fill="none" stroke-linejoin="round"/>
<path d="M379.7,473.3 L397.5,449.5 L403.4,436.6 L423.3,457.4 L439.1,473.3" stroke="#5b8ff0" stroke-width="0.6" fill="none" stroke-linejoin="round"/>
<path d="M353.9,469.3 L365.8,467.3 L375.7,442.5 L387.6,463.4 L399.5,473.3" stroke="#5b8ff0" stroke-width="0.6" fill="none" stroke-linejoin="round"/>
<path d="M423.3,471.3 L451.0,455.4 L460.9,439.6 L451.0,473.3" stroke="#5b8ff0" stroke-width="0.6" fill="none" stroke-linejoin="round"/>
<path d="M360.8,455.4 L433.2,455.4 L468.9,467.3" stroke="#5b8ff0" stroke-width="0.6" fill="none" stroke-linejoin="round"/>
<path d="M360.8,484.2 L403.4,466.3 L411.4,475.2 L447.1,488.1 L460.9,469.3" stroke="#1eaa3a" stroke-width="0.7" fill="none" stroke-linejoin="round"/>
<line x1="411.30" y1="395.50" x2="411.30" y2="494.00" stroke="#222" stroke-width="1.0" stroke-dasharray="4,2.6"/>
<path d="M390.0,472.2 L398.0,473.2 L406.0,473.5 L411.0,472.8 L420.0,472.0 L428.0,471.5 L432.0,470.5 L436.0,472.0 L439.0,473.0" stroke="#000" stroke-width="2.6" fill="none" />
<rect x="341.30" y="380.60" width="138.80" height="10.50" fill="#fff" stroke="#333" stroke-width="0.9" />
<text x="369.60" y="389.20" font-size="9.5" text-anchor="start" fill="#000" >Cell-cell-contact</text>
<line x1="341.30" y1="494.20" x2="480.10" y2="494.20" stroke="#222" stroke-width="0.9" />
<text x="366.80" y="401.40" font-size="9.5" text-anchor="middle" fill="#f08a80" >Cell-cell</text>
<text x="368.20" y="412.70" font-size="9.5" text-anchor="middle" fill="#f08a80" >contact</text>
<line x1="369.00" y1="494.20" x2="369.00" y2="496.20" stroke="#222" stroke-width="0.8" />
<line x1="411.30" y1="494.20" x2="411.30" y2="496.20" stroke="#222" stroke-width="0.8" />
<line x1="453.60" y1="494.20" x2="453.60" y2="496.20" stroke="#222" stroke-width="0.8" />
<text x="363.60" y="505.20" font-size="9.5" text-anchor="middle" fill="#000" >-1</text>
<text x="411.30" y="505.20" font-size="9.5" text-anchor="middle" fill="#000" >0</text>
<text x="452.00" y="505.20" font-size="9.5" text-anchor="middle" fill="#000" >1</text>
<line x1="550.80" y1="383.70" x2="550.80" y2="493.20" stroke="#222" stroke-width="0.9" />
<line x1="550.80" y1="493.20" x2="622.50" y2="493.20" stroke="#222" stroke-width="0.9" />
<line x1="549.00" y1="490.80" x2="550.80" y2="490.80" stroke="#222" stroke-width="0.8" />
<text x="547.30" y="494.20" font-size="9.5" text-anchor="end" fill="#000" >0</text>
<line x1="549.00" y1="459.80" x2="550.80" y2="459.80" stroke="#222" stroke-width="0.8" />
<text x="547.30" y="463.20" font-size="9.5" text-anchor="end" fill="#000" >10</text>
<line x1="549.00" y1="428.80" x2="550.80" y2="428.80" stroke="#222" stroke-width="0.8" />
<text x="547.30" y="432.20" font-size="9.5" text-anchor="end" fill="#000" >20</text>
<line x1="549.00" y1="397.80" x2="550.80" y2="397.80" stroke="#222" stroke-width="0.8" />
<text x="547.30" y="401.20" font-size="9.5" text-anchor="end" fill="#000" >30</text>
<line x1="564.20" y1="493.20" x2="564.20" y2="495.00" stroke="#222" stroke-width="0.8" />
<line x1="587.50" y1="493.20" x2="587.50" y2="495.00" stroke="#222" stroke-width="0.8" />
<line x1="610.10" y1="493.20" x2="610.10" y2="495.00" stroke="#222" stroke-width="0.8" />
<text x="519.80" y="438.40" font-size="9.5" text-anchor="middle" fill="#000" transform="rotate(-90 519.8 438.4)" >Half-maximum</text>
<text x="532.30" y="437.30" font-size="9.5" text-anchor="middle" fill="#000" transform="rotate(-90 532.3 437.3)" >recovery time (s)</text>
<text x="572.60" y="370.40" font-size="7" text-anchor="start" fill="#222" >p=0.58</text>
<path d="M560.9,375.7 V373.5 H608.3 V375.7" stroke="#222" stroke-width="0.75" fill="none" />
<text x="588.30" y="382.10" font-size="7" text-anchor="start" fill="#222" >p=1.0</text>
<path d="M587.5,386.5 V384.3 H608.3 V386.5" stroke="#222" stroke-width="0.75" fill="none" />
<text x="559.30" y="390.90" font-size="7" text-anchor="start" fill="#222" >p=0.047</text>
<path d="M561.3,395.1 V392.9 H584.8 V395.1" stroke="#222" stroke-width="0.75" fill="none" />
<path d="M562.5,415.0 C562.5,415.8 562.4,418.2 562.2,420.0 C562.1,421.8 561.9,424.0 561.6,426.0 C561.4,428.0 561.2,430.0 560.7,432.0 C560.2,434.0 559.5,436.0 558.7,438.0 C557.9,440.0 556.8,442.0 556.0,444.0 C555.2,446.0 554.4,448.0 554.0,450.0 C553.6,452.0 553.7,454.0 553.8,456.0 C553.9,458.0 554.3,460.0 554.6,462.0 C554.9,464.0 555.2,466.0 555.4,468.0 C555.6,470.0 555.6,472.4 555.6,474.0 C555.6,475.6 555.4,477.2 555.4,477.9 L573.0,477.9 C573.0,477.2 572.8,475.6 572.8,474.0 C572.8,472.4 572.8,470.0 573.0,468.0 C573.2,466.0 573.5,464.0 573.8,462.0 C574.1,460.0 574.5,458.0 574.6,456.0 C574.7,454.0 574.8,452.0 574.4,450.0 C574.0,448.0 573.2,446.0 572.4,444.0 C571.6,442.0 570.5,440.0 569.7,438.0 C568.9,436.0 568.2,434.0 567.7,432.0 C567.2,430.0 567.1,428.0 566.8,426.0 C566.6,424.0 566.4,421.8 566.2,420.0 C566.1,418.2 566.0,415.8 565.9,415.0 Z" fill="#14a814" stroke="#222" stroke-width="0.7" stroke-linejoin="round"/>
<line x1="555.40" y1="477.90" x2="573.00" y2="477.90" stroke="#222" stroke-width="0.7" />
<line x1="564.20" y1="422.00" x2="564.20" y2="447.20" stroke="#222" stroke-width="0.6" />
<line x1="564.20" y1="467.00" x2="564.20" y2="477.90" stroke="#222" stroke-width="0.6" />
<rect x="559.50" y="447.20" width="9.40" height="19.80" fill="none" stroke="#222" stroke-width="0.7" />
<line x1="559.50" y1="455.30" x2="568.90" y2="455.30" stroke="#222" stroke-width="0.7" />
<path d="M587.2,389.0 C587.2,390.8 587.0,396.5 586.9,400.0 C586.8,403.5 586.7,406.7 586.6,410.0 C586.5,413.3 586.4,416.7 586.2,420.0 C586.0,423.3 585.8,427.0 585.5,430.0 C585.2,433.0 584.8,435.5 584.3,438.0 C583.8,440.5 583.1,442.7 582.3,445.0 C581.5,447.3 580.3,449.8 579.5,452.0 C578.7,454.2 578.0,456.0 577.5,458.0 C577.0,460.0 576.8,462.0 576.8,464.0 C576.8,466.0 576.9,468.0 577.2,470.0 C577.5,472.0 577.8,474.0 578.5,476.0 C579.2,478.0 580.4,480.3 581.3,482.0 C582.2,483.7 583.0,485.0 583.7,486.0 C584.4,487.0 585.0,487.7 585.3,488.0 L589.7,488.0 C590.0,487.7 590.6,487.0 591.3,486.0 C592.0,485.0 592.8,483.7 593.7,482.0 C594.6,480.3 595.8,478.0 596.5,476.0 C597.2,474.0 597.5,472.0 597.8,470.0 C598.1,468.0 598.2,466.0 598.2,464.0 C598.2,462.0 598.0,460.0 597.5,458.0 C597.0,456.0 596.3,454.2 595.5,452.0 C594.7,449.8 593.5,447.3 592.7,445.0 C591.9,442.7 591.2,440.5 590.7,438.0 C590.2,435.5 589.8,433.0 589.5,430.0 C589.2,427.0 589.0,423.3 588.8,420.0 C588.6,416.7 588.5,413.3 588.4,410.0 C588.3,406.7 588.2,403.5 588.1,400.0 C588.0,396.5 587.8,390.8 587.8,389.0 Z" fill="#6699ee" stroke="#222" stroke-width="0.7" stroke-linejoin="round"/>
<line x1="584.00" y1="488.10" x2="591.00" y2="488.10" stroke="#222" stroke-width="0.7" />
<line x1="587.50" y1="420.00" x2="587.50" y2="456.40" stroke="#222" stroke-width="0.6" />
<line x1="587.50" y1="476.10" x2="587.50" y2="488.00" stroke="#222" stroke-width="0.6" />
<rect x="583.20" y="456.40" width="8.60" height="19.70" fill="none" stroke="#222" stroke-width="0.7" />
<line x1="583.20" y1="465.50" x2="591.80" y2="465.50" stroke="#222" stroke-width="0.7" />
<path d="M606.7,444.5 C606.5,445.1 606.1,446.8 605.6,448.0 C605.1,449.2 604.3,450.5 603.6,452.0 C602.9,453.5 602.2,455.3 601.6,457.0 C601.0,458.7 600.4,460.7 600.1,462.0 C599.8,463.3 599.6,463.8 599.8,465.0 C600.1,466.2 600.8,467.7 601.6,469.0 C602.4,470.3 603.6,471.7 604.6,473.0 C605.6,474.3 606.6,475.8 607.3,477.0 C608.0,478.2 608.4,478.9 608.7,480.0 C609.0,481.1 609.0,483.0 609.1,483.6 L611.1,483.6 C611.2,483.0 611.2,481.1 611.5,480.0 C611.8,478.9 612.2,478.2 612.9,477.0 C613.6,475.8 614.6,474.3 615.6,473.0 C616.6,471.7 617.8,470.3 618.6,469.0 C619.4,467.7 620.1,466.2 620.4,465.0 C620.6,463.8 620.4,463.3 620.1,462.0 C619.8,460.7 619.2,458.7 618.6,457.0 C618.0,455.3 617.3,453.5 616.6,452.0 C615.9,450.5 615.1,449.2 614.6,448.0 C614.1,446.8 613.7,445.1 613.5,444.5 Z" fill="#c46262" stroke="#222" stroke-width="0.7" stroke-linejoin="round"/>
<line x1="606.70" y1="444.50" x2="613.50" y2="444.50" stroke="#222" stroke-width="0.7" />
<line x1="610.10" y1="445.00" x2="610.10" y2="455.80" stroke="#222" stroke-width="0.6" />
<line x1="610.10" y1="468.20" x2="610.10" y2="483.50" stroke="#222" stroke-width="0.6" />
<rect x="605.80" y="455.80" width="8.60" height="12.40" fill="none" stroke="#222" stroke-width="0.7" />
<line x1="605.80" y1="463.70" x2="614.40" y2="463.70" stroke="#222" stroke-width="0.7" />
<text x="567.10" y="502.60" font-size="9.3" text-anchor="end" fill="#000" transform="rotate(-45 567.1 502.6)" >Single</text>
<text x="592.90" y="502.60" font-size="9.3" text-anchor="end" fill="#000" transform="rotate(-45 592.9 502.6)" >Transition</text>
<text x="615.50" y="502.60" font-size="9.3" text-anchor="end" fill="#000" transform="rotate(-45 615.5 502.6)" >Contact</text>
</svg>
</body></html>
